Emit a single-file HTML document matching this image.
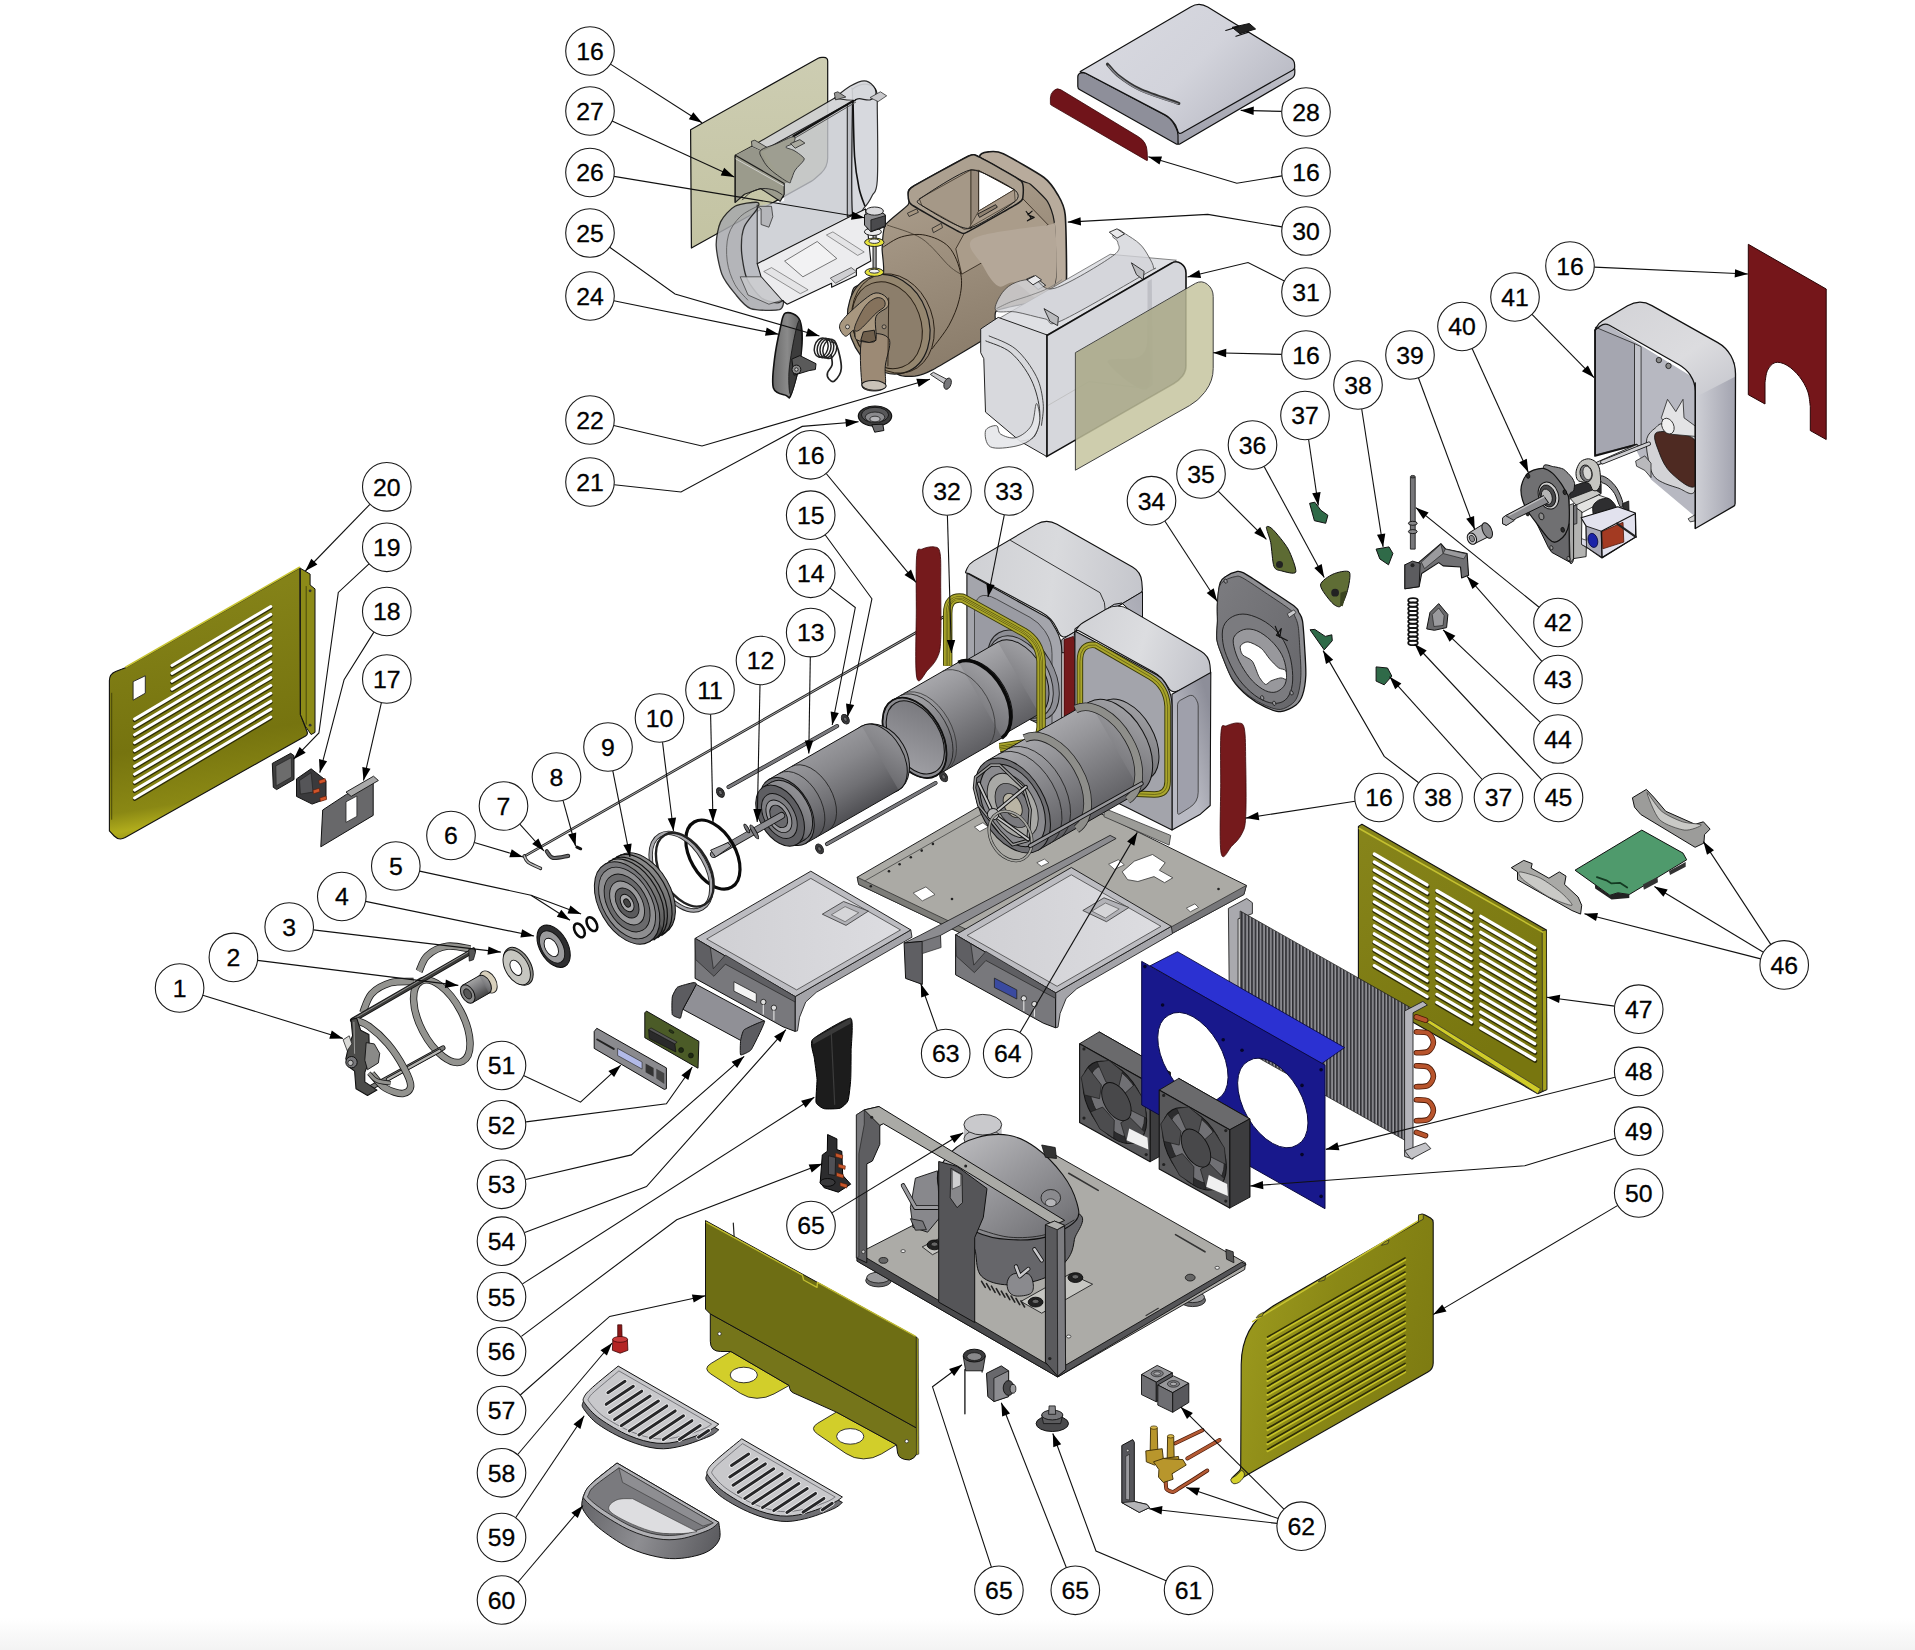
<!DOCTYPE html>
<html lang="en"><head><meta charset="utf-8"><title>Exploded view - parts diagram</title>
<style>html,body{margin:0;padding:0;background:#fff}body{width:1915px;height:1650px;overflow:hidden}svg{display:block}
text{font-family:"Liberation Sans","DejaVu Sans",sans-serif;font-size:24.8px;fill:#000;stroke:#000;stroke-width:0.3px;letter-spacing:0px;text-anchor:middle}</style></head><body>
<svg width="1915" height="1650" viewBox="0 0 1915 1650">
<rect width="1915" height="1650" fill="#fff"/>
<defs><linearGradient id="gFoot" x1="0" y1="0" x2="0" y2="1"><stop offset="0" stop-color="#ffffff"/><stop offset="1" stop-color="#f3f3f3"/></linearGradient></defs>
<rect x="0" y="1618" width="1915" height="32" fill="url(#gFoot)"/>
<g id="parts">
<defs><linearGradient id="gBeige" x1="0" y1="0" x2="0" y2="1"><stop offset="0" stop-color="#cdcdb2"/><stop offset="1" stop-color="#c3c3a2"/></linearGradient></defs>
<path d="M690.6 129.8L818.2 58.3 Q819.9 57.3 821.9 57.3L823.8 57.3 Q827.7 57.3 827.7 61.2L827.7 158.1 Q827.7 167.1 821 173.2L814.8 178.8 Q813.3 180.2 811.6 181.1L691.4 248Z" fill="url(#gBeige)" stroke="#111" stroke-width="1.2" stroke-linejoin="round" />
<polygon points="761.1,147.5 847.3,103.1 847.3,216.7 757.2,263.7 757.2,206.3 784.1,201 784.1,183.3" fill="#c6c8ce" opacity="0.8" stroke-linejoin="round" />
<polygon points="757.2,206.3 757.2,263.7 761.1,276.8 745.4,278.1 740.7,250.7 744.1,224.5" fill="#b4b6bc" opacity="0.9" stroke-linejoin="round" />
<polygon points="847.3,103.1 852.5,100.5 852.5,214.1 847.3,216.7" fill="#b8bac0" stroke="#111" stroke-width="1.1" opacity="0.9" stroke-linejoin="round" />
<path d="M852.5 100.5 C852.6 79.6 850.8 91.5 853 88.8 C855.2 86 861.7 83.9 865.5 84.1 C869.4 84.3 874 85.8 876 90.1 C877.9 94.3 877.1 94.6 877.3 109.7 C877.5 124.7 878.2 165.8 877.3 180.2 C876.4 194.5 874.2 191.3 872.1 195.8 C869.9 200.4 867.5 204.5 864.2 207.6 C861 210.6 854.4 231.9 852.5 214.1 C850.5 196.3 852.4 121.4 852.5 100.5Z" fill="#d3d5db" stroke="#1a1a1a" stroke-width="1.2" opacity="0.9" stroke-linejoin="round" />
<path d="M853 100.5 C853.3 109.9 853.6 142.1 854.6 156.7 C855.6 171.2 857.3 179.7 859 188 C860.7 196.3 864 203.2 865 206.3" fill="none" stroke="#111" stroke-width="1.6" stroke-linejoin="round" />
<polygon points="757.2,263.7 848.6,217.2 865.5,208.9 870.8,261.1 856.4,268.9 856.4,275.5 831.6,287.2 831.6,283.3 787.2,304.2 782,300.3 761.1,276.8" fill="#ececee" stroke="#111" stroke-width="1.1" stroke-linejoin="round" />
<polygon points="784.6,261.1 817.2,241.5 836.8,258.5 802.9,276.8" fill="#f2f2f3" stroke="#444" stroke-width="0.7" stroke-linejoin="round" />
<polygon points="763.7,271.5 771.5,267.6 808.1,289.8 800.3,293.7" fill="#e4e4e6" stroke="#555" stroke-width="0.6" stroke-linejoin="round" />
<polygon points="826.4,235 832.9,231.9 864.2,252 857.7,255.4" fill="#e4e4e6" stroke="#555" stroke-width="0.6" stroke-linejoin="round" />
<polygon points="830.3,278.1 851.2,267.6 856.4,271.5 835.5,283.3" fill="#cfcfd2" stroke="#333" stroke-width="0.7" stroke-linejoin="round" />
<polygon points="735.3,155.2 751.4,146.5 834.3,98.2 847,99.9 855,99.9 765.2,149.4 760.6,150.5" fill="#d0d1d3" stroke="#111" stroke-width="1.1" opacity="0.9" stroke-linejoin="round" />
<polyline points="793.4,136.2 855,99.9" fill="none" stroke="#111" stroke-width="2.2" stroke-linejoin="round" stroke-linecap="round" />
<polyline points="795.2,137.9 855.6,102.2" fill="none" stroke="#555" stroke-width="1" stroke-linejoin="round" stroke-linecap="round" />
<path d="M834.3 98.2 C837 96.1 845.4 88.9 850.4 86.1 C855.4 83.2 860.4 80.9 864.2 80.9 C868.1 80.9 871.5 83.9 873.5 86.1 C875.4 88.3 876.3 91.8 875.8 94.1 C875.2 96.4 872.7 99.1 870 99.9 C867.3 100.6 862.1 98.7 859.6 98.7 C857.1 98.7 855.8 99.7 855 99.9" fill="#d6d8dc" stroke="#111" stroke-width="1.2" opacity="0.9" stroke-linejoin="round" />
<polygon points="870,97.6 880.4,91.8 886.7,95.8 878.1,101.6" fill="#c9c9cc" stroke="#333" stroke-width="0.8" stroke-linejoin="round" />
<polygon points="834.3,93 837.8,91.8 845.8,97 835.5,99.9" fill="#9a9a98" stroke="#222" stroke-width="0.8" stroke-linejoin="round" />
<polygon points="751.4,141.3 754.8,140.2 767.5,147.7 760.6,150.5 752,146.5" fill="#a4a49a" stroke="#222" stroke-width="0.8" stroke-linejoin="round" />
<polygon points="735.3,155.2 751.4,147.1 760.6,150.5 771,170.1 788.2,182.2 784.2,183.4" fill="#96968a" stroke-linejoin="round" />
<polygon points="735.3,155.2 784.2,183.4 784.2,194.3 780.2,201.2 760.6,188.5 744.5,194.3 735.3,202.4" fill="#98988a" stroke="#111" stroke-width="1.2" opacity="0.92" stroke-linejoin="round" />
<polyline points="735.3,158.6 783.6,185.7" fill="none" stroke="#ddd" stroke-width="0.8" stroke-linejoin="round" stroke-linecap="round" />
<path d="M760.6 150.5 C758.3 153.2 761.2 156.5 762.9 159.8 C764.6 163 766.7 166.4 771 170.1 C775.2 173.9 784.9 180.6 788.2 182.2 C791.6 183.8 790 181.9 791.1 179.9 C792.3 177.9 793 173.4 795.2 170.1 C797.3 166.9 802.6 162.6 803.8 160.3 C804.9 158 803.7 157.9 802.1 156.3 C800.4 154.7 796.7 152.1 794 150.5 C791.3 149 786 148.3 785.9 147.1 C785.8 145.8 792.2 144.8 793.4 143.1 C794.7 141.3 796.2 136.6 793.4 136.7 C790.6 136.8 782.2 141.3 776.7 143.6 C771.3 145.9 762.9 147.9 760.6 150.5Z" fill="#9a9a8c" stroke="#222" stroke-width="0.9" opacity="0.9" stroke-linejoin="round" />
<polygon points="790.5,143.6 799.8,139.6 804.9,143.1 795.2,148.2" fill="#a9a99f" stroke="#222" stroke-width="0.8" stroke-linejoin="round" />
<path d="M742.2 200.1 C743.7 198.7 747.9 193.9 751.4 192 C754.8 190.1 759.1 188.8 762.9 188.5 C766.7 188.3 771.2 189.2 774.4 190.3 C777.7 191.3 781.1 194.1 782.5 194.9" fill="none" stroke="#222" stroke-width="0.9" stroke-linejoin="round" />
<path d="M757.2 202.3 C754.2 202 739.9 203.7 735 206.3 C730.1 208.9 723.1 216.7 720.6 221.9 C718.1 227.2 716 238.5 716.2 245.4 C716.4 252.4 719.4 267.7 721.9 274.2 C724.4 280.6 731.2 289.1 735 293.7 C738.8 298.3 744.7 306.5 750.7 308.6 C756.6 310.7 775 310.7 779.4 309.7 C783.7 308.6 783.6 301.7 783.3 300.8 C782.9 299.9 779.7 303.3 776.8 302.9 C773.8 302.5 765.1 301 761.1 297.7 C757.1 294.3 749.3 284.3 746.7 278.1 C744.1 271.8 741.9 257.4 741.5 250.7 C741.2 243.9 742 232.7 744.1 227.2 C746.2 221.6 755.4 212.2 757.2 208.9 C758.9 205.6 760.1 202.7 757.2 202.3Z" fill="#a7a9ad" stroke="#111" stroke-width="1.3" opacity="0.85" stroke-linejoin="round" />
<path d="M757.2 206.3 C754.4 208 745 211.9 740.2 216.7 C735.4 221.5 730.6 227.6 728.5 235 C726.3 242.4 726.1 252.8 727.2 261.1 C728.2 269.4 731.5 278.1 735 284.6 C738.5 291.1 745.9 297.7 748 300.3" fill="none" stroke="#555" stroke-width="0.8" stroke-linejoin="round" />
<polyline points="757.2,205 757.2,263.7" fill="none" stroke="#222" stroke-width="1" stroke-linejoin="round" stroke-linecap="round" />
<polygon points="757.2,206.3 771.5,206.3 772.8,216.7 768.9,227.2 761.1,224.5 761.1,208.9" fill="#b5b6ba" stroke="#333" stroke-width="0.8" stroke-linejoin="round" />
<polygon points="740.2,276.8 748,295 768.9,304.2 782,300.3 761.1,276.8" fill="#c6c7ca" stroke="#333" stroke-width="0.8" opacity="0.9" stroke-linejoin="round" />
<polyline points="735,156.1 735,202.3" fill="none" stroke="#222" stroke-width="1.1" stroke-linejoin="round" stroke-linecap="round" />
<defs><linearGradient id="gBowl" x1="0" y1="0" x2="0.3" y2="1"><stop offset="0" stop-color="#b3a695"/><stop offset="0.5" stop-color="#9f917f"/><stop offset="1" stop-color="#8b7d6b"/></linearGradient></defs>
<path d="M979.5 157.2 C979.5 151.8 986.9 152.1 989.7 151.7 C992.5 151.3 996.9 150.7 1003.3 153.8 C1009.6 156.8 1037.7 172.8 1044 177.5 C1050.3 182.3 1055.1 190.1 1057.6 194.5 C1060.1 198.8 1064.2 204.6 1065.2 214.8 C1066.2 225.1 1066.8 274 1066.4 282.7 C1066 291.4 1063.2 288.5 1061.8 289.5 C1060.4 290.5 1056.1 291.4 1054.2 291.2 C1052.3 291 1049.3 292.8 1045.7 287.8 C1042.1 282.9 1030.2 259.3 1023.6 248.8 C1017.1 238.3 994.8 208.6 989.7 197.9 C984.5 187.2 979.5 162.5 979.5 157.2Z" fill="#b8ab9c" stroke="#1a1a1a" stroke-width="1.6" stroke-linejoin="round" />
<path d="M882.8 275.6 C885.4 272 881.9 253.4 882.1 248.8 C882.3 244.2 882.9 229.1 885.3 225 C887.7 221 906.1 207.7 908.2 204.7 C910.3 201.6 907.8 193.6 908.2 191.9 C908.7 190.3 907.4 189.8 913 186.5 C918.6 183.2 963.1 158.4 969.3 155.8 C975.6 153.2 976.4 155.7 981.2 158 C986 160.3 1017.4 178.5 1021.9 180.9 C1026.5 183.3 1028.1 182.4 1030.4 184.3 C1032.8 186.2 1045.2 197.9 1047.4 201.3 C1049.6 204.7 1053.4 214.3 1054.2 221.6 C1054.9 228.9 1056.8 273.9 1055.5 281 C1054.3 288.2 1046 297 1040.6 299.7 C1035.2 302.4 1000.5 307.9 996.5 310.7 C992.4 313.5 997.8 327.5 996.5 330.2 C995.2 333 988.1 336.8 982.2 340.4 C976.3 344.1 938.2 366.9 932 370.1 C925.8 373.4 918.1 375.7 915 376.1 C911.9 376.4 902.1 376.7 898.1 374.4 C894 372 875.3 355.9 870.9 350.6 C866.6 345.3 852.1 322.4 850.5 316.7 C849 310.9 851 291.6 853.9 287.8 C856.9 284.1 880.2 279.2 882.8 275.6Z" fill="url(#gBowl)" stroke="#1a1a1a" stroke-width="1.2" stroke-linejoin="round" />
<polygon points="964.2,233.5 1022.8,198.7 1048.2,225 961.7,274.2 955.8,248.8" fill="#aa9c8a" stroke="#2a2015" stroke-width="0.8" stroke-linejoin="round" />
<path d="M973.6 238.6 C962.7 245.4 978.8 257.8 982.9 265.8 C987 273.7 992.8 283.3 998.2 286.1 C1003.6 288.9 1008.1 280.5 1015.2 282.7 C1022.2 285 1033.9 300 1040.6 299.7 C1047.3 299.4 1053.1 293.5 1055.5 281 C1057.9 268.6 1056.2 234.4 1055 225 C1053.8 215.7 1061.8 222.8 1048.2 225 C1034.7 227.3 984.5 231.8 973.6 238.6Z" fill="#b4a798" stroke-linejoin="round" />
<path d="M883.1 247.1 C886.2 245.4 894.4 238.9 901.5 236.9 C908.5 234.9 917.3 233.5 925.2 235.2 C933.1 236.9 943 240.6 949 247.1 C954.9 253.6 959.2 265.5 960.8 274.2 C962.5 283 961.1 291.2 959.2 299.7 C957.2 308.2 953.5 316.9 949 325.2 C944.4 333.4 934.8 344.9 932 348.9" fill="none" stroke="#2a2015" stroke-width="1" stroke-linejoin="round" />
<path d="M887 225 C892.8 227.3 911.5 231.8 921.8 238.6 C932.1 245.4 942.5 259.8 949 265.8 C955.5 271.7 958.9 272.8 960.8 274.2" fill="none" stroke="#3a3025" stroke-width="0.7" stroke-linejoin="round" />
<path d="M908.2 192.8 C908.3 191.4 908.4 189.3 913 186.5 C917.6 183.7 964.3 158 969.3 155.8 C974.3 153.6 975.6 155.3 979.5 157.2 C983.4 159 1017.8 177.9 1021.1 180.9 C1024.3 184 1023 196.2 1022.8 197.9 C1022.6 199.5 1022.7 200.4 1018.5 203 C1014.4 205.5 972.1 229.7 967.6 231.8 C963.2 234 963.4 233.9 959.2 231.8 C955 229.8 915.5 207.6 911.6 204.7 C907.8 201.7 908.1 194.1 908.2 192.8Z" fill="#aca090" stroke="#1a1a1a" stroke-width="1.5" stroke-linejoin="round" />
<polygon points="919.3,198.7 971,169.9 971,228.4 964.2,229.3 921.8,205.5" fill="#a59887" stroke="#3a3025" stroke-width="0.8" stroke-linejoin="round" />
<polygon points="971,169.9 978.7,170.4 978.7,211.1 971,228.4" fill="#97897a" stroke="#3a3025" stroke-width="0.8" stroke-linejoin="round" />
<polygon points="978.7,170.4 1014.3,189.7 978.7,211.1" fill="#fff" stroke="#2a2015" stroke-width="1" stroke-linejoin="round" />
<polygon points="978.7,211.1 1014.3,189.7 1015.2,201.3 969.3,227.6" fill="#aa9b8a" stroke="#3a3025" stroke-width="0.7" stroke-linejoin="round" />
<path d="M920.1 198.7 C925 195.2 961.6 170.8 971 169.9 C980.4 169 1009.9 186.6 1014.3 189.7 C1018.7 192.9 1019.8 197.4 1015.2 201.3 C1010.5 205.1 977 228 967.6 228.4 C958.3 228.8 926.6 208.5 921.8 205.5 C917.1 202.5 915.2 202.3 920.1 198.7Z" fill="none" stroke="#1a1a1a" stroke-width="1" stroke-linejoin="round" />
<polygon points="977.8,214 995.6,204.7 997.3,207.2 979.5,217.4" fill="#8f8171" stroke="#1a1a1a" stroke-width="0.9" stroke-linejoin="round" />
<ellipse cx="888.7" cy="324.3" rx="39.9" ry="50.9" transform="rotate(-20 888.7 324.3)" fill="#94866f" stroke="#1a1a1a" stroke-width="1.2"/>
<ellipse cx="887" cy="325.2" rx="33.9" ry="44.5" transform="rotate(-20 887 325.2)" fill="#8c7e6b" stroke="#2a2015" stroke-width="1"/>
<ellipse cx="893" cy="323.5" rx="39.9" ry="50.9" transform="rotate(-20 893 323.5)" fill="none" stroke="#2a2015" stroke-width="0.9"/>
<path d="M861.6 340.4 C859.2 348.3 860.9 372.9 861.6 381.2 C862.3 389.4 862.8 388.1 865.8 389.6 C868.8 391.2 876.1 391.3 879.4 390.5 C882.6 389.6 884.3 388.6 885.3 384.5 C886.3 380.4 884.6 373.2 885.3 365.9 C886 358.5 891.1 345.8 889.6 340.4 C888 335.1 880.7 333.6 876 333.6 C871.3 333.6 864 332.5 861.6 340.4Z" fill="#9c8a75" stroke="#1a1a1a" stroke-width="1" stroke-linejoin="round" />
<ellipse cx="874" cy="385.4" rx="12.2" ry="4.8" transform="rotate(3 874 385.4)" fill="#c9c2b8" stroke="#1a1a1a" stroke-width="1"/>
<path d="M839.5 326.8 C839.5 323.6 841.4 321.2 845.5 316.7 C849.6 312.1 859 303.7 864.1 299.7 C869.2 295.7 872.3 293.3 876 292.9 C879.7 292.5 884.2 294.9 886.2 297.2 C888.2 299.4 889.6 303.2 887.9 306.5 C886.2 309.7 878 311.3 876 316.7 C874 322 877.1 334.5 876 338.7 C874.9 343 872.5 342 869.2 342.1 C866 342.3 859 341.6 856.5 339.6 C853.9 337.6 855.8 330.8 853.9 330.2 C852.1 329.7 847.9 336.7 845.5 336.2 C843.1 335.6 839.5 330.1 839.5 326.8Z" fill="#a8977f" stroke="#1a1a1a" stroke-width="1" stroke-linejoin="round" />
<path d="M865 306.5 C868.5 301.7 872.9 299.1 876 298 C879.1 296.9 882.2 298.3 883.6 299.7 C885.1 301.1 885.8 304.2 884.5 306.5 C883.2 308.7 880.2 309.3 876 313.3 C871.8 317.2 862.6 328 859 330.2 C855.5 332.5 853.8 330.8 854.8 326.8 C855.8 322.9 861.4 311.3 865 306.5Z" fill="#85725c" stroke="#1a1a1a" stroke-width="0.9" stroke-linejoin="round" />
<polygon points="863.3,331.9 874.3,330.2 876,340.4 869.2,342.5 860.7,340.4" fill="#6f5f4c" stroke="#111" stroke-width="0.9" stroke-linejoin="round" />
<ellipse cx="847.5" cy="326.8" rx="2" ry="2" fill="#d9d2c8" stroke="#222" stroke-width="0.8"/>
<ellipse cx="884.1" cy="326.8" rx="2" ry="2" fill="#a59580" stroke="#222" stroke-width="0.8"/>
<polyline points="888.7,298 887.9,365.9" fill="none" stroke="#2a2015" stroke-width="0.9" stroke-linejoin="round" stroke-linecap="round" />
<polygon points="907.4,213.2 916.7,208.9 918.4,212.3 909.1,216.5" fill="#a59580" stroke="#222" stroke-width="0.8" stroke-linejoin="round" />
<polygon points="932,228.4 941.3,223.3 942.5,227.6 933.4,232.7" fill="#a59580" stroke="#222" stroke-width="0.8" stroke-linejoin="round" />
<polyline points="1026.2,211.5 1031.3,218.2 1027.4,220.8 1034.2,217.4 1027.9,214.8 1032.1,211.1" fill="none" stroke="#111" stroke-width="1.2" stroke-linejoin="round" stroke-linecap="round" />
<polygon points="1026.2,279.3 1033.8,275.9 1045.7,285.3 1038.1,289.5 1035.5,287 1030.4,282.7" fill="#c9c9c9" stroke="#222" stroke-width="0.9" stroke-linejoin="round" />
<polyline points="874.6,231.8 874.6,270.8" fill="none" stroke="#222" stroke-width="4.2" stroke-linejoin="round" stroke-linecap="round" />
<polyline points="874.6,231.8 874.6,270.8" fill="none" stroke="#aaa" stroke-width="2" stroke-linejoin="round" stroke-linecap="round" />
<ellipse cx="874.3" cy="272.2" rx="9.3" ry="4.1" fill="#e6e23c" stroke="#222" stroke-width="1"/>
<ellipse cx="874.3" cy="271.2" rx="5.1" ry="2" fill="#f2f2f2" stroke="#222" stroke-width="0.9"/>
<ellipse cx="874.3" cy="242.3" rx="9.7" ry="4.2" fill="#e6e23c" stroke="#222" stroke-width="1"/>
<ellipse cx="874.3" cy="241.2" rx="5.4" ry="2.2" fill="#f2f2f2" stroke="#222" stroke-width="0.9"/>
<ellipse cx="872.9" cy="231.8" rx="8.5" ry="3.7" fill="#e9e9ea" stroke="#222" stroke-width="1"/>
<polygon points="864.5,214.8 877.7,209.8 885.3,214.8 885.3,226.7 870.9,231.8 864.5,225" fill="#8c8c8f" stroke="#111" stroke-width="1" stroke-linejoin="round" />
<ellipse cx="874.6" cy="211.1" rx="8.8" ry="4.1" fill="#d9d9dc" stroke="#222" stroke-width="1"/>
<polygon points="870.9,219.9 885.3,215.7 885.3,225.9 870.9,231.5" fill="#4a4a4d" stroke="#111" stroke-width="0.8" stroke-linejoin="round" />
<polygon points="930.3,374.4 933.4,372.3 947.3,379.5 945.6,384.5" fill="#c9c9cc" stroke="#222" stroke-width="0.9" stroke-linejoin="round" />
<ellipse cx="947.6" cy="383.7" rx="3.4" ry="5.8" transform="rotate(20 947.6 383.7)" fill="#77777a" stroke="#222" stroke-width="0.9"/>
<defs><linearGradient id="gLid" x1="0" y1="0" x2="1" y2="0.6"><stop offset="0" stop-color="#d9dae1"/><stop offset="0.6" stop-color="#d2d3db"/><stop offset="1" stop-color="#b9bac4"/></linearGradient><linearGradient id="gLidS" x1="0" y1="0" x2="0" y2="1"><stop offset="0" stop-color="#c3c4cd"/><stop offset="1" stop-color="#9c9da8"/></linearGradient></defs>
<path d="M1176.5 130L1288.6 66.2 Q1294.8 62.7 1294.8 69.7L1294.8 72.8 Q1294.8 76.8 1291.3 78.8L1179.8 143.9 Q1178 144.9 1177.8 142.9Z" fill="url(#gLidS)" stroke="#111" stroke-width="1.2" stroke-linejoin="round" />
<path d="M1077.8 76.8 Q1077.8 73.6 1080.9 73L1082.1 72.8 Q1084 72.4 1085.8 73.3L1164.3 114.8 Q1171 118.3 1174.5 124.9L1176.2 128.1 Q1178 131.6 1178 135.6L1178 142.9 Q1178 144.9 1176.3 143.9L1079.5 89.5 Q1077.8 88.5 1077.8 86.5Z" fill="#8e8f9a" stroke="#111" stroke-width="1.2" stroke-linejoin="round" />
<path d="M1081.5 72.4 Q1078.9 72.4 1081.1 71.1L1190.6 6.9 Q1199.2 1.9 1207.7 7.1L1290.8 58.1 Q1294.4 60.3 1294.6 64.6L1294.7 66.9 Q1294.8 68.9 1293 69.9L1182 132.8 Q1178.5 134.7 1177.7 130.8L1177.5 130 Q1176.5 125.3 1173.2 121.8L1171.3 119.7 Q1168.6 116.7 1165.1 114.9L1085.8 73.3 Q1084 72.4 1082 72.4Z" fill="url(#gLid)" stroke="#111" stroke-width="1.2" stroke-linejoin="round" />
<path d="M1107.5 64.2 C1109.2 66.1 1112.4 71 1117.7 75.2 C1123.1 79.4 1129.5 84.6 1139.7 89.3 C1149.8 94 1172.3 101 1178.8 103.4" fill="none" stroke="#333" stroke-width="3.2" stroke-linejoin="round" stroke-linecap="round"/>
<path d="M1108.3 65.8 C1110 67.6 1113.3 72.4 1118.5 76.4 C1123.7 80.5 1129.7 85.5 1139.7 90.1 C1149.6 94.6 1171.6 101.6 1178 103.9" fill="none" stroke="#8a8b93" stroke-width="1.2" stroke-linejoin="round" stroke-linecap="round"/>
<polygon points="1232.1,27.4 1249.3,23.5 1255.6,29 1239.9,33.7" fill="#222" stroke="#111" stroke-width="1" stroke-linejoin="round" />
<polyline points="1225.8,30.5 1238.4,26.6" fill="none" stroke="#111" stroke-width="1.2" stroke-linejoin="round" stroke-linecap="round" />
<polyline points="1236,36.3 1248.5,32.1" fill="none" stroke="#111" stroke-width="1.2" stroke-linejoin="round" stroke-linecap="round" />
<path d="M1050.4 98 Q1050.4 94 1053.2 91.2L1053.7 90.7 Q1056.9 87.4 1060.9 89.8L1138.5 136.8 Q1146.7 141.8 1147.1 151.3L1147.5 159.9 Q1147.5 160.9 1146.6 160.4L1051.2 105.1 Q1050.4 104.6 1050.4 103.6Z" fill="#70141a" stroke="#3a0508" stroke-width="0.8" stroke-linejoin="round" />
<polygon points="980.7,329 1046.9,334.9 1176.4,260.2 1110.2,254.3" fill="#dfe0e4" stroke="#555" stroke-width="0.7" stroke-linejoin="round" />
<path d="M995.6 310.3 C993.4 307.1 999 297.2 1002.4 292.5 C1005.8 287.8 1010.6 284.4 1016 282.3 C1021.4 280.2 1028.2 278.8 1034.7 279.8 C1041.2 280.7 1042 292.2 1055 288.2 C1068 284.3 1102.3 263.6 1112.7 256 C1123.2 248.4 1117.8 245.7 1117.8 242.4 C1117.8 239.2 1112.7 238.6 1112.7 236.5 C1112.7 234.4 1115.7 230.1 1117.8 229.7 C1119.9 229.3 1121.8 231.5 1125.5 233.9 C1129.1 236.3 1136.1 240.4 1139.9 244.1 C1143.7 247.8 1146.1 252 1148.4 256 C1150.6 260 1153.7 265.1 1153.5 267.9 C1153.2 270.7 1161.9 264.2 1146.7 273 C1131.4 281.7 1078.8 312.8 1061.8 320.5 C1044.8 328.1 1052.5 320.2 1044.8 318.8 C1037.2 317.4 1024.2 313.4 1016 312 C1007.8 310.6 997.9 313.6 995.6 310.3Z" fill="#d3d4d9" stroke="#333" stroke-width="0.9" opacity="0.78" stroke-linejoin="round" />
<path d="M996.5 308.6 C998.9 307.5 1005.1 304.1 1010.9 301.8 C1016.7 299.6 1025.1 297.3 1031.3 295 C1037.5 292.8 1043.2 290.8 1048.2 288.2 C1053.3 285.7 1059.6 281.2 1061.8 279.8" fill="none" stroke="#777" stroke-width="0.8" stroke-linejoin="round" />
<polygon points="1109.3,232.2 1117,228.8 1124.6,233.9 1117,238.2" fill="#e9e9eb" stroke="#222" stroke-width="0.9" stroke-linejoin="round" />
<polygon points="1027,279.8 1035.5,275.5 1041.5,279.8 1033,284.8" fill="#e9e9eb" stroke="#222" stroke-width="0.9" stroke-linejoin="round" />
<polygon points="1131.4,262.8 1144.1,271.3 1143.3,279.8 1136.5,274.7" fill="#b9babd" stroke="#222" stroke-width="0.9" stroke-linejoin="round" />
<polygon points="1044,308.6 1058.4,317.1 1057.6,325.6 1049.9,321.3" fill="#b9babd" stroke="#222" stroke-width="0.9" stroke-linejoin="round" />
<path d="M1046.5 335.8L1171.3 263.2 Q1176.4 260.2 1181.2 263.6L1181.2 263.6 Q1186 267 1186 272.9L1186 365.5 Q1186 371.4 1182.5 376.1L1182.5 376.1 Q1178.9 380.7 1173.8 383.6L1046.5 456.6Z" fill="#d6d7dc" stroke="#111" stroke-width="1.6" stroke-linejoin="round" />
<polygon points="1147.5,281.5 1151.8,278.9 1152.6,385 1147.5,388.4" fill="#bfc0c6" stroke-linejoin="round" />
<path d="M1147.5 318.8 C1147.4 311.7 1148.5 339.4 1146.7 345.9 C1144.8 352.4 1143 355.1 1136.5 357.8 C1130 360.5 1105.8 357 1107.6 362.1 C1109.5 367.2 1140.9 395.6 1147.5 388.4 C1154.2 381.2 1147.7 325.9 1147.5 318.8Z" fill="#b5b6bd" stroke-linejoin="round" />
<polyline points="1048.2,405.3 1089,381.6 1146.7,388.4" fill="none" stroke="#bbb" stroke-width="0.8" stroke-linejoin="round" stroke-linecap="round" />
<polygon points="980.7,329 998.2,317.4 1046.9,334.9 1046.9,456.6 1020.2,441.3 985.5,412.1 983.8,358.7 980.7,352.7" fill="#d8d9dd" stroke="#222" stroke-width="1" stroke-linejoin="round" />
<path d="M985.5 340.8 C989.7 342.8 1003.3 346.2 1010.9 352.7 C1018.5 359.2 1026.5 370 1031.3 379.9 C1036.1 389.8 1039.2 402.8 1039.8 412.1 C1040.3 421.5 1037.9 431 1034.7 435.9 C1031.4 440.7 1022.6 440.4 1020.2 441.3" fill="none" stroke="#333" stroke-width="1" stroke-linejoin="round" />
<path d="M988.8 335.8 C993.4 338 1008.1 342.5 1016 349.3 C1023.9 356.1 1031.8 367.4 1036.4 376.5 C1040.9 385.5 1042.3 395.4 1043.2 403.6 C1044 411.8 1041.7 422 1041.5 425.7" fill="none" stroke="#333" stroke-width="0.9" stroke-linejoin="round" />
<path d="M985.5 430.8 C986.4 427.3 993.9 425.1 996.5 425.7 C999 426.3 997.5 432.2 1000.7 434.2 C1004 436.2 1010.9 439 1016 437.6 C1021.1 436.2 1027.9 431.4 1031.3 425.7 C1034.7 420 1034.9 404.5 1036.4 403.6 C1037.8 402.8 1040.3 414.9 1039.8 420.6 C1039.2 426.3 1036.9 433.3 1033 437.6 C1029 441.8 1023.1 444.5 1016 446.1 C1008.9 447.6 995.6 449.5 990.5 446.9 C985.5 444.4 984.5 434.3 985.5 430.8Z" fill="#e6e7ea" stroke="#333" stroke-width="0.9" opacity="0.9" stroke-linejoin="round" />
<polyline points="1046.9,334.9 1046.9,456.6" fill="none" stroke="#111" stroke-width="1.4" stroke-linejoin="round" stroke-linecap="round" />
<path d="M1075.4 352.7L1195.4 283.4 Q1201.8 279.8 1207.5 284.4L1207.5 284.4 Q1213.2 289.1 1213.2 296.4L1213.2 368.4 Q1213.2 380.7 1205.8 390.7L1204.4 392.6 Q1198.4 400.6 1189.7 405.5L1075.4 470.2Z" fill="#c6c5a0" stroke="#222" stroke-width="1" opacity="0.86" stroke-linejoin="round" />
<path d="M1075.4 352.7L1186 288.9L1186 365.5 Q1186 371.4 1182.5 376.1L1182.5 376.1 Q1178.9 380.7 1173.8 383.6L1075.4 440.1Z" fill="#8a8972" opacity="0.38" stroke-linejoin="round" />
<defs><linearGradient id="gHandle" x1="0" y1="0" x2="1" y2="0"><stop offset="0" stop-color="#6a6a6a"/><stop offset="0.5" stop-color="#8a8a8a"/><stop offset="1" stop-color="#5a5a5a"/></linearGradient></defs>
<path d="M785.5 313 C788.7 311.8 797.3 313.6 799.9 320.5 C802.5 327.4 802.5 342.2 801 354.5 C799.6 366.8 793.7 387.4 791.2 394.2 C788.7 401 789 396.4 786.1 395.4 C783.1 394.3 775.3 393.9 773.4 387.9 C771.5 381.8 773.4 369.1 774.5 359.1 C775.7 349.1 778.5 335.7 780.3 328 C782.1 320.3 782.2 314.3 785.5 313Z" fill="url(#gHandle)" stroke="#111" stroke-width="1.6" stroke-linejoin="round" />
<path d="M799.9 320.5 C801 323.2 802.5 342.2 801 354.5 C799.6 366.8 793.3 391.1 791.2 394.2 C789.2 397.3 788.5 382.2 788.9 372.9 C789.4 363.6 792.3 347.1 794.1 338.4 C795.9 329.6 798.7 317.8 799.9 320.5Z" fill="#3c3c3c" stroke="#111" stroke-width="0.8" stroke-linejoin="round" />
<polygon points="791.8,359.1 799.9,355.6 816,363.7 815.4,369.5 809.1,370.6 794.1,375.2" fill="#5a5a5a" stroke="#111" stroke-width="1" stroke-linejoin="round" />
<ellipse cx="796.4" cy="369.5" rx="4.4" ry="4.4" fill="#8c8c8c" stroke="#111" stroke-width="1"/>
<ellipse cx="796.4" cy="369.5" rx="1.7" ry="1.7" fill="#ccc" stroke="#111" stroke-width="0.8"/>
<ellipse cx="821.2" cy="347.6" rx="6.7" ry="9.8" transform="rotate(15 821.2 347.6)" fill="none" stroke="#222" stroke-width="1.5"/>
<ellipse cx="824.1" cy="348" rx="6.7" ry="9.8" transform="rotate(15 824.1 348)" fill="none" stroke="#222" stroke-width="1.5"/>
<ellipse cx="826.9" cy="348.4" rx="6.7" ry="9.8" transform="rotate(15 826.9 348.4)" fill="none" stroke="#222" stroke-width="1.5"/>
<ellipse cx="829.8" cy="348.9" rx="6.7" ry="9.8" transform="rotate(15 829.8 348.9)" fill="none" stroke="#222" stroke-width="1.5"/>
<path d="M831 341.8 C831.9 342.4 835 340.9 836.7 345.3 C838.5 349.7 841.7 362.4 841.3 368.3 C840.9 374.3 836.5 379.2 834.4 381 C832.3 382.7 829.8 380 828.7 378.7 C827.5 377.3 826.9 375.2 827.5 372.9 C828.1 370.6 831.5 367.9 832.1 364.8 C832.7 361.8 831.2 356.2 831 354.5" fill="none" stroke="#222" stroke-width="1.7" stroke-linejoin="round" />
<ellipse cx="875" cy="416.1" rx="16.7" ry="10.1" fill="#3c3c3c" stroke="#111" stroke-width="1.2"/>
<ellipse cx="875" cy="414.9" rx="13.6" ry="7.6" fill="#58585a" stroke="#111" stroke-width="0.9"/>
<ellipse cx="875" cy="417.2" rx="9.8" ry="5.2" fill="#8a8a8d" stroke="#222" stroke-width="0.9"/>
<ellipse cx="875" cy="419" rx="5.2" ry="2.8" fill="#b5b5b8" stroke="#222" stroke-width="0.8"/>
<polygon points="871.8,424.7 882.8,424.2 883.9,430.5 874.7,432.2" fill="#6c6c6e" stroke="#111" stroke-width="1" stroke-linejoin="round" />
<path d="M1748.3 394.7 L1748.3 244.3 L1826.2 289 L1826.2 439.5 L1810.3 430.6 L1810.3 406.5 C1809.9 403.9 1809.5 396 1807.6 391 C1805.8 386.1 1802.8 380.9 1799.4 376.6 C1796 372.3 1791.1 367.6 1787 365.3 C1783 362.9 1778.3 361.7 1775.1 362.6 C1771.8 363.5 1769.1 367.1 1767.5 370.4 C1765.8 373.8 1765.4 380.7 1765 382.8 L1765 404 Z" fill="#75161a" stroke="#2a0305" stroke-width="1" stroke-linejoin="round" />
<defs><linearGradient id="gCovR" x1="0" y1="0" x2="1" y2="0"><stop offset="0" stop-color="#cfd0d6"/><stop offset="1" stop-color="#a3a4b0"/></linearGradient><linearGradient id="gCovT" x1="0" y1="0" x2="1" y2="1"><stop offset="0" stop-color="#d2d2d6"/><stop offset="0.6" stop-color="#dcdcdf"/><stop offset="1" stop-color="#c4c5cc"/></linearGradient></defs>
<polygon points="1595.4,327.2 1603.6,322.6 1695.3,378.7 1695.3,516.7 1651,479.6 1634.5,446.7 1595.4,454.9" fill="#b7b8c1" stroke-linejoin="round" />
<polygon points="1595.4,327.2 1634.5,343.6 1634.5,444.6 1595.4,454.9" fill="#a5a6b0" stroke="#222" stroke-width="0.8" stroke-linejoin="round" />
<polygon points="1634.5,343.6 1641.1,346.7 1641.1,446.7 1634.5,444.6" fill="#c3c4cb" stroke="#222" stroke-width="0.8" stroke-linejoin="round" />
<path d="M1646.9 438.4 C1648.1 433.6 1652.1 430.5 1655.2 428.1 C1658.2 425.7 1658.8 422.6 1665.5 424 C1672.2 425.4 1690.4 425.4 1695.3 436.4 C1700.3 447.4 1698.3 481.4 1695.3 489.9 C1692.4 498.5 1684.5 489.9 1677.8 487.9 C1671.1 485.8 1660.1 482.7 1655.2 477.6 C1650.2 472.4 1649.3 463.5 1647.9 457 C1646.6 450.4 1645.7 443.2 1646.9 438.4Z" fill="#d3d3d6" stroke="#222" stroke-width="0.9" stroke-linejoin="round" />
<path d="M1657.2 432.2 C1663.2 430.2 1689 431.6 1695.3 440.5 C1701.7 449.4 1699.3 480.3 1695.3 485.8 C1691.4 491.3 1677.6 478.9 1671.6 473.5 C1665.6 468 1661.7 459.7 1659.3 452.8 C1656.9 446 1651.2 434.3 1657.2 432.2Z" fill="#4e2a22" stroke="#111" stroke-width="0.8" stroke-linejoin="round" />
<polygon points="1661.3,417.8 1667.5,399.3 1675.8,411.6 1683,399.3 1684,417.8 1695.3,426.1 1695.3,436.4 1671.6,434.3" fill="#e3e3e5" stroke="#222" stroke-width="0.8" stroke-linejoin="round" />
<ellipse cx="1667.9" cy="426.1" rx="5.8" ry="8.2" transform="rotate(-25 1667.9 426.1)" fill="#f0f0f0" stroke="#222" stroke-width="0.8"/>
<polygon points="1635.6,461.1 1644.8,455.9 1651,463.2 1651,477.6 1644.8,470.4 1636.6,466.2" fill="#b9b9bc" stroke="#222" stroke-width="0.8" stroke-linejoin="round" />
<polygon points="1688.1,518.8 1695.3,514.7 1695.3,520.8 1690.2,521.9" fill="#ccc" stroke="#222" stroke-width="0.8" stroke-linejoin="round" />
<path d="M1695.3 384.8L1706.7 364.2L1735.1 362.2L1735.1 502.4 Q1735.1 505.4 1732.5 506.9L1695.3 528.5Z" fill="url(#gCovR)" stroke-linejoin="round" />
<path d="M1595.3 330.2 Q1594.6 331.3 1595.1 330.1L1596.5 327.2 Q1598.5 323 1602.4 320.7L1627.6 305.8 Q1639.7 298.7 1651.9 305.6L1717.8 342.6 Q1726.2 347.3 1730.9 355.8L1732.5 358.8 Q1735.5 364.2 1735.5 370.4L1735.5 376.6L1695.3 397.2L1695.3 390 Q1695.3 382.8 1691.4 376.8L1690.5 375.4 Q1686.1 368.8 1679.1 364.8L1609.4 325.3 Q1604.7 322.6 1600.3 325.9L1597 328.4 Q1596 329.2 1595.3 330.2Z" fill="url(#gCovT)" stroke-linejoin="round" />
<path d="M1595.3 330.2 Q1594.6 331.3 1595.1 330.1L1596.5 327.2 Q1598.5 323 1602.4 320.7L1627.6 305.8 Q1639.7 298.7 1651.9 305.6L1717.8 342.6 Q1726.2 347.3 1730.9 355.8L1730.9 355.8 Q1735.5 364.2 1735.5 373.9L1735.1 503.4 Q1735.1 505.4 1733.4 506.4L1695.3 528.5L1695.3 516.7L1695.3 391.2 Q1695.3 382.8 1690.7 375.8L1690.5 375.4 Q1686.1 368.8 1679.1 364.8L1609.4 325.3 Q1604.7 322.6 1600.3 325.9L1597 328.4 Q1596 329.2 1595.3 330.2Z" fill="none" stroke="#111" stroke-width="1.3" stroke-linejoin="round" />
<polyline points="1595,330.2 1595,455.9 1636.6,444.6" fill="none" stroke="#111" stroke-width="1.8" stroke-linejoin="round" stroke-linecap="round" />
<polyline points="1695.3,382.8 1695.3,528.5" fill="none" stroke="#111" stroke-width="1.2" stroke-linejoin="round" stroke-linecap="round" />
<ellipse cx="1658.9" cy="360.1" rx="2.7" ry="2.7" fill="#888" stroke="#111" stroke-width="0.8"/>
<ellipse cx="1668.5" cy="365.9" rx="2.7" ry="2.7" fill="#888" stroke="#111" stroke-width="0.8"/>
<polyline points="1597.5,463.6 1636.6,446.3" fill="none" stroke="#222" stroke-width="4" stroke-linejoin="round" stroke-linecap="round" />
<polyline points="1597.5,463.6 1636.6,446.3" fill="none" stroke="#c9c9cc" stroke-width="2.2" stroke-linejoin="round" stroke-linecap="round" />
<path d="M1601.1 475.9 C1602.4 475.5 1606 477.2 1608.6 479.3 C1611.3 481.4 1614.6 484.6 1617 488.5 C1619.4 492.4 1622.3 499.6 1622.8 502.7 C1623.4 505.7 1621.7 508.4 1620.3 506.8 C1618.9 505.3 1616.7 497.1 1614.5 493.5 C1612.3 489.9 1609.2 487.1 1607 485.1 C1604.7 483.2 1602.1 483.3 1601.1 481.8 C1600.1 480.2 1599.9 476.3 1601.1 475.9Z" fill="#8e8e90" stroke="#111" stroke-width="1" stroke-linejoin="round" />
<polygon points="1570.2,486.8 1593.6,479.3 1601.1,483.4 1601.1,493.5 1577.7,503.5 1570.2,498.5" fill="#2c2c2e" stroke="#111" stroke-width="0.9" stroke-linejoin="round" />
<polygon points="1570.2,498.5 1594.4,489.3 1601.1,493.5 1576.9,506" fill="#c9c9c6" stroke="#111" stroke-width="0.8" stroke-linejoin="round" />
<polygon points="1571.9,506.8 1598.6,495.1 1608.6,498.5 1581.9,512.7" fill="#e3e3e1" stroke="#111" stroke-width="0.8" stroke-linejoin="round" />
<path d="M1592.8 506.8 C1593.2 504.2 1596.5 501.3 1598.6 500.2 C1600.7 499 1606.4 497.8 1608.6 498.5 C1610.9 499.2 1614.2 503.2 1615.3 505.2 C1616.4 507.2 1618.1 511.5 1617 513.5 C1615.9 515.5 1609.9 519.3 1607 520.2 C1604.1 521.1 1597.2 522 1595.3 520.2 C1593.4 518.4 1592.3 509.5 1592.8 506.8Z" fill="#2e2e30" stroke="#111" stroke-width="0.9" stroke-linejoin="round" />
<polygon points="1622.8,503.5 1628.7,501 1629.1,513.5 1622.8,513.5" fill="#333" stroke="#111" stroke-width="0.8" stroke-linejoin="round" />
<path d="M1576.9 468.4 C1577.6 466.3 1579.3 462.7 1581.1 461.3 C1582.8 459.9 1586.4 458.7 1588.6 458.8 C1590.8 458.9 1594 460.3 1595.7 461.9 C1597.3 463.5 1598.9 466 1599.6 469.2 C1600.3 472.5 1600.8 480.3 1600.5 483.4 C1600.1 486.6 1598.5 489.1 1597.4 490.1 C1596.2 491.1 1594 491.1 1592.8 490.1 C1591.5 489.1 1591.1 484.8 1589 483.4 C1586.9 482.1 1580.5 482.2 1578.6 480.9 C1576.6 479.7 1576.3 477 1576.1 475.1 C1575.8 473.2 1576.1 470.5 1576.9 468.4Z" fill="#c4c4c0" stroke="#111" stroke-width="1" stroke-linejoin="round" />
<ellipse cx="1586.1" cy="473.4" rx="6" ry="8.5" transform="rotate(-12 1586.1 473.4)" fill="#77777a" stroke="#111" stroke-width="0.9"/>
<ellipse cx="1587.3" cy="473" rx="4.2" ry="6.9" transform="rotate(-12 1587.3 473)" fill="#d6d6d4" stroke="#222" stroke-width="0.7"/>
<polyline points="1602.4,462.1 1648.7,443.8" fill="none" stroke="#111" stroke-width="4.4" stroke-linejoin="round" stroke-linecap="round" />
<polyline points="1602.4,462.1 1648.7,443.8" fill="none" stroke="#cfcfd2" stroke-width="2.8" stroke-linejoin="round" stroke-linecap="round" />
<path d="M1543.5 468.4 C1542.3 461.6 1551.5 466.7 1553.5 466.7 C1555.5 466.8 1561.7 468.2 1563.5 469.2 C1565.4 470.3 1570.8 476.2 1571.9 477.6 C1573 479 1574.4 482.1 1574.6 483.4 C1574.7 484.8 1574.1 489.8 1573.6 491 C1573 492.1 1569.8 491.9 1569.4 495.1 C1568.9 498.4 1568.5 520.8 1569 523.6 C1569.4 526.3 1573.1 518.8 1573.6 522.3 C1574 525.8 1573.9 554.6 1573.6 558.6 C1573.2 562.7 1571 565.2 1570.2 562.8 C1569.4 560.4 1567.9 543.9 1565.2 534.4 C1562.5 525 1544.6 475.2 1543.5 468.4Z" fill="#88888a" stroke="#111" stroke-width="1" stroke-linejoin="round" />
<polygon points="1569,505.2 1573.6,503.5 1573.6,558.6 1570.2,562.8 1569,523.6" fill="#a9a9a8" stroke="#111" stroke-width="0.8" stroke-linejoin="round" />
<polygon points="1573.6,506 1581.9,511.9 1581.5,544.4 1586.3,547.4 1586.1,556.6 1573.6,558.6" fill="#b3b3b1" stroke="#111" stroke-width="0.9" stroke-linejoin="round" />
<polygon points="1573.6,506 1576.9,504.8 1576.9,523.6 1573.6,524.4" fill="#77777a" stroke="#111" stroke-width="0.7" stroke-linejoin="round" />
<polygon points="1581.1,517.7 1617.8,506.8 1635.4,513.1 1635.8,536.9 1602,558 1586.3,547.1 1586.1,526.1" fill="#e2e2ee" stroke="#111" stroke-width="1.1" stroke-linejoin="round" />
<polygon points="1586.1,526.1 1601.3,531.2 1602,557.4 1586.5,547.1" fill="#a9a9b6" stroke="#111" stroke-width="0.9" stroke-linejoin="round" />
<ellipse cx="1592.9" cy="540.4" rx="4.7" ry="7.2" transform="rotate(-15 1592.9 540.4)" fill="#1a22a8" stroke="#0a0a40" stroke-width="0.8"/>
<polygon points="1602,531.5 1623,522.3 1623.8,542.1 1602.8,548.8" fill="#a33a22" stroke="#4a1408" stroke-width="0.8" stroke-linejoin="round" />
<polygon points="1601.3,531.2 1635.4,513.5 1635.8,536.9 1602,557.4" fill="none" stroke="#111" stroke-width="1.2" stroke-linejoin="round" />
<polyline points="1617,523.6 1635.8,536.9" fill="none" stroke="#222" stroke-width="2.2" stroke-linejoin="round" stroke-linecap="round" />
<polygon points="1581.5,538.6 1586.3,540.3 1586.5,547.1 1581.5,544.4" fill="#d9d9e6" stroke="#111" stroke-width="0.7" stroke-linejoin="round" />
<polygon points="1536.8,523.6 1548.5,538.6 1554.3,542.1 1559.3,540.3 1565.2,534.4 1569,523.6 1569.4,562 1551.8,552.4 1548.5,547.8" fill="#67676a" stroke="#111" stroke-width="1" stroke-linejoin="round" />
<ellipse cx="1551.4" cy="547.8" rx="1.5" ry="2.2" transform="rotate(-15 1551.4 547.8)" fill="#9a9a9a" stroke="#111" stroke-width="0.7"/>
<ellipse cx="1568.5" cy="558.6" rx="1.5" ry="2.2" transform="rotate(-15 1568.5 558.6)" fill="#9a9a9a" stroke="#111" stroke-width="0.7"/>
<path d="M1520.9 490.1 C1520.9 487.7 1521.8 483.9 1522.6 481.8 C1523.4 479.7 1525.3 476 1526.8 474.4 C1528.2 472.9 1531.2 470.9 1533.4 470.1 C1535.7 469.3 1540.9 468 1543.5 468.4 C1546 468.9 1550.3 471.4 1552.7 473.4 C1555 475.4 1559.1 480.8 1561 483.4 C1562.9 486.1 1565.8 491.5 1566.9 493.5 C1567.9 495.5 1568.4 494.5 1568.7 498.5 C1569 502.5 1569.4 518.8 1569 523.6 C1568.5 528.3 1566.5 532.2 1565.2 534.4 C1563.9 536.6 1560.8 539.2 1559.3 540.3 C1557.9 541.3 1555.8 542.3 1554.3 542.1 C1552.9 541.9 1550.8 541.1 1548.5 538.6 C1546.1 536.1 1539.6 527.2 1536.8 523.6 C1534 519.9 1529.5 514.1 1527.6 511 C1525.7 507.9 1523.5 502.9 1522.6 500.2 C1521.7 497.4 1520.9 492.6 1520.9 490.1Z" fill="#707072" stroke="#111" stroke-width="1.2" stroke-linejoin="round" />
<ellipse cx="1548.5" cy="495.6" rx="9.9" ry="13.8" transform="rotate(-18 1548.5 495.6)" fill="#cdcdcd" stroke="#111" stroke-width="1"/>
<ellipse cx="1547.7" cy="496" rx="7.7" ry="11.3" transform="rotate(-18 1547.7 496)" fill="#4a4a4c" stroke="#111" stroke-width="0.9"/>
<ellipse cx="1546.8" cy="496.8" rx="5.2" ry="7.9" transform="rotate(-18 1546.8 496.8)" fill="#b5b5b5" stroke="#111" stroke-width="0.8"/>
<ellipse cx="1528" cy="475.9" rx="1.8" ry="2.5" transform="rotate(-15 1528 475.9)" fill="#2a2a2a" stroke="#000" stroke-width="0.6"/>
<ellipse cx="1564.8" cy="492.2" rx="1.8" ry="2.5" transform="rotate(-15 1564.8 492.2)" fill="#2a2a2a" stroke="#000" stroke-width="0.6"/>
<ellipse cx="1562.7" cy="529.8" rx="1.8" ry="2.5" transform="rotate(-15 1562.7 529.8)" fill="#2a2a2a" stroke="#000" stroke-width="0.6"/>
<ellipse cx="1527.6" cy="513.5" rx="1.8" ry="2.5" transform="rotate(-15 1527.6 513.5)" fill="#2a2a2a" stroke="#000" stroke-width="0.6"/>
<ellipse cx="1541.4" cy="516.4" rx="2.5" ry="3.5" transform="rotate(-15 1541.4 516.4)" fill="#8a8a8a" stroke="#111" stroke-width="0.8"/>
<polygon points="1502.5,518.1 1505.5,515.6 1543.5,495.6 1548.5,502.7 1516.7,518.1 1506.3,525.4 1502.5,523.6" fill="#8d8d90" stroke="#111" stroke-width="1" stroke-linejoin="round" />
<polygon points="1502.5,518.1 1505.5,515.6 1514.2,520.6 1506.3,525.4 1502.5,523.6" fill="#a9a9ac" stroke="#111" stroke-width="0.8" stroke-linejoin="round" />
<polyline points="1509.2,515.2 1544.3,496.8" fill="none" stroke="#c4c4c6" stroke-width="1.2" stroke-linejoin="round" stroke-linecap="round" />
<defs><linearGradient id="gPl34" x1="0" y1="0" x2="1" y2="1"><stop offset="0" stop-color="#7c7c80"/><stop offset="1" stop-color="#66666a"/></linearGradient></defs>
<path d="M1217.5 602.4 C1217.9 596.6 1218.9 586.7 1220.2 582.7 C1221.5 578.8 1223.8 577.8 1226.2 576.2 C1228.6 574.5 1233.4 572.3 1236 571.8 C1238.6 571.3 1238.6 570.2 1243.6 572.9 C1248.7 575.6 1262.1 584.7 1269.8 589.8 C1277.5 594.9 1290.6 603.4 1294.9 606.7 C1299.2 610.1 1297.6 610.1 1298.7 612.2 C1299.9 614.3 1301.6 615.5 1302.5 620.9 C1303.4 626.3 1304.2 640 1304.7 648.2 C1305.2 656.4 1306.1 668.4 1305.8 675.5 C1305.5 682.5 1304 690.7 1302.5 695.1 C1301.1 699.5 1299.3 702.4 1296 704.9 C1292.7 707.4 1285.3 711.3 1280.7 711.7 C1276.1 712 1270.4 709.4 1265.5 707.1 C1260.5 704.8 1252.9 700.3 1248 696.2 C1243.1 692.1 1236.7 686 1232.7 679.8 C1228.8 673.6 1224.2 660.8 1221.8 654.7 C1219.4 648.7 1217.6 644.5 1216.9 639.5 C1216.3 634.4 1217.4 626.5 1217.5 620.9 C1217.5 615.3 1217 608.1 1217.5 602.4Z" fill="#8e8e92" stroke="#111" stroke-width="1.3" stroke-linejoin="round" />
<path d="M1217.5 602.4 C1217.8 597.1 1218.4 589.4 1219.6 586 C1220.9 582.6 1223.3 581.4 1225.6 580 C1227.9 578.6 1232.4 577.1 1234.9 576.7 C1237.4 576.4 1237.6 575.2 1242.5 577.8 C1247.5 580.4 1260.4 589.4 1267.6 594.2 C1274.8 599 1286.5 606.6 1290.5 610 C1294.6 613.4 1293.8 614.1 1294.9 616.5 C1296.1 619 1297.4 621.6 1298.2 626.4 C1298.9 631.1 1299.4 640.8 1299.8 648.2 C1300.2 655.5 1301.2 668.6 1300.9 675.5 C1300.7 682.3 1299.4 689.8 1298.2 694 C1297 698.2 1295.4 700.9 1292.7 703.3 C1290 705.6 1284.3 709.2 1280.2 709.5 C1276.1 709.8 1270.3 707.6 1265.5 705.5 C1260.6 703.3 1252.9 699 1248 695.1 C1243.1 691.2 1236.7 685.3 1232.7 679.3 C1228.8 673.2 1224.2 660.7 1221.8 654.7 C1219.4 648.8 1217.6 644.5 1216.9 639.5 C1216.3 634.4 1217.4 626.5 1217.5 620.9 C1217.5 615.3 1217.1 607.6 1217.5 602.4Z" fill="url(#gPl34)" stroke="#222" stroke-width="0.8" stroke-linejoin="round" />
<path d="M1223.5 626.4 C1225.1 622 1228.8 618.5 1232.7 616.5 C1236.6 614.5 1241.5 613.5 1246.9 614.4 C1252.4 615.3 1259.8 618.4 1265.5 622 C1271.1 625.6 1276.7 630.7 1280.7 636.2 C1284.7 641.6 1287.5 648.2 1289.5 654.7 C1291.5 661.3 1292.5 669.3 1292.7 675.5 C1292.9 681.6 1292.2 687.5 1290.5 691.8 C1288.9 696.2 1286.4 699.8 1282.9 701.6 C1279.5 703.5 1274.5 703.8 1269.8 702.7 C1265.1 701.6 1259.6 698.9 1254.5 695.1 C1249.5 691.3 1243.6 685.6 1239.3 679.8 C1234.9 674 1231.1 666.4 1228.4 660.2 C1225.6 654 1223.7 648.4 1222.9 642.7 C1222.1 637.1 1221.8 630.7 1223.5 626.4Z" fill="#7b7b7f" stroke="#1a1a1a" stroke-width="0.9" stroke-linejoin="round" />
<path d="M1233.8 637.3 C1235.3 633.8 1239.8 630.7 1243.6 629.6 C1247.5 628.5 1252.2 628.9 1256.7 630.7 C1261.3 632.5 1266.7 636.5 1270.9 640.5 C1275.1 644.5 1279.3 649.8 1281.8 654.7 C1284.4 659.6 1285.6 665.1 1286.2 670 C1286.7 674.9 1286.7 680.5 1285.1 684.2 C1283.5 687.8 1279.6 690.7 1276.4 691.8 C1273.1 692.9 1269.5 692.5 1265.5 690.7 C1261.5 688.9 1256.4 685.1 1252.4 680.9 C1248.4 676.7 1244.4 670.7 1241.5 665.6 C1238.5 660.5 1236.2 655.1 1234.9 650.4 C1233.6 645.6 1232.4 640.7 1233.8 637.3Z" fill="#98989c" stroke="#1a1a1a" stroke-width="0.9" stroke-linejoin="round" />
<path d="M1240.4 646 C1241.1 644.3 1245.2 641.6 1248 641.9 C1250.8 642.1 1258.2 645.9 1261.1 648.2 C1264 650.5 1267.5 656.5 1269.8 659.1 C1272.1 661.7 1276.4 666.3 1278.5 667.8 C1280.7 669.3 1284.6 669 1285.6 670.5 C1286.7 672.1 1286.8 678.3 1286.2 679.3 C1285.5 680.2 1282.8 677.6 1280.7 677.9 C1278.7 678.1 1272.9 680 1270.9 680.9 C1268.9 681.8 1267.1 685 1265.5 684.4 C1263.9 683.8 1260.7 679.6 1258.9 676.5 C1257.2 673.5 1254.5 664.2 1252.4 661.3 C1250.2 658.4 1244.1 656.8 1242.5 654.7 C1240.9 652.7 1239.6 647.7 1240.4 646Z" fill="#fff" stroke="#222" stroke-width="0.9" stroke-linejoin="round" />
<polygon points="1287.3,613.8 1294,609.8 1296,612.7 1289.2,617.6" fill="#c9c9cc" stroke="#222" stroke-width="0.7" stroke-linejoin="round" />
<polyline points="1275.3,626.4 1279.6,637.3 1281.3,628.5 1276.4,635.1 1287.3,640.5" fill="none" stroke="#111" stroke-width="1.2" stroke-linejoin="round" stroke-linecap="round" />
<ellipse cx="1225.6" cy="581.1" rx="1.5" ry="2.2" transform="rotate(-20 1225.6 581.1)" fill="#9a9a9e" stroke="#111" stroke-width="0.7"/>
<ellipse cx="1291.6" cy="692.9" rx="1.5" ry="2.2" transform="rotate(-20 1291.6 692.9)" fill="#9a9a9e" stroke="#111" stroke-width="0.7"/>
<ellipse cx="1274.2" cy="703.3" rx="1.5" ry="2.2" transform="rotate(-20 1274.2 703.3)" fill="#9a9a9e" stroke="#111" stroke-width="0.7"/>
<ellipse cx="1262.2" cy="697.8" rx="1.5" ry="2.2" transform="rotate(-20 1262.2 697.8)" fill="#9a9a9e" stroke="#111" stroke-width="0.7"/>
<path d="M1266.4 527.3 C1266.7 525.5 1270 526.5 1272.9 529.5 C1275.8 532.4 1285.1 543.4 1288.2 549.1 C1291.2 554.8 1296.7 569.1 1295.8 572 C1294.9 574.9 1284.5 571.6 1281.6 570.9 C1278.7 570.2 1275.5 570.3 1274 566.5 C1272.5 562.8 1271.7 547.8 1270.7 542.5 C1269.7 537.3 1266.1 529 1266.4 527.3Z" fill="#5d6b33" stroke="#111" stroke-width="1" stroke-linejoin="round" />
<ellipse cx="1279.5" cy="564.4" rx="3.5" ry="3.5" fill="#222"/>
<path d="M1320.5 585.1 C1320.6 581.3 1329.1 575.9 1332.9 574.2 C1336.7 572.4 1347.3 569.8 1349.3 572 C1351.2 574.2 1348.7 586 1347.5 590.5 C1346.4 595.1 1342.6 604.7 1340.5 606.3 C1338.5 607.9 1334.5 605.4 1331.8 602.5 C1329.1 599.7 1320.3 588.9 1320.5 585.1Z" fill="#5f6d35" stroke="#111" stroke-width="1" stroke-linejoin="round" />
<ellipse cx="1335.1" cy="592.7" rx="3.9" ry="3.9" fill="#222"/>
<polygon points="1340.5,592.7 1347.1,590.5 1342.7,606.3 1340.1,605.8" fill="#3a4420" stroke-linejoin="round" />
<polygon points="1309.6,503.3 1314.8,502.2 1320.9,510.3 1327.9,515.3 1325.7,523.3 1314.4,520.7" fill="#2f6a48" stroke="#111" stroke-width="1" stroke-linejoin="round" />
<polygon points="1376.1,549.1 1389,546.9 1392.9,553.5 1388.5,564.8 1379.8,558.9" fill="#2f6a48" stroke="#111" stroke-width="1" stroke-linejoin="round" />
<polygon points="1310,629.8 1314.8,629.4 1325.3,636.4 1331.8,634.8 1332.3,640.7 1324.2,649.9" fill="#2f6a48" stroke="#111" stroke-width="1" stroke-linejoin="round" />
<polygon points="1376.1,666.9 1387.5,668 1391.8,676.1 1384.2,684.8 1376.1,681.1" fill="#2f6a48" stroke="#111" stroke-width="1" stroke-linejoin="round" />
<polygon points="1410.4,477.1 1415.2,477.1 1415.2,549.1 1410.4,549.1" fill="#77777a" stroke="#222" stroke-width="0.9" stroke-linejoin="round" />
<ellipse cx="1412.8" cy="476.7" rx="2.4" ry="1.3" fill="#555" stroke="#222" stroke-width="0.8"/>
<ellipse cx="1412.8" cy="523.3" rx="4.4" ry="2" fill="#88888a" stroke="#111" stroke-width="0.9"/>
<ellipse cx="1412.8" cy="531.6" rx="4.4" ry="2" fill="#88888a" stroke="#111" stroke-width="0.9"/>
<polygon points="1404.9,564.8 1419.1,562.2 1440.9,543.6 1445.7,549.1 1467.1,553.5 1468.6,575.3 1461.6,577.9 1460.5,567 1443.1,565.9 1438.7,562.6 1421.7,573.5 1419.1,586.6 1404.9,588.8" fill="#707073" stroke="#111" stroke-width="1.1" stroke-linejoin="round" />
<polygon points="1404.9,564.8 1412.5,561.1 1420.2,563.3 1419.1,586.6 1404.9,588.8" fill="#5c5c5f" stroke="#111" stroke-width="0.9" stroke-linejoin="round" />
<polygon points="1421.3,562.2 1440.9,544.3 1443.1,553.5 1424.5,568.7" fill="#9a9a9d" stroke="#222" stroke-width="0.7" stroke-linejoin="round" />
<polygon points="1443.1,553.5 1445.3,549.1 1466.7,553.9 1463.8,558.9" fill="#9a9a9d" stroke="#222" stroke-width="0.7" stroke-linejoin="round" />
<ellipse cx="1412.5" cy="565.2" rx="2" ry="2" fill="#222"/>
<ellipse cx="1413" cy="600.4" rx="4.8" ry="2.2" fill="none" stroke="#111" stroke-width="1.8"/>
<ellipse cx="1413" cy="604.6" rx="4.8" ry="2.2" fill="none" stroke="#111" stroke-width="1.8"/>
<ellipse cx="1413" cy="608.9" rx="4.8" ry="2.2" fill="none" stroke="#111" stroke-width="1.8"/>
<ellipse cx="1413" cy="613.1" rx="4.8" ry="2.2" fill="none" stroke="#111" stroke-width="1.8"/>
<ellipse cx="1413" cy="617.4" rx="4.8" ry="2.2" fill="none" stroke="#111" stroke-width="1.8"/>
<ellipse cx="1413" cy="621.6" rx="4.8" ry="2.2" fill="none" stroke="#111" stroke-width="1.8"/>
<ellipse cx="1413" cy="625.9" rx="4.8" ry="2.2" fill="none" stroke="#111" stroke-width="1.8"/>
<ellipse cx="1413" cy="630.1" rx="4.8" ry="2.2" fill="none" stroke="#111" stroke-width="1.8"/>
<ellipse cx="1413" cy="634.4" rx="4.8" ry="2.2" fill="none" stroke="#111" stroke-width="1.8"/>
<ellipse cx="1413" cy="638.7" rx="4.8" ry="2.2" fill="none" stroke="#111" stroke-width="1.8"/>
<ellipse cx="1413" cy="642.9" rx="4.8" ry="2.2" fill="none" stroke="#111" stroke-width="1.8"/>
<polygon points="1430,612.4 1438.7,603.6 1447.9,614.5 1446.6,627.6 1434.4,630.3 1426.7,628.9" fill="#6a6a6c" stroke="#111" stroke-width="1" stroke-linejoin="round" />
<polygon points="1432.2,614.5 1438.7,608 1444.2,615.6 1443.1,625.5 1433.9,626.5" fill="#9a9a9d" stroke="#222" stroke-width="0.7" stroke-linejoin="round" />
<polygon points="1469.3,532.7 1483.5,524 1490,536 1474.7,543.6" fill="#b5b5b8" stroke="#111" stroke-width="1" stroke-linejoin="round" />
<ellipse cx="1487.2" cy="530.5" rx="4.4" ry="8.3" transform="rotate(-25 1487.2 530.5)" fill="#8a8a8d" stroke="#111" stroke-width="1"/>
<ellipse cx="1471.9" cy="538.6" rx="4.4" ry="5.9" transform="rotate(-25 1471.9 538.6)" fill="#cfcfd2" stroke="#111" stroke-width="1"/>
<ellipse cx="1471.9" cy="538.6" rx="2.4" ry="3.5" transform="rotate(-25 1471.9 538.6)" fill="#88888b" stroke="#222" stroke-width="0.8"/>
<polygon points="857.2,877.2 1028.3,777.9 1246.4,885.4 1243.9,894.5 1073.7,986.9 858.7,884.5" fill="#abaaa5" stroke="#222" stroke-width="1" stroke-linejoin="round" />
<polygon points="857.2,877.2 858.7,884.5 1073.7,986.9 1073.7,980.8" fill="#7d7d79" stroke="#222" stroke-width="0.7" stroke-linejoin="round" />
<polygon points="1073.7,980.8 1073.7,986.9 1243.9,894.5 1246.4,885.4" fill="#77777a" stroke="#222" stroke-width="0.7" stroke-linejoin="round" />
<polyline points="864.8,880.9 1013.2,796.1" fill="none" stroke="#5a5a58" stroke-width="1" stroke-linejoin="round" stroke-linecap="round" />
<polygon points="1104,808.2 1170.7,835.4 1169.1,845.1 1104,816.7" fill="#9c9c98" stroke="#333" stroke-width="0.8" stroke-linejoin="round" />
<polygon points="913.2,893 925.9,886.9 935,894.5 922.3,900.9" fill="#fff" stroke="#333" stroke-width="0.7" stroke-linejoin="round" />
<polygon points="974.4,827 982.9,822.7 988.3,827 979.8,831.5" fill="#fff" stroke="#333" stroke-width="0.7" stroke-linejoin="round" />
<polygon points="1036.8,862.7 1044.4,859.1 1048.9,862.7 1041.3,866.3" fill="#fff" stroke="#333" stroke-width="0.7" stroke-linejoin="round" />
<polygon points="1108.6,864.2 1118.3,859.7 1124.3,864.8 1114.6,869.4" fill="#fff" stroke="#333" stroke-width="0.7" stroke-linejoin="round" />
<polygon points="1186.4,908.1 1194.9,903.9 1198.5,907.5 1190.3,911.8" fill="#fff" stroke="#333" stroke-width="0.7" stroke-linejoin="round" />
<polygon points="1122.2,871.8 1134.3,861.2 1152.5,854.5 1165.2,862.7 1159.4,870.3 1172.8,877.8 1164.6,882.7 1154,876.6 1137.9,881.5 1127.6,879.7" fill="#fff" stroke="#333" stroke-width="0.8" stroke-linejoin="round" />
<ellipse cx="889" cy="871.2" rx="1.3" ry="1.3" fill="#222"/>
<ellipse cx="899.6" cy="864.2" rx="1.3" ry="1.3" fill="#222"/>
<ellipse cx="910.8" cy="857.2" rx="1.3" ry="1.3" fill="#222"/>
<ellipse cx="921.7" cy="850.6" rx="1.3" ry="1.3" fill="#222"/>
<ellipse cx="932.9" cy="843.9" rx="1.3" ry="1.3" fill="#222"/>
<ellipse cx="870.8" cy="886.3" rx="1.3" ry="1.3" fill="#222"/>
<ellipse cx="952" cy="899" rx="1.3" ry="1.3" fill="#222"/>
<ellipse cx="1218.5" cy="889" rx="1.3" ry="1.3" fill="#222"/>
<polyline points="524.2,856.4 949.5,613.5" fill="none" stroke="#222" stroke-width="2.6" stroke-linejoin="round" stroke-linecap="round" />
<polyline points="524.2,856.4 949.5,613.5" fill="none" stroke="#aaa" stroke-width="1" stroke-linejoin="round" stroke-linecap="round" />
<path d="M916.7 555.6 C917.7 545.6 919.3 550.5 922.2 549.1 C925.1 547.6 931.2 546.2 934.2 546.9 C937.2 547.6 939 546.7 940.1 553.5 C941.2 560.2 940.6 572.9 940.7 587.3 C940.8 601.6 941.3 628 940.7 639.6 C940.2 651.3 939.6 652 937.5 657.1 C935.3 662.2 931.1 666.8 927.6 670.2 C924.2 673.5 918.6 687.3 916.7 677.2 C914.8 667 916.3 629.3 916.3 609.1 C916.3 588.8 915.7 565.6 916.7 555.6Z" fill="#751a1c" stroke="#3a0508" stroke-width="0.8" stroke-linejoin="round" />
<defs><linearGradient id="lg1" gradientUnits="userSpaceOnUse" x1="964.7" y1="565.5" x2="1141.5" y2="587.3"><stop offset="0" stop-color="#cfd0d4"/><stop offset="0.5" stop-color="#d9dadd"/><stop offset="1" stop-color="#c5c6cc"/></linearGradient></defs>
<path d="M966.6 573.1 Q965.2 573.1 965.7 571.8L967.1 568.4 Q969.1 563.7 973.5 561.1L1036.2 524.4 Q1046.5 518.3 1057 524.3L1132.5 567.1 Q1141 572 1141.8 581.8L1142.4 589.6 Q1142.5 591.6 1140.8 592.7L1068.7 635.5 Q1061.8 639.6 1058.5 632.3L1056.9 628.7 Q1052 617.8 1041.4 612.2L969.3 573.8 Q968 573.1 966.6 573.1Z" fill="url(#lg1)" stroke="#111" stroke-width="1.1" stroke-linejoin="round" />
<polyline points="1010.5,540.4 1100,592.7 1104.4,602.5 1105.5,613.5" fill="none" stroke="#222" stroke-width="0.9" stroke-linejoin="round" stroke-linecap="round" />
<defs><linearGradient id="lg2" gradientUnits="userSpaceOnUse" x1="1061.8" y1="630.9" x2="1142.5" y2="598.2"><stop offset="0" stop-color="#c9cad0"/><stop offset="1" stop-color="#a9aab4"/></linearGradient></defs>
<polygon points="1061.8,639.6 1142.5,591.6 1142.5,622.2 1121.8,603 1114.2,604.3 1074.9,628.7 1074.9,652.7 1061.8,652.7" fill="url(#lg2)" stroke="#111" stroke-width="1" stroke-linejoin="round" />
<path d="M966.9 575.1 Q966.9 573.1 968.7 574.1L1046.3 617 Q1049.8 618.9 1051.8 622.4L1055.8 629.3 Q1061.8 639.6 1061.8 651.6L1061.8 735.6L966.9 687.6Z" fill="#a4a5ac" stroke="#111" stroke-width="1.1" stroke-linejoin="round" />
<path d="M974.5 612.3 Q974.5 587.3 996.5 599.2L1030.1 617.4 Q1038.9 622.2 1044.5 630.5L1045.5 632 Q1052 641.8 1052 653.6L1052 731.3L974.5 687.6Z" fill="#9a9ba3" stroke="#333" stroke-width="0.8" stroke-linejoin="round" />
<polygon points="1064,639.6 1073.4,636.4 1075.6,642.9 1075.6,714.9 1064,716" fill="#751a1c" stroke="#3a0508" stroke-width="0.8" stroke-linejoin="round" />
<ellipse cx="1023.3" cy="675.3" rx="49.1" ry="30.4" transform="rotate(60.1 1023.3 675.3)" fill="#8d8e95" stroke="#222" stroke-width="0.9"/>
<ellipse cx="1020.5" cy="677" rx="44.7" ry="27.7" transform="rotate(60.1 1020.5 677)" fill="#9d9ea5" stroke="#222" stroke-width="0.9"/>
<defs><linearGradient id="lg3" gradientUnits="userSpaceOnUse" x1="959.2" y1="664.4" x2="1000.5" y2="736.3"><stop offset="0" stop-color="#a7a7ab"/><stop offset="0.25" stop-color="#96969a"/><stop offset="0.6" stop-color="#7c7c80"/><stop offset="1" stop-color="#5e5e62"/></linearGradient></defs>
<ellipse cx="1018.6" cy="678.1" rx="41.5" ry="25.7" transform="rotate(60.1 1018.6 678.1)" fill="url(#lg3)" stroke="#111" stroke-width="1"/>
<polygon points="959.2,664.4 997.9,642.1 1039.2,714 1000.5,736.3" fill="url(#lg3)" stroke-linejoin="round" />
<polyline points="959.2,664.4 997.9,642.1" fill="none" stroke="#111" stroke-width="1" stroke-linejoin="round" stroke-linecap="round" />
<polyline points="1000.5,736.3 1039.2,714" fill="none" stroke="#111" stroke-width="1" stroke-linejoin="round" stroke-linecap="round" />
<ellipse cx="979.8" cy="700.3" rx="41.5" ry="25.7" transform="rotate(60.1 979.8 700.3)" fill="url(#lg3)" stroke="#111" stroke-width="1"/>
<path d="M947.7 665.8 L947.7 613.5 Q947.7 596 962.5 598.2 L1023.6 632 Q1040 641.8 1041.1 661.5 L1041.1 726.9 Q1041.1 740 1028 743.3 L999.6 747.6" fill="none" stroke="#3a3a08" stroke-width="9.4" stroke-linejoin="round" stroke-linecap="butt"/>
<path d="M947.7 665.8 L947.7 613.5 Q947.7 596 962.5 598.2 L1023.6 632 Q1040 641.8 1041.1 661.5 L1041.1 726.9 Q1041.1 740 1028 743.3 L999.6 747.6" fill="none" stroke="#a8a42a" stroke-width="7.6" stroke-linejoin="round" />
<path d="M947.7 665.8 L947.7 613.5 Q947.7 596 962.5 598.2 L1023.6 632 Q1040 641.8 1041.1 661.5 L1041.1 726.9 Q1041.1 740 1028 743.3 L999.6 747.6" fill="none" stroke="#55520f" stroke-width="3.6" stroke-linejoin="round" />
<path d="M947.7 665.8 L947.7 613.5 Q947.7 596 962.5 598.2 L1023.6 632 Q1040 641.8 1041.1 661.5 L1041.1 726.9 Q1041.1 740 1028 743.3 L999.6 747.6" fill="none" stroke="#b4b030" stroke-width="2.4" stroke-linejoin="round" />
<path d="M947.7 665.8 L947.7 613.5 Q947.7 596 962.5 598.2 L1023.6 632 Q1040 641.8 1041.1 661.5 L1041.1 726.9 Q1041.1 740 1028 743.3 L999.6 747.6" fill="none" stroke="#55520f" stroke-width="0.7" stroke-linejoin="round" />
<defs><linearGradient id="lg4" gradientUnits="userSpaceOnUse" x1="892.8" y1="700" x2="936.3" y2="775.7"><stop offset="0" stop-color="#a7a7ab"/><stop offset="0.25" stop-color="#96969a"/><stop offset="0.6" stop-color="#7c7c80"/><stop offset="1" stop-color="#5e5e62"/></linearGradient></defs>
<ellipse cx="980.4" cy="700" rx="43.6" ry="27.1" transform="rotate(60.1 980.4 700)" fill="url(#lg4)" stroke="#111" stroke-width="1"/>
<polygon points="892.8,700 958.6,662.2 1002.1,737.8 936.3,775.7" fill="url(#lg4)" stroke-linejoin="round" />
<polyline points="892.8,700 958.6,662.2" fill="none" stroke="#111" stroke-width="1" stroke-linejoin="round" stroke-linecap="round" />
<polyline points="936.3,775.7 1002.1,737.8" fill="none" stroke="#111" stroke-width="1" stroke-linejoin="round" stroke-linecap="round" />
<ellipse cx="914.5" cy="737.8" rx="43.6" ry="27.1" transform="rotate(60.1 914.5 737.8)" fill="#8c8c91" stroke="#111" stroke-width="1"/>
<defs><linearGradient id="lg5" gradientUnits="userSpaceOnUse" x1="892.7" y1="707.3" x2="942.9" y2="772.7"><stop offset="0" stop-color="#77777c"/><stop offset="0.5" stop-color="#8e8e93"/><stop offset="1" stop-color="#a5a5aa"/></linearGradient></defs>
<ellipse cx="915.3" cy="737.4" rx="39.7" ry="24.6" transform="rotate(60.1 915.3 737.4)" fill="url(#lg5)" stroke="#111" stroke-width="1.1"/>
<ellipse cx="914.5" cy="737.8" rx="43.6" ry="27.1" transform="rotate(60.1 914.5 737.8)" fill="none" stroke="#111" stroke-width="1.8"/>
<path d="M900.3 695.5 A43.9 27.2 60.1 0 1 944 771.5" fill="none" stroke="#222" stroke-width="0.9"/>
<path d="M904.1 693.3 A43.9 27.2 60.1 0 1 947.7 769.3" fill="none" stroke="#333" stroke-width="0.8"/>
<path d="M958.2 662.2 A43.9 27.2 60.1 0 1 1001.8 738.2" fill="none" stroke="#0a0a0a" stroke-width="3.4"/>
<path d="M941.9 671.5 A43.9 27.2 60.1 0 1 985.6 747.6" fill="none" stroke="#333" stroke-width="0.8"/>
<defs><linearGradient id="lg6" gradientUnits="userSpaceOnUse" x1="1074.9" y1="622.2" x2="1210.2" y2="665.8"><stop offset="0" stop-color="#d0d1d5"/><stop offset="0.5" stop-color="#dcdde0"/><stop offset="1" stop-color="#c2c3ca"/></linearGradient></defs>
<path d="M1074.9 633.8 Q1073.4 636.4 1074.6 633.6L1075.8 630.9 Q1078.2 625.5 1083.3 622.5L1105.4 609.6 Q1117.5 602.5 1129.5 609.6L1201 651.3 Q1209.1 656 1210 665.3L1210.6 672.6 Q1210.8 674.5 1209.1 675.4L1179.1 690.6 Q1172 694.2 1168.1 687.2L1167.1 685.5 Q1162.2 676.7 1153.4 671.9L1078.8 630.8 Q1077.1 629.8 1076.1 631.6Z" fill="url(#lg6)" stroke="#111" stroke-width="1.1" stroke-linejoin="round" />
<defs><linearGradient id="lg7" gradientUnits="userSpaceOnUse" x1="1172" y1="718.2" x2="1210.2" y2="707.3"><stop offset="0" stop-color="#b9bac3"/><stop offset="1" stop-color="#8d8e99"/></linearGradient></defs>
<polygon points="1172,694.2 1210.8,672.4 1210.2,805.5 1200.4,814.2 1172,829.9" fill="url(#lg7)" stroke="#111" stroke-width="1.1" stroke-linejoin="round" />
<path d="M1177.5 704.8 Q1177.5 701.8 1180.1 700.4L1188 696.2 Q1192.7 693.7 1195.5 698.3L1196.6 700.3 Q1198.2 702.9 1198.2 705.9L1198.2 792.2 Q1198.2 802.2 1189.7 807.5L1180 813.7 Q1177.5 815.3 1177.5 812.3Z" fill="#9fa0ab" stroke="#333" stroke-width="0.8" stroke-linejoin="round" />
<path d="M1074.9 632.9 Q1074.9 630.9 1076.7 631.9L1156.9 675 Q1162.2 677.8 1165.1 683L1167.1 686.5 Q1172 695.3 1172 705.3L1172 829.9L1074.9 781.5Z" fill="#a3a4ab" stroke="#111" stroke-width="1.1" stroke-linejoin="round" />
<path d="M1079.9 710.5 L1079.9 661.5 Q1079.9 642.9 1095.6 645.1 L1150.2 676.7 Q1166.5 686.5 1167.6 706.2 L1167.6 781.5 Q1167.6 794.5 1154.5 794.5 L1130.5 793.5" fill="none" stroke="#3a3a08" stroke-width="6.5" stroke-linejoin="round" />
<path d="M1079.9 710.5 L1079.9 661.5 Q1079.9 642.9 1095.6 645.1 L1150.2 676.7 Q1166.5 686.5 1167.6 706.2 L1167.6 781.5 Q1167.6 794.5 1154.5 794.5 L1130.5 793.5" fill="none" stroke="#aaa62c" stroke-width="4.6" stroke-linejoin="round" />
<path d="M1079.9 710.5 L1079.9 661.5 Q1079.9 642.9 1095.6 645.1 L1150.2 676.7 Q1166.5 686.5 1167.6 706.2 L1167.6 781.5 Q1167.6 794.5 1154.5 794.5 L1130.5 793.5" fill="none" stroke="#55520f" stroke-width="0.7" stroke-linejoin="round" />
<defs><linearGradient id="lg8" gradientUnits="userSpaceOnUse" x1="1088.8" y1="710.2" x2="1133.4" y2="787.7"><stop offset="0" stop-color="#a7a7ab"/><stop offset="0.25" stop-color="#96969a"/><stop offset="0.6" stop-color="#7c7c80"/><stop offset="1" stop-color="#5e5e62"/></linearGradient></defs>
<ellipse cx="1126.2" cy="740.3" rx="44.7" ry="27.7" transform="rotate(60.1 1126.2 740.3)" fill="url(#lg8)" stroke="#111" stroke-width="1"/>
<polygon points="1088.8,710.2 1104,701.5 1148.5,779 1133.4,787.7" fill="url(#lg8)" stroke-linejoin="round" />
<polyline points="1088.8,710.2 1104,701.5" fill="none" stroke="#111" stroke-width="1" stroke-linejoin="round" stroke-linecap="round" />
<polyline points="1133.4,787.7 1148.5,779" fill="none" stroke="#111" stroke-width="1" stroke-linejoin="round" stroke-linecap="round" />
<ellipse cx="1111.1" cy="749" rx="44.7" ry="27.7" transform="rotate(60.1 1111.1 749)" fill="url(#lg8)" stroke="#111" stroke-width="1"/>
<defs><linearGradient id="lg9" gradientUnits="userSpaceOnUse" x1="987.1" y1="760.8" x2="1038.4" y2="850.1"><stop offset="0" stop-color="#a7a7ab"/><stop offset="0.25" stop-color="#96969a"/><stop offset="0.6" stop-color="#7c7c80"/><stop offset="1" stop-color="#5e5e62"/></linearGradient></defs>
<ellipse cx="1114.9" cy="746.8" rx="51.5" ry="31.9" transform="rotate(60.1 1114.9 746.8)" fill="url(#lg9)" stroke="#111" stroke-width="1"/>
<polygon points="987.1,760.8 1089.2,702.1 1140.5,791.4 1038.4,850.1" fill="url(#lg9)" stroke-linejoin="round" />
<polyline points="987.1,760.8 1089.2,702.1" fill="none" stroke="#111" stroke-width="1" stroke-linejoin="round" stroke-linecap="round" />
<polyline points="1038.4,850.1 1140.5,791.4" fill="none" stroke="#111" stroke-width="1" stroke-linejoin="round" stroke-linecap="round" />
<ellipse cx="1012.7" cy="805.5" rx="51.5" ry="31.9" transform="rotate(60.1 1012.7 805.5)" fill="#6e6e72" stroke="#111" stroke-width="1"/>
<path d="M1024.5 738.3 A52.4 32.5 60.1 0 1 1076.6 829.1" fill="none" stroke="#222" stroke-width="8.6"/>
<path d="M1024.5 738.3 A52.4 32.5 60.1 0 1 1076.6 829.1" fill="none" stroke="#8e8e8a" stroke-width="7"/>
<path d="M1075.6 709 A52.4 32.5 60.1 0 1 1127.7 799.8" fill="none" stroke="#222" stroke-width="8.6"/>
<path d="M1075.6 709 A52.4 32.5 60.1 0 1 1127.7 799.8" fill="none" stroke="#8e8e8a" stroke-width="7"/>
<path d="M998.3 754.1 A51.7 32.1 60.1 0 1 1049.8 843.8" fill="none" stroke="#222" stroke-width="0.9"/>
<path d="M1007.8 748.7 A51.7 32.1 60.1 0 1 1059.3 838.3" fill="none" stroke="#222" stroke-width="0.9"/>
<ellipse cx="1012.7" cy="805.5" rx="44.7" ry="27.7" transform="rotate(60.1 1012.7 805.5)" fill="#8a8a8e" stroke="#111" stroke-width="1"/>
<ellipse cx="1012.7" cy="805.5" rx="34.9" ry="21.6" transform="rotate(60.1 1012.7 805.5)" fill="#a9a9a6" stroke="#222" stroke-width="0.9"/>
<ellipse cx="1012.7" cy="805.5" rx="24" ry="14.9" transform="rotate(60.1 1012.7 805.5)" fill="#7a7a7e" stroke="#222" stroke-width="0.9"/>
<ellipse cx="1012.7" cy="805.5" rx="13.1" ry="8.1" transform="rotate(60.1 1012.7 805.5)" fill="#b9b4a4" stroke="#222" stroke-width="0.9"/>
<polygon points="975.6,777.1 990.9,765.1 999.6,765.1 1023.6,788 1030.2,809.8 1028,840.4 1012.7,844.7 999.6,831.6 978.9,805.5 974.5,788" fill="none" stroke="#111" stroke-width="3.4" stroke-linejoin="round" />
<polygon points="975.6,777.1 990.9,765.1 999.6,765.1 1023.6,788 1030.2,809.8 1028,840.4 1012.7,844.7 999.6,831.6 978.9,805.5 974.5,788" fill="none" stroke="#9a9a9a" stroke-width="1.6" stroke-linejoin="round" />
<polyline points="993.1,814.2 1025.8,786.9" fill="none" stroke="#111" stroke-width="4" stroke-linejoin="round" stroke-linecap="round" />
<polyline points="993.1,814.2 1025.8,786.9" fill="none" stroke="#c4c4c4" stroke-width="2" stroke-linejoin="round" stroke-linecap="round" />
<polyline points="993.1,814.2 1028,839.3" fill="none" stroke="#111" stroke-width="4" stroke-linejoin="round" stroke-linecap="round" />
<polyline points="993.1,814.2 1028,839.3" fill="none" stroke="#c4c4c4" stroke-width="2" stroke-linejoin="round" stroke-linecap="round" />
<polyline points="993.1,814.2 978.9,783.6" fill="none" stroke="#111" stroke-width="4" stroke-linejoin="round" stroke-linecap="round" />
<polyline points="993.1,814.2 978.9,783.6" fill="none" stroke="#c4c4c4" stroke-width="2" stroke-linejoin="round" stroke-linecap="round" />
<ellipse cx="993.1" cy="814.2" rx="5.7" ry="5.7" fill="#b5b5b5" stroke="#111" stroke-width="1"/>
<ellipse cx="1010.5" cy="836" rx="19.6" ry="26.2" transform="rotate(-30 1010.5 836)" fill="none" stroke="#222" stroke-width="3"/>
<ellipse cx="1010.5" cy="836" rx="19.6" ry="26.2" transform="rotate(-30 1010.5 836)" fill="none" stroke="#a5a5a0" stroke-width="1.8"/>
<polyline points="1030.2,845.8 1141.5,783.6" fill="none" stroke="#111" stroke-width="4.5" stroke-linejoin="round" stroke-linecap="round" />
<polyline points="1030.2,845.8 1141.5,783.6" fill="none" stroke="#98989c" stroke-width="2.6" stroke-linejoin="round" stroke-linecap="round" />
<path d="M1221.1 731.3 C1222.1 721.6 1223.6 727.2 1226.5 725.8 C1229.5 724.4 1235.6 722.4 1238.5 723 C1241.5 723.5 1243.2 722.6 1244.4 729.1 C1245.6 735.6 1245.5 747.3 1245.7 761.8 C1246 776.4 1246.4 804.4 1245.7 816.4 C1245.1 828.4 1244.1 828.9 1241.8 833.8 C1239.5 838.7 1235.5 842.6 1232 845.8 C1228.5 849 1223 863.4 1221.1 853 C1219.2 842.7 1220.7 803.9 1220.7 783.6 C1220.7 763.3 1220.1 740.9 1221.1 731.3Z" fill="#751a1c" stroke="#3a0508" stroke-width="0.8" stroke-linejoin="round" />
<polygon points="904.1,943 919.9,935.4 1069.2,857.2 1110.1,835.4 1116.1,838.5 1073.7,862.1 940.5,935.4 940.5,944.5 922.3,941.4" fill="#8c8c90" stroke="#222" stroke-width="0.9" stroke-linejoin="round" />
<polygon points="904.1,943 922.3,941.4 922.3,984.4 905.6,978.4" fill="#5f5f63" stroke="#111" stroke-width="1" stroke-linejoin="round" />
<polygon points="922.3,941.4 940.5,935.4 941.1,947.5 922.3,953.6" fill="#77777b" stroke="#222" stroke-width="0.7" stroke-linejoin="round" />
<polygon points="1055.6,992.9 1171.3,926.3 1172.5,933.6 1076.8,988.7 1066.2,998.4 1060.1,1013.5 1058,1027.1 1055.6,1027.8" fill="#a4a4a9" stroke="#222" stroke-width="0.9" stroke-linejoin="round" />
<polygon points="955.6,934.8 1071.3,867.5 1171.3,926.3 1055.6,992.9" fill="#bcbcc1" stroke="#222" stroke-width="1" stroke-linejoin="round" />
<defs><linearGradient id="lg10" gradientUnits="userSpaceOnUse" x1="970.8" y1="937.8" x2="1152.5" y2="931.7"><stop offset="0" stop-color="#d0d0d4"/><stop offset="1" stop-color="#dcdce0"/></linearGradient></defs>
<polygon points="967.1,935.4 1071.3,874.8 1161,926.3 1057.1,986.3" fill="url(#lg10)" stroke="#444" stroke-width="0.8" stroke-linejoin="round" />
<polygon points="1082.8,910.5 1104,897.8 1128.9,907.5 1106.4,921.7" fill="#b2b2b7" stroke="#333" stroke-width="0.8" stroke-linejoin="round" />
<polygon points="1091.9,911.1 1105.5,903 1119.2,909 1105.5,918.1" fill="#d5d5d8" stroke="#444" stroke-width="0.6" stroke-linejoin="round" />
<polygon points="955.6,934.8 1055.6,992.9 1055.6,1027.8 1043.4,1023.2 955.6,974.8" fill="#78787c" stroke="#111" stroke-width="1" stroke-linejoin="round" />
<polygon points="955.6,934.8 970.8,943.9 973.8,965.1 985.9,951.4 1055.6,992.9 1055.6,998.4 985.9,960.5 974.4,972.6 956.2,956" fill="#5f5f63" stroke="#222" stroke-width="0.7" stroke-linejoin="round" />
<polygon points="994.4,978.1 1016.8,989.9 1016.8,999 994.4,987.5" fill="#3a4aa0" stroke="#222" stroke-width="0.8" stroke-linejoin="round" />
<ellipse cx="1023.8" cy="998.4" rx="2.7" ry="2.7" fill="#ddd" stroke="#111" stroke-width="0.8"/>
<polyline points="1023.8,1001.4 1023.8,1010.5" fill="none" stroke="#ddd" stroke-width="1.2" stroke-linejoin="round" stroke-linecap="round" />
<ellipse cx="1034.4" cy="1004.1" rx="2.7" ry="2.7" fill="#ddd" stroke="#111" stroke-width="0.8"/>
<polyline points="1034.4,1007.2 1034.4,1016.2" fill="none" stroke="#ddd" stroke-width="1.2" stroke-linejoin="round" stroke-linecap="round" />
<polygon points="795.1,996.6 910.8,929.9 912,937.2 816.3,992.3 805.7,1002 799.6,1017.2 797.5,1030.8 795.1,1031.4" fill="#a4a4a9" stroke="#222" stroke-width="0.9" stroke-linejoin="round" />
<polygon points="695.1,938.4 810.8,871.2 910.8,929.9 795.1,996.6" fill="#bcbcc1" stroke="#222" stroke-width="1" stroke-linejoin="round" />
<defs><linearGradient id="lg11" gradientUnits="userSpaceOnUse" x1="710.3" y1="941.4" x2="892" y2="935.4"><stop offset="0" stop-color="#d0d0d4"/><stop offset="1" stop-color="#dcdce0"/></linearGradient></defs>
<polygon points="706.7,939 810.8,878.4 900.5,929.9 796.6,989.9" fill="url(#lg11)" stroke="#444" stroke-width="0.8" stroke-linejoin="round" />
<polygon points="822.3,914.2 843.6,901.5 868.4,911.1 846,925.4" fill="#b2b2b7" stroke="#333" stroke-width="0.8" stroke-linejoin="round" />
<polygon points="831.4,914.8 845.1,906.6 858.7,912.7 845.1,921.7" fill="#d5d5d8" stroke="#444" stroke-width="0.6" stroke-linejoin="round" />
<polygon points="695.1,938.4 795.1,996.6 795.1,1031.4 783,1026.8 695.1,978.4" fill="#78787c" stroke="#111" stroke-width="1" stroke-linejoin="round" />
<polygon points="695.1,938.4 710.3,947.5 713.3,968.7 725.4,955.1 795.1,996.6 795.1,1002 725.4,964.2 713.9,976.3 695.7,959.6" fill="#5f5f63" stroke="#222" stroke-width="0.7" stroke-linejoin="round" />
<polygon points="733.9,981.7 756.3,993.5 756.3,1002.6 733.9,991.1" fill="#f4f4f4" stroke="#222" stroke-width="0.8" stroke-linejoin="round" />
<ellipse cx="763.3" cy="1002" rx="2.7" ry="2.7" fill="#ddd" stroke="#111" stroke-width="0.8"/>
<polyline points="763.3,1005 763.3,1014.1" fill="none" stroke="#ddd" stroke-width="1.2" stroke-linejoin="round" stroke-linecap="round" />
<ellipse cx="773.9" cy="1007.8" rx="2.7" ry="2.7" fill="#ddd" stroke="#111" stroke-width="0.8"/>
<polyline points="773.9,1010.8 773.9,1019.9" fill="none" stroke="#ddd" stroke-width="1.2" stroke-linejoin="round" stroke-linecap="round" />
<polyline points="728.5,787.1 837.1,726" fill="none" stroke="#111" stroke-width="4" stroke-linejoin="round" stroke-linecap="round" />
<polyline points="728.5,787.1 837.1,726" fill="none" stroke="#7a7a7e" stroke-width="2.8" stroke-linejoin="round" stroke-linecap="round" />
<polyline points="826.9,844.1 935.6,783" fill="none" stroke="#111" stroke-width="4" stroke-linejoin="round" stroke-linecap="round" />
<polyline points="826.9,844.1 935.6,783" fill="none" stroke="#7a7a7e" stroke-width="2.8" stroke-linejoin="round" stroke-linecap="round" />
<ellipse cx="720.4" cy="792.5" rx="3.5" ry="5.2" transform="rotate(-30 720.4 792.5)" fill="#3a3a3c" stroke="#111" stroke-width="0.9"/>
<ellipse cx="720.4" cy="792.5" rx="1.6" ry="2.4" transform="rotate(-30 720.4 792.5)" fill="#6a6a6c" stroke="#111" stroke-width="0.6"/>
<ellipse cx="845.3" cy="719.2" rx="3.5" ry="5.2" transform="rotate(-30 845.3 719.2)" fill="#3a3a3c" stroke="#111" stroke-width="0.9"/>
<ellipse cx="845.3" cy="719.2" rx="1.6" ry="2.4" transform="rotate(-30 845.3 719.2)" fill="#6a6a6c" stroke="#111" stroke-width="0.6"/>
<ellipse cx="819.5" cy="848.9" rx="3.5" ry="5.2" transform="rotate(-30 819.5 848.9)" fill="#3a3a3c" stroke="#111" stroke-width="0.9"/>
<ellipse cx="819.5" cy="848.9" rx="1.6" ry="2.4" transform="rotate(-30 819.5 848.9)" fill="#6a6a6c" stroke="#111" stroke-width="0.6"/>
<ellipse cx="943.7" cy="776.9" rx="3.5" ry="5.2" transform="rotate(-30 943.7 776.9)" fill="#3a3a3c" stroke="#111" stroke-width="0.9"/>
<ellipse cx="943.7" cy="776.9" rx="1.6" ry="2.4" transform="rotate(-30 943.7 776.9)" fill="#6a6a6c" stroke="#111" stroke-width="0.6"/>
<defs><linearGradient id="lg12" gradientUnits="userSpaceOnUse" x1="861.8" y1="726.1" x2="898.6" y2="790.1"><stop offset="0" stop-color="#97979b"/><stop offset="0.3" stop-color="#88888c"/><stop offset="0.65" stop-color="#707074"/><stop offset="1" stop-color="#505054"/></linearGradient></defs>
<ellipse cx="879.2" cy="758.7" rx="36.9" ry="27.7" transform="rotate(60 879.2 758.7)" fill="url(#lg12)" stroke="#111" stroke-width="1"/>
<defs><linearGradient id="lg13" gradientUnits="userSpaceOnUse" x1="768.8" y1="779.5" x2="805.6" y2="843.5"><stop offset="0" stop-color="#97979b"/><stop offset="0.3" stop-color="#88888c"/><stop offset="0.65" stop-color="#707074"/><stop offset="1" stop-color="#505054"/></linearGradient></defs>
<ellipse cx="880.2" cy="758.1" rx="36.9" ry="22.9" transform="rotate(60.1 880.2 758.1)" fill="url(#lg13)" stroke="#111" stroke-width="1"/>
<polygon points="768.8,779.5 861.8,726.1 898.6,790.1 805.6,843.5" fill="url(#lg13)" stroke-linejoin="round" />
<polyline points="768.8,779.5 861.8,726.1" fill="none" stroke="#111" stroke-width="1" stroke-linejoin="round" stroke-linecap="round" />
<polyline points="805.6,843.5 898.6,790.1" fill="none" stroke="#111" stroke-width="1" stroke-linejoin="round" stroke-linecap="round" />
<ellipse cx="787.2" cy="811.5" rx="36.9" ry="22.9" transform="rotate(60.1 787.2 811.5)" fill="#6c6c70" stroke="#111" stroke-width="1"/>
<defs><linearGradient id="lg14" gradientUnits="userSpaceOnUse" x1="763.6" y1="786.8" x2="796.7" y2="844.4"><stop offset="0" stop-color="#97979b"/><stop offset="0.3" stop-color="#88888c"/><stop offset="0.65" stop-color="#707074"/><stop offset="1" stop-color="#505054"/></linearGradient></defs>
<ellipse cx="788.3" cy="810.9" rx="33.2" ry="20.6" transform="rotate(60.1 788.3 810.9)" fill="url(#lg14)" stroke="#111" stroke-width="1"/>
<polygon points="763.6,786.8 771.8,782 804.9,839.7 796.7,844.4" fill="url(#lg14)" stroke-linejoin="round" />
<polyline points="763.6,786.8 771.8,782" fill="none" stroke="#111" stroke-width="1" stroke-linejoin="round" stroke-linecap="round" />
<polyline points="796.7,844.4 804.9,839.7" fill="none" stroke="#111" stroke-width="1" stroke-linejoin="round" stroke-linecap="round" />
<ellipse cx="780.1" cy="815.6" rx="33.2" ry="20.6" transform="rotate(60.1 780.1 815.6)" fill="#5e5e62" stroke="#111" stroke-width="1"/>
<ellipse cx="779.4" cy="816" rx="24.4" ry="15.1" transform="rotate(60.1 779.4 816)" fill="#7c7c80" stroke="#111" stroke-width="0.9"/>
<ellipse cx="778.9" cy="816.3" rx="17.7" ry="11" transform="rotate(60.1 778.9 816.3)" fill="#9a9a9e" stroke="#111" stroke-width="0.9"/>
<ellipse cx="778.7" cy="816.4" rx="12.2" ry="7.6" transform="rotate(60.1 778.7 816.4)" fill="#6a6a6e" stroke="#111" stroke-width="0.9"/>
<path d="M779.4 773.4 A36.9 22.9 60.1 0 1 816.2 837.5" fill="none" stroke="#222" stroke-width="0.9"/>
<path d="M791.1 766.7 A36.9 22.9 60.1 0 1 827.9 830.7" fill="none" stroke="#222" stroke-width="0.9"/>
<polyline points="781.5,815.6 713.6,854.3" fill="none" stroke="#111" stroke-width="7.2" stroke-linejoin="round" stroke-linecap="round" />
<polyline points="781.5,815.6 713.6,854.3" fill="none" stroke="#8d8d91" stroke-width="5.6" stroke-linejoin="round" stroke-linecap="round" />
<polygon points="710.6,850.2 727.8,842.7 731.2,846.1 715.6,857" fill="#a5a5a8" stroke="#111" stroke-width="0.9" stroke-linejoin="round" />
<ellipse cx="754.3" cy="831.9" rx="1.9" ry="7.9" transform="rotate(-30 754.3 831.9)" fill="#77777b" stroke="#111" stroke-width="0.9"/>
<ellipse cx="746.8" cy="828.5" rx="1.6" ry="4.9" transform="rotate(-30 746.8 828.5)" fill="#77777b" stroke="#111" stroke-width="0.9"/>
<ellipse cx="712.9" cy="854.6" rx="37.6" ry="22.6" transform="rotate(60.1 712.9 854.6)" fill="none" stroke="#0a0a0a" stroke-width="3.2"/>
<ellipse cx="681" cy="871.7" rx="42.2" ry="25.3" transform="rotate(60.1 681 871.7)" fill="none" stroke="#222" stroke-width="4.4"/>
<ellipse cx="681" cy="871.7" rx="42.2" ry="25.3" transform="rotate(60.1 681 871.7)" fill="none" stroke="#a9a9ad" stroke-width="2.6"/>
<ellipse cx="684.8" cy="869.7" rx="40.1" ry="24.1" transform="rotate(60.1 684.8 869.7)" fill="none" stroke="#222" stroke-width="2.4"/>
<defs><linearGradient id="lg15" gradientUnits="userSpaceOnUse" x1="604.8" y1="864.3" x2="649.3" y2="941.7"><stop offset="0" stop-color="#9a9a9a"/><stop offset="0.5" stop-color="#6e6e6e"/><stop offset="1" stop-color="#3e3e3e"/></linearGradient></defs>
<ellipse cx="642.7" cy="894" rx="44.7" ry="27.7" transform="rotate(60.1 642.7 894)" fill="url(#lg15)" stroke="#111" stroke-width="1"/>
<polygon points="604.8,864.3 620.5,855.3 665,932.8 649.3,941.7" fill="url(#lg15)" stroke-linejoin="round" />
<polyline points="604.8,864.3 620.5,855.3" fill="none" stroke="#111" stroke-width="1" stroke-linejoin="round" stroke-linecap="round" />
<polyline points="649.3,941.7 665,932.8" fill="none" stroke="#111" stroke-width="1" stroke-linejoin="round" stroke-linecap="round" />
<ellipse cx="627.1" cy="903" rx="44.7" ry="27.7" transform="rotate(60.1 627.1 903)" fill="#77777a" stroke="#111" stroke-width="1"/>
<path d="M608.4 861.4 A45.4 28.2 60.1 0 1 653.6 940.2" fill="none" stroke="#111" stroke-width="1.2"/>
<path d="M612.3 859.2 A45.4 28.2 60.1 0 1 657.5 937.9" fill="none" stroke="#111" stroke-width="1.2"/>
<path d="M616.2 856.9 A45.4 28.2 60.1 0 1 661.4 935.7" fill="none" stroke="#111" stroke-width="1.2"/>
<ellipse cx="627.1" cy="903" rx="38.9" ry="24.1" transform="rotate(60.1 627.1 903)" fill="#8e8e90" stroke="#111" stroke-width="0.9"/>
<ellipse cx="627.1" cy="903" rx="31.4" ry="19.4" transform="rotate(60.1 627.1 903)" fill="#6a6a6c" stroke="#111" stroke-width="0.9"/>
<ellipse cx="627.1" cy="903" rx="23.8" ry="14.8" transform="rotate(60.1 627.1 903)" fill="#9a9a9c" stroke="#111" stroke-width="0.9"/>
<ellipse cx="627.1" cy="903" rx="16.3" ry="10.1" transform="rotate(60.1 627.1 903)" fill="#5a5a5c" stroke="#111" stroke-width="0.9"/>
<ellipse cx="627.1" cy="903" rx="9.5" ry="5.9" transform="rotate(60.1 627.1 903)" fill="#a9a9ab" stroke="#111" stroke-width="0.9"/>
<ellipse cx="627.1" cy="903" rx="4.5" ry="2.8" transform="rotate(60.1 627.1 903)" fill="#444" stroke="#111" stroke-width="0.9"/>
<ellipse cx="579.4" cy="930.4" rx="7.5" ry="4.5" transform="rotate(60.1 579.4 930.4)" fill="none" stroke="#0a0a0a" stroke-width="2.6"/>
<ellipse cx="591.9" cy="924.1" rx="7.5" ry="4.5" transform="rotate(60.1 591.9 924.1)" fill="none" stroke="#0a0a0a" stroke-width="2.6"/>
<ellipse cx="553.6" cy="946.2" rx="23.1" ry="13.9" transform="rotate(60.1 553.6 946.2)" fill="#2e2e30" stroke="#0a0a0a" stroke-width="1"/>
<ellipse cx="552.1" cy="946.9" rx="17.6" ry="10.5" transform="rotate(60.1 552.1 946.9)" fill="#9a9a9c" stroke="#111" stroke-width="0.9"/>
<ellipse cx="551.3" cy="947.4" rx="10" ry="6" transform="rotate(60.1 551.3 947.4)" fill="#fff" stroke="#111" stroke-width="0.9"/>
<ellipse cx="518.4" cy="966.3" rx="20.6" ry="12.3" transform="rotate(60.1 518.4 966.3)" fill="#8d8d88" stroke="#111" stroke-width="1"/>
<ellipse cx="516.7" cy="967.3" rx="19.1" ry="11.4" transform="rotate(60.1 516.7 967.3)" fill="#c6c6c0" stroke="#111" stroke-width="0.9"/>
<ellipse cx="515.9" cy="967.8" rx="8.3" ry="5" transform="rotate(60.1 515.9 967.8)" fill="#fff" stroke="#111" stroke-width="0.9"/>
<ellipse cx="488.4" cy="982" rx="12" ry="7.5" transform="rotate(60.1 488.4 982)" fill="#d8d0bc" stroke="#222" stroke-width="0.9"/>
<defs><linearGradient id="lg16" gradientUnits="userSpaceOnUse" x1="462.7" y1="985.2" x2="472.7" y2="1002.6"><stop offset="0" stop-color="#a5a5a5"/><stop offset="0.5" stop-color="#77777a"/><stop offset="1" stop-color="#444"/></linearGradient></defs>
<ellipse cx="484.1" cy="984.5" rx="10" ry="6.2" transform="rotate(60.1 484.1 984.5)" fill="url(#lg16)" stroke="#111" stroke-width="1"/>
<polygon points="462.7,985.2 479.1,975.8 489.1,993.2 472.7,1002.6" fill="url(#lg16)" stroke-linejoin="round" />
<polyline points="462.7,985.2 479.1,975.8" fill="none" stroke="#111" stroke-width="1" stroke-linejoin="round" stroke-linecap="round" />
<polyline points="472.7,1002.6 489.1,993.2" fill="none" stroke="#111" stroke-width="1" stroke-linejoin="round" stroke-linecap="round" />
<ellipse cx="467.7" cy="993.9" rx="10" ry="6.2" transform="rotate(60.1 467.7 993.9)" fill="#8a8a8a" stroke="#111" stroke-width="1"/>
<ellipse cx="467.7" cy="993.9" rx="5.5" ry="3.4" transform="rotate(60.1 467.7 993.9)" fill="#555" stroke="#111" stroke-width="0.8"/>
<path d="M524.2 855.9 C524.8 856.9 525.2 860 528 862.1 C530.7 864.2 538.4 867.4 540.5 868.4" fill="none" stroke="#222" stroke-width="3.4" stroke-linejoin="round" stroke-linecap="round"/>
<path d="M524.2 855.9 C524.8 856.9 525.2 860 528 862.1 C530.7 864.2 538.4 867.4 540.5 868.4" fill="none" stroke="#bbb" stroke-width="1.6" stroke-linejoin="round" stroke-linecap="round"/>
<path d="M546.8 851.3 C547.8 852.4 549.5 857.1 553.1 857.9 C556.6 858.6 565.6 856.2 568.1 855.9" fill="none" stroke="#222" stroke-width="4.2" stroke-linejoin="round" stroke-linecap="round"/>
<path d="M546.8 851.3 C547.8 852.4 549.5 857.1 553.1 857.9 C556.6 858.6 565.6 856.2 568.1 855.9" fill="none" stroke="#6a6a6c" stroke-width="2.2" stroke-linejoin="round" stroke-linecap="round"/>
<polyline points="576.9,847.1 580.7,848.8" fill="none" stroke="#111" stroke-width="3" stroke-linejoin="round" stroke-linecap="round" />
<defs><linearGradient id="lg17" gradientUnits="userSpaceOnUse" x1="187" y1="598.2" x2="225.8" y2="830.9"><stop offset="0" stop-color="#848218"/><stop offset="0.6" stop-color="#76740f"/><stop offset="0.85" stop-color="#8a8814"/><stop offset="0.93" stop-color="#b0ac1c"/><stop offset="1" stop-color="#8f8c14"/></linearGradient></defs>
<path d="M109.4 687.4L109.4 680.6 Q109.4 673.8 115.7 671.4L122.1 669.1 Q124.9 668 127.5 666.5L299.8 567.7L300.4 714.5L307.1 731.7 Q308.2 734.5 305.6 736L125.2 837.6 Q119.1 841 114.2 836L109.4 830.9Z" fill="url(#lg17)" stroke="#111" stroke-width="1.1" stroke-linejoin="round" />
<polygon points="300.4,568.3 310.1,574.1 310.1,585 315,588.9 315,732.4 311.1,734.5 305.3,726.2 300.4,714.5" fill="#8d8b18" stroke="#111" stroke-width="1" stroke-linejoin="round" />
<polyline points="306.2,586.5 306.2,724.2" fill="none" stroke="#3a3a08" stroke-width="0.8" stroke-linejoin="round" stroke-linecap="round" />
<polyline points="125.9,667 299.5,567.3" fill="none" stroke="#c8c432" stroke-width="1.6" stroke-linejoin="round" stroke-linecap="round" />
<polyline points="111.7,693.2 111.7,819.3" fill="none" stroke="#3a3a08" stroke-width="0.8" stroke-linejoin="round" stroke-linecap="round" />
<ellipse cx="310.1" cy="590.8" rx="1.4" ry="1.4" fill="#333"/>
<ellipse cx="310.1" cy="725.2" rx="1.4" ry="1.4" fill="#333"/>
<polyline points="172,666.7 270.8,607.7" fill="none" stroke="#2c2c06" stroke-width="3.6" stroke-linejoin="round" stroke-linecap="round" />
<polyline points="172,665.5 270.8,606.5" fill="none" stroke="#fff" stroke-width="3" stroke-linejoin="round" stroke-linecap="round" />
<polyline points="172,674.6 270.8,615.6" fill="none" stroke="#2c2c06" stroke-width="3.6" stroke-linejoin="round" stroke-linecap="round" />
<polyline points="172,673.4 270.8,614.4" fill="none" stroke="#fff" stroke-width="3" stroke-linejoin="round" stroke-linecap="round" />
<polyline points="172,682.5 270.8,623.5" fill="none" stroke="#2c2c06" stroke-width="3.6" stroke-linejoin="round" stroke-linecap="round" />
<polyline points="172,681.3 270.8,622.3" fill="none" stroke="#fff" stroke-width="3" stroke-linejoin="round" stroke-linecap="round" />
<polyline points="172,690.4 270.8,631.4" fill="none" stroke="#2c2c06" stroke-width="3.6" stroke-linejoin="round" stroke-linecap="round" />
<polyline points="172,689.2 270.8,630.2" fill="none" stroke="#fff" stroke-width="3" stroke-linejoin="round" stroke-linecap="round" />
<polyline points="134.6,720.3 270.8,639.3" fill="none" stroke="#2c2c06" stroke-width="3.6" stroke-linejoin="round" stroke-linecap="round" />
<polyline points="134.6,719.1 270.8,638.1" fill="none" stroke="#fff" stroke-width="3" stroke-linejoin="round" stroke-linecap="round" />
<polyline points="134.6,728.2 270.8,647.2" fill="none" stroke="#2c2c06" stroke-width="3.6" stroke-linejoin="round" stroke-linecap="round" />
<polyline points="134.6,727 270.8,646" fill="none" stroke="#fff" stroke-width="3" stroke-linejoin="round" stroke-linecap="round" />
<polyline points="134.6,736 270.8,655.1" fill="none" stroke="#2c2c06" stroke-width="3.6" stroke-linejoin="round" stroke-linecap="round" />
<polyline points="134.6,734.8 270.8,653.9" fill="none" stroke="#fff" stroke-width="3" stroke-linejoin="round" stroke-linecap="round" />
<polyline points="134.6,743.9 270.8,663" fill="none" stroke="#2c2c06" stroke-width="3.6" stroke-linejoin="round" stroke-linecap="round" />
<polyline points="134.6,742.7 270.8,661.8" fill="none" stroke="#fff" stroke-width="3" stroke-linejoin="round" stroke-linecap="round" />
<polyline points="134.6,751.8 270.8,670.9" fill="none" stroke="#2c2c06" stroke-width="3.6" stroke-linejoin="round" stroke-linecap="round" />
<polyline points="134.6,750.6 270.8,669.7" fill="none" stroke="#fff" stroke-width="3" stroke-linejoin="round" stroke-linecap="round" />
<polyline points="134.6,759.7 270.8,678.8" fill="none" stroke="#2c2c06" stroke-width="3.6" stroke-linejoin="round" stroke-linecap="round" />
<polyline points="134.6,758.5 270.8,677.6" fill="none" stroke="#fff" stroke-width="3" stroke-linejoin="round" stroke-linecap="round" />
<polyline points="134.6,767.6 270.8,686.7" fill="none" stroke="#2c2c06" stroke-width="3.6" stroke-linejoin="round" stroke-linecap="round" />
<polyline points="134.6,766.4 270.8,685.5" fill="none" stroke="#fff" stroke-width="3" stroke-linejoin="round" stroke-linecap="round" />
<polyline points="134.6,775.5 270.8,694.5" fill="none" stroke="#2c2c06" stroke-width="3.6" stroke-linejoin="round" stroke-linecap="round" />
<polyline points="134.6,774.3 270.8,693.3" fill="none" stroke="#fff" stroke-width="3" stroke-linejoin="round" stroke-linecap="round" />
<polyline points="134.6,783.4 270.8,702.4" fill="none" stroke="#2c2c06" stroke-width="3.6" stroke-linejoin="round" stroke-linecap="round" />
<polyline points="134.6,782.2 270.8,701.2" fill="none" stroke="#fff" stroke-width="3" stroke-linejoin="round" stroke-linecap="round" />
<polyline points="134.6,791.3 270.8,710.3" fill="none" stroke="#2c2c06" stroke-width="3.6" stroke-linejoin="round" stroke-linecap="round" />
<polyline points="134.6,790.1 270.8,709.1" fill="none" stroke="#fff" stroke-width="3" stroke-linejoin="round" stroke-linecap="round" />
<polyline points="134.6,799.2 270.8,718.2" fill="none" stroke="#2c2c06" stroke-width="3.6" stroke-linejoin="round" stroke-linecap="round" />
<polyline points="134.6,798 270.8,717" fill="none" stroke="#fff" stroke-width="3" stroke-linejoin="round" stroke-linecap="round" />
<polygon points="133.1,681.6 145.3,675.8 145.3,693.2 133.1,700.2" fill="#fff" stroke="#222" stroke-width="0.9" stroke-linejoin="round" />
<polygon points="272.3,763.4 290.7,753.3 294,755.7 294,779.5 276.6,789.6 273.3,787.3" fill="#3e3e3e" stroke="#111" stroke-width="1" stroke-linejoin="round" />
<polygon points="275.8,765.9 291.3,757.6 291.7,777 276.2,785.9" fill="#6c6c6c" stroke="#222" stroke-width="0.7" stroke-linejoin="round" />
<polygon points="296.5,778.9 311.1,768.8 326,780.5 326,798.9 312.1,804.1 296.5,796.4" fill="#3a3a3c" stroke="#111" stroke-width="1" stroke-linejoin="round" />
<polygon points="299.5,780.5 311.1,772.7 313,792.1 300.4,794.1" fill="#555558" stroke="#222" stroke-width="0.7" stroke-linejoin="round" />
<polygon points="318.8,780.5 325.1,778.5 325.6,782 319.4,784" fill="#d2552a" stroke="#5a1a08" stroke-width="0.6" stroke-linejoin="round" />
<polygon points="313,790.2 319.2,788.2 319.8,791.7 313.6,793.7" fill="#d2552a" stroke="#5a1a08" stroke-width="0.6" stroke-linejoin="round" />
<polygon points="319.8,797.9 326,796 326.6,799.5 320.4,801.4" fill="#d2552a" stroke="#5a1a08" stroke-width="0.6" stroke-linejoin="round" />
<polygon points="322.7,810 346.4,794.4 373.2,781.5 373.2,815.4 320.8,846.8" fill="#68686a" stroke="#111" stroke-width="1" stroke-linejoin="round" />
<polygon points="346,792.1 373.5,776.2 378.4,780.5 351.2,796.4" fill="#a9a9a9" stroke="#111" stroke-width="0.9" stroke-linejoin="round" />
<polygon points="346,801.8 356.9,796 356.9,816.4 346,822.4" fill="#fff" stroke="#222" stroke-width="0.8" stroke-linejoin="round" />
<path d="M419.1 971.3 C420.5 968.7 422.5 959.9 427.3 955.7 C432 951.5 440.4 947.2 447.6 946.2 C454.9 945.1 466.9 948.7 470.7 949.1" fill="none" stroke="#1a1a1a" stroke-width="7.4" stroke-linejoin="round" stroke-linecap="butt"/>
<path d="M419.1 971.3 C420.5 968.7 422.5 959.9 427.3 955.7 C432 951.5 440.4 947.2 447.6 946.2 C454.9 945.1 466.9 948.7 470.7 949.1" fill="none" stroke="#93938f" stroke-width="5.8" stroke-linejoin="round" stroke-linecap="butt"/>
<path d="M362.8 1012.7 C364.2 1009.5 367 998.7 371.6 993.7 C376.2 988.7 383.6 984.9 390.6 982.8 C397.6 980.8 409.8 981.7 413.7 981.5" fill="none" stroke="#1a1a1a" stroke-width="7.4" stroke-linejoin="round" stroke-linecap="butt"/>
<path d="M362.8 1012.7 C364.2 1009.5 367 998.7 371.6 993.7 C376.2 988.7 383.6 984.9 390.6 982.8 C397.6 980.8 409.8 981.7 413.7 981.5" fill="none" stroke="#93938f" stroke-width="5.8" stroke-linejoin="round" stroke-linecap="butt"/>
<ellipse cx="441.8" cy="1021.2" rx="45.1" ry="21.5" transform="rotate(62.5 441.8 1021.2)" fill="none" stroke="#1a1a1a" stroke-width="7.4"/>
<ellipse cx="441.8" cy="1021.2" rx="45.1" ry="21.5" transform="rotate(62.5 441.8 1021.2)" fill="none" stroke="#93938f" stroke-width="5.8"/>
<polyline points="352.6,1020.2 473.4,950.5" fill="none" stroke="#111" stroke-width="5.2" stroke-linejoin="round" stroke-linecap="round" />
<polyline points="352.6,1020.2 473.4,950.5" fill="none" stroke="#3c3c3a" stroke-width="3.6" stroke-linejoin="round" stroke-linecap="round" />
<polyline points="353.9,1018.8 472.7,949.6" fill="none" stroke="#9a9a98" stroke-width="0.9" stroke-linejoin="round" stroke-linecap="round" />
<polyline points="366.2,1090.1 442.9,1048" fill="none" stroke="#111" stroke-width="5.2" stroke-linejoin="round" stroke-linecap="round" />
<polyline points="366.2,1090.1 442.9,1048" fill="none" stroke="#7a7a78" stroke-width="3.6" stroke-linejoin="round" stroke-linecap="round" />
<polyline points="387.9,1079.2 439.5,1050.7" fill="none" stroke="#111" stroke-width="4" stroke-linejoin="round" stroke-linecap="round" />
<polyline points="387.9,1079.2 439.5,1050.7" fill="none" stroke="#b5b5b2" stroke-width="2.4" stroke-linejoin="round" stroke-linecap="round" />
<polygon points="468.7,949.6 474.1,947.5 475.5,952.3 473.4,959.7 469.3,961.1" fill="#555" stroke="#111" stroke-width="0.8" stroke-linejoin="round" />
<path d="M355.6 1020.2 C357.8 1021.2 363.5 1022.3 368.9 1026.3 C374.3 1030.2 382 1036.9 387.9 1043.9 C393.8 1050.9 400.4 1061.3 404.2 1068.4 C408 1075.4 410.9 1081.8 410.7 1086 C410.5 1090.2 407.1 1093.1 402.8 1093.5 C398.6 1093.8 390.4 1091.3 385.2 1088 C380 1084.8 373.9 1076.2 371.6 1073.8" fill="none" stroke="#1a1a1a" stroke-width="7.4" stroke-linejoin="round" stroke-linecap="butt"/>
<path d="M355.6 1020.2 C357.8 1021.2 363.5 1022.3 368.9 1026.3 C374.3 1030.2 382 1036.9 387.9 1043.9 C393.8 1050.9 400.4 1061.3 404.2 1068.4 C408 1075.4 410.9 1081.8 410.7 1086 C410.5 1090.2 407.1 1093.1 402.8 1093.5 C398.6 1093.8 390.4 1091.3 385.2 1088 C380 1084.8 373.9 1076.2 371.6 1073.8" fill="none" stroke="#93938f" stroke-width="5.8" stroke-linejoin="round" stroke-linecap="butt"/>
<path d="M368.9 1073.1 C370.2 1074.4 373.4 1078.9 377 1080.6 C380.6 1082.3 388.3 1082.8 390.6 1083.3" fill="none" stroke="#1a1a1a" stroke-width="4.6" stroke-linejoin="round" stroke-linecap="butt"/>
<path d="M368.9 1073.1 C370.2 1074.4 373.4 1078.9 377 1080.6 C380.6 1082.3 388.3 1082.8 390.6 1083.3" fill="none" stroke="#93938f" stroke-width="3" stroke-linejoin="round" stroke-linecap="butt"/>
<polygon points="351,1019.5 356.7,1018.1 360.7,1030.3 368.9,1034.4 369.6,1060.2 364.8,1072.4 364.8,1081.9 377,1090.1 367.5,1095.5 356,1088.7 354.6,1071.1 349.2,1067 345.8,1058.9 349.2,1043.9 352.6,1035.8" fill="#4c4c4a" stroke="#111" stroke-width="1.1" stroke-linejoin="round" />
<polygon points="366.2,1042.6 374.3,1043.9 379.7,1053.4 378.4,1062.9 367.5,1069.7 364.8,1060.2" fill="#8a8a88" stroke="#111" stroke-width="0.9" stroke-linejoin="round" />
<polygon points="343.1,1039.8 349.2,1035.8 351.9,1043.9 347.2,1050.7" fill="#d9d9d6" stroke="#222" stroke-width="0.8" stroke-linejoin="round" />
<ellipse cx="351.5" cy="1062.2" rx="5.7" ry="5.7" fill="#77777a" stroke="#111" stroke-width="1"/>
<ellipse cx="350.5" cy="1062.9" rx="2.7" ry="2.7" fill="#bcbcbc" stroke="#111" stroke-width="0.8"/>
<polyline points="353.9,1022.2 354.6,1053.4" fill="none" stroke="#9a9a98" stroke-width="1" stroke-linejoin="round" stroke-linecap="round" />
<defs><linearGradient id="lg18" gradientUnits="userSpaceOnUse" x1="1358.8" y1="842.7" x2="1486.2" y2="1051.5"><stop offset="0" stop-color="#86841a"/><stop offset="1" stop-color="#78760f"/></linearGradient></defs>
<polygon points="1358.4,826.4 1361.9,824.3 1546.4,930 1546.8,1089.6 1537.8,1093.7 1358.4,991" fill="url(#lg18)" stroke="#111" stroke-width="1.1" stroke-linejoin="round" />
<polygon points="1542.2,930.8 1546.4,930 1546.8,1089.6 1542.6,1091.2" fill="#a6a21e" stroke="#222" stroke-width="0.7" stroke-linejoin="round" />
<polyline points="1359.2,828.5 1542.6,932.1" fill="none" stroke="#c4c030" stroke-width="1.5" stroke-linejoin="round" stroke-linecap="round" />
<polygon points="1426.7,1022.3 1429.8,1020.2 1540.5,1088.7 1537.8,1093.7" fill="#d0cc28" stroke="#333" stroke-width="0.7" stroke-linejoin="round" />
<polyline points="1374.3,855.1 1427.7,886.4" fill="none" stroke="#2c2c06" stroke-width="3.9" stroke-linejoin="round" stroke-linecap="round" />
<polyline points="1374.3,854 1427.1,884.9" fill="none" stroke="#fff" stroke-width="3.3" stroke-linejoin="round" stroke-linecap="round" />
<polyline points="1436.9,891.8 1471.8,912.2" fill="none" stroke="#2c2c06" stroke-width="3.9" stroke-linejoin="round" stroke-linecap="round" />
<polyline points="1436.9,890.7 1471.2,910.7" fill="none" stroke="#fff" stroke-width="3.3" stroke-linejoin="round" stroke-linecap="round" />
<polyline points="1480.8,917.4 1535.3,949.3" fill="none" stroke="#2c2c06" stroke-width="3.9" stroke-linejoin="round" stroke-linecap="round" />
<polyline points="1480.8,916.3 1534.7,947.8" fill="none" stroke="#fff" stroke-width="3.3" stroke-linejoin="round" stroke-linecap="round" />
<polyline points="1374.3,863.1 1427.7,894.4" fill="none" stroke="#2c2c06" stroke-width="3.9" stroke-linejoin="round" stroke-linecap="round" />
<polyline points="1374.3,862 1427.1,892.9" fill="none" stroke="#fff" stroke-width="3.3" stroke-linejoin="round" stroke-linecap="round" />
<polyline points="1436.9,899.7 1471.8,920.2" fill="none" stroke="#2c2c06" stroke-width="3.9" stroke-linejoin="round" stroke-linecap="round" />
<polyline points="1436.9,898.6 1471.2,918.7" fill="none" stroke="#fff" stroke-width="3.3" stroke-linejoin="round" stroke-linecap="round" />
<polyline points="1480.8,925.4 1535.3,957.3" fill="none" stroke="#2c2c06" stroke-width="3.9" stroke-linejoin="round" stroke-linecap="round" />
<polyline points="1480.8,924.3 1534.7,955.8" fill="none" stroke="#fff" stroke-width="3.3" stroke-linejoin="round" stroke-linecap="round" />
<polyline points="1374.3,871.1 1427.7,902.4" fill="none" stroke="#2c2c06" stroke-width="3.9" stroke-linejoin="round" stroke-linecap="round" />
<polyline points="1374.3,870 1427.1,900.9" fill="none" stroke="#fff" stroke-width="3.3" stroke-linejoin="round" stroke-linecap="round" />
<polyline points="1436.9,907.7 1471.8,928.2" fill="none" stroke="#2c2c06" stroke-width="3.9" stroke-linejoin="round" stroke-linecap="round" />
<polyline points="1436.9,906.6 1471.2,926.7" fill="none" stroke="#fff" stroke-width="3.3" stroke-linejoin="round" stroke-linecap="round" />
<polyline points="1480.8,933.4 1535.3,965.3" fill="none" stroke="#2c2c06" stroke-width="3.9" stroke-linejoin="round" stroke-linecap="round" />
<polyline points="1480.8,932.3 1534.7,963.8" fill="none" stroke="#fff" stroke-width="3.3" stroke-linejoin="round" stroke-linecap="round" />
<polyline points="1374.3,879 1427.7,910.4" fill="none" stroke="#2c2c06" stroke-width="3.9" stroke-linejoin="round" stroke-linecap="round" />
<polyline points="1374.3,877.9 1427.1,908.9" fill="none" stroke="#fff" stroke-width="3.3" stroke-linejoin="round" stroke-linecap="round" />
<polyline points="1436.9,915.7 1471.8,936.1" fill="none" stroke="#2c2c06" stroke-width="3.9" stroke-linejoin="round" stroke-linecap="round" />
<polyline points="1436.9,914.6 1471.2,934.6" fill="none" stroke="#fff" stroke-width="3.3" stroke-linejoin="round" stroke-linecap="round" />
<polyline points="1480.8,941.4 1535.3,973.3" fill="none" stroke="#2c2c06" stroke-width="3.9" stroke-linejoin="round" stroke-linecap="round" />
<polyline points="1480.8,940.3 1534.7,971.8" fill="none" stroke="#fff" stroke-width="3.3" stroke-linejoin="round" stroke-linecap="round" />
<polyline points="1374.3,887 1427.7,918.3" fill="none" stroke="#2c2c06" stroke-width="3.9" stroke-linejoin="round" stroke-linecap="round" />
<polyline points="1374.3,885.9 1427.1,916.8" fill="none" stroke="#fff" stroke-width="3.3" stroke-linejoin="round" stroke-linecap="round" />
<polyline points="1436.9,923.7 1471.8,944.1" fill="none" stroke="#2c2c06" stroke-width="3.9" stroke-linejoin="round" stroke-linecap="round" />
<polyline points="1436.9,922.6 1471.2,942.6" fill="none" stroke="#fff" stroke-width="3.3" stroke-linejoin="round" stroke-linecap="round" />
<polyline points="1480.8,949.3 1535.3,981.3" fill="none" stroke="#2c2c06" stroke-width="3.9" stroke-linejoin="round" stroke-linecap="round" />
<polyline points="1480.8,948.2 1534.7,979.8" fill="none" stroke="#fff" stroke-width="3.3" stroke-linejoin="round" stroke-linecap="round" />
<polyline points="1374.3,895 1427.7,926.3" fill="none" stroke="#2c2c06" stroke-width="3.9" stroke-linejoin="round" stroke-linecap="round" />
<polyline points="1374.3,893.9 1427.1,924.8" fill="none" stroke="#fff" stroke-width="3.3" stroke-linejoin="round" stroke-linecap="round" />
<polyline points="1436.9,931.7 1471.8,952.1" fill="none" stroke="#2c2c06" stroke-width="3.9" stroke-linejoin="round" stroke-linecap="round" />
<polyline points="1436.9,930.6 1471.2,950.6" fill="none" stroke="#fff" stroke-width="3.3" stroke-linejoin="round" stroke-linecap="round" />
<polyline points="1480.8,957.3 1535.3,989.2" fill="none" stroke="#2c2c06" stroke-width="3.9" stroke-linejoin="round" stroke-linecap="round" />
<polyline points="1480.8,956.2 1534.7,987.7" fill="none" stroke="#fff" stroke-width="3.3" stroke-linejoin="round" stroke-linecap="round" />
<polyline points="1374.3,903 1427.7,934.3" fill="none" stroke="#2c2c06" stroke-width="3.9" stroke-linejoin="round" stroke-linecap="round" />
<polyline points="1374.3,901.9 1427.1,932.8" fill="none" stroke="#fff" stroke-width="3.3" stroke-linejoin="round" stroke-linecap="round" />
<polyline points="1436.9,939.6 1471.8,960.1" fill="none" stroke="#2c2c06" stroke-width="3.9" stroke-linejoin="round" stroke-linecap="round" />
<polyline points="1436.9,938.5 1471.2,958.6" fill="none" stroke="#fff" stroke-width="3.3" stroke-linejoin="round" stroke-linecap="round" />
<polyline points="1480.8,965.3 1535.3,997.2" fill="none" stroke="#2c2c06" stroke-width="3.9" stroke-linejoin="round" stroke-linecap="round" />
<polyline points="1480.8,964.2 1534.7,995.7" fill="none" stroke="#fff" stroke-width="3.3" stroke-linejoin="round" stroke-linecap="round" />
<polyline points="1374.3,911 1427.7,942.3" fill="none" stroke="#2c2c06" stroke-width="3.9" stroke-linejoin="round" stroke-linecap="round" />
<polyline points="1374.3,909.9 1427.1,940.8" fill="none" stroke="#fff" stroke-width="3.3" stroke-linejoin="round" stroke-linecap="round" />
<polyline points="1436.9,947.6 1471.8,968" fill="none" stroke="#2c2c06" stroke-width="3.9" stroke-linejoin="round" stroke-linecap="round" />
<polyline points="1436.9,946.5 1471.2,966.5" fill="none" stroke="#fff" stroke-width="3.3" stroke-linejoin="round" stroke-linecap="round" />
<polyline points="1480.8,973.3 1535.3,1005.2" fill="none" stroke="#2c2c06" stroke-width="3.9" stroke-linejoin="round" stroke-linecap="round" />
<polyline points="1480.8,972.2 1534.7,1003.7" fill="none" stroke="#fff" stroke-width="3.3" stroke-linejoin="round" stroke-linecap="round" />
<polyline points="1374.3,918.9 1427.7,950.2" fill="none" stroke="#2c2c06" stroke-width="3.9" stroke-linejoin="round" stroke-linecap="round" />
<polyline points="1374.3,917.8 1427.1,948.7" fill="none" stroke="#fff" stroke-width="3.3" stroke-linejoin="round" stroke-linecap="round" />
<polyline points="1436.9,955.6 1471.8,976" fill="none" stroke="#2c2c06" stroke-width="3.9" stroke-linejoin="round" stroke-linecap="round" />
<polyline points="1436.9,954.5 1471.2,974.5" fill="none" stroke="#fff" stroke-width="3.3" stroke-linejoin="round" stroke-linecap="round" />
<polyline points="1480.8,981.2 1535.3,1013.2" fill="none" stroke="#2c2c06" stroke-width="3.9" stroke-linejoin="round" stroke-linecap="round" />
<polyline points="1480.8,980.1 1534.7,1011.7" fill="none" stroke="#fff" stroke-width="3.3" stroke-linejoin="round" stroke-linecap="round" />
<polyline points="1374.3,926.9 1427.7,958.2" fill="none" stroke="#2c2c06" stroke-width="3.9" stroke-linejoin="round" stroke-linecap="round" />
<polyline points="1374.3,925.8 1427.1,956.7" fill="none" stroke="#fff" stroke-width="3.3" stroke-linejoin="round" stroke-linecap="round" />
<polyline points="1436.9,963.6 1471.8,984" fill="none" stroke="#2c2c06" stroke-width="3.9" stroke-linejoin="round" stroke-linecap="round" />
<polyline points="1436.9,962.5 1471.2,982.5" fill="none" stroke="#fff" stroke-width="3.3" stroke-linejoin="round" stroke-linecap="round" />
<polyline points="1480.8,989.2 1535.3,1021.2" fill="none" stroke="#2c2c06" stroke-width="3.9" stroke-linejoin="round" stroke-linecap="round" />
<polyline points="1480.8,988.1 1534.7,1019.7" fill="none" stroke="#fff" stroke-width="3.3" stroke-linejoin="round" stroke-linecap="round" />
<polyline points="1374.3,934.9 1427.7,966.2" fill="none" stroke="#2c2c06" stroke-width="3.9" stroke-linejoin="round" stroke-linecap="round" />
<polyline points="1374.3,933.8 1427.1,964.7" fill="none" stroke="#fff" stroke-width="3.3" stroke-linejoin="round" stroke-linecap="round" />
<polyline points="1436.9,971.5 1471.8,992" fill="none" stroke="#2c2c06" stroke-width="3.9" stroke-linejoin="round" stroke-linecap="round" />
<polyline points="1436.9,970.4 1471.2,990.5" fill="none" stroke="#fff" stroke-width="3.3" stroke-linejoin="round" stroke-linecap="round" />
<polyline points="1480.8,997.2 1535.3,1029.1" fill="none" stroke="#2c2c06" stroke-width="3.9" stroke-linejoin="round" stroke-linecap="round" />
<polyline points="1480.8,996.1 1534.7,1027.6" fill="none" stroke="#fff" stroke-width="3.3" stroke-linejoin="round" stroke-linecap="round" />
<polyline points="1374.3,942.9 1427.7,974.2" fill="none" stroke="#2c2c06" stroke-width="3.9" stroke-linejoin="round" stroke-linecap="round" />
<polyline points="1374.3,941.8 1427.1,972.7" fill="none" stroke="#fff" stroke-width="3.3" stroke-linejoin="round" stroke-linecap="round" />
<polyline points="1436.9,979.5 1471.8,1000" fill="none" stroke="#2c2c06" stroke-width="3.9" stroke-linejoin="round" stroke-linecap="round" />
<polyline points="1436.9,978.4 1471.2,998.5" fill="none" stroke="#fff" stroke-width="3.3" stroke-linejoin="round" stroke-linecap="round" />
<polyline points="1480.8,1005.2 1535.3,1037.1" fill="none" stroke="#2c2c06" stroke-width="3.9" stroke-linejoin="round" stroke-linecap="round" />
<polyline points="1480.8,1004.1 1534.7,1035.6" fill="none" stroke="#fff" stroke-width="3.3" stroke-linejoin="round" stroke-linecap="round" />
<polyline points="1374.3,950.8 1427.7,982.2" fill="none" stroke="#2c2c06" stroke-width="3.9" stroke-linejoin="round" stroke-linecap="round" />
<polyline points="1374.3,949.7 1427.1,980.7" fill="none" stroke="#fff" stroke-width="3.3" stroke-linejoin="round" stroke-linecap="round" />
<polyline points="1436.9,987.5 1471.8,1007.9" fill="none" stroke="#2c2c06" stroke-width="3.9" stroke-linejoin="round" stroke-linecap="round" />
<polyline points="1436.9,986.4 1471.2,1006.4" fill="none" stroke="#fff" stroke-width="3.3" stroke-linejoin="round" stroke-linecap="round" />
<polyline points="1480.8,1013.2 1535.3,1045.1" fill="none" stroke="#2c2c06" stroke-width="3.9" stroke-linejoin="round" stroke-linecap="round" />
<polyline points="1480.8,1012.1 1534.7,1043.6" fill="none" stroke="#fff" stroke-width="3.3" stroke-linejoin="round" stroke-linecap="round" />
<polyline points="1374.3,958.8 1427.7,990.1" fill="none" stroke="#2c2c06" stroke-width="3.9" stroke-linejoin="round" stroke-linecap="round" />
<polyline points="1374.3,957.7 1427.1,988.6" fill="none" stroke="#fff" stroke-width="3.3" stroke-linejoin="round" stroke-linecap="round" />
<polyline points="1436.9,995.5 1471.8,1015.9" fill="none" stroke="#2c2c06" stroke-width="3.9" stroke-linejoin="round" stroke-linecap="round" />
<polyline points="1436.9,994.4 1471.2,1014.4" fill="none" stroke="#fff" stroke-width="3.3" stroke-linejoin="round" stroke-linecap="round" />
<polyline points="1480.8,1021.1 1535.3,1053.1" fill="none" stroke="#2c2c06" stroke-width="3.9" stroke-linejoin="round" stroke-linecap="round" />
<polyline points="1480.8,1020 1534.7,1051.6" fill="none" stroke="#fff" stroke-width="3.3" stroke-linejoin="round" stroke-linecap="round" />
<polyline points="1374.3,966.8 1427.7,998.1" fill="none" stroke="#2c2c06" stroke-width="3.9" stroke-linejoin="round" stroke-linecap="round" />
<polyline points="1374.3,965.7 1427.1,996.6" fill="none" stroke="#fff" stroke-width="3.3" stroke-linejoin="round" stroke-linecap="round" />
<polyline points="1436.9,1003.5 1471.8,1023.9" fill="none" stroke="#2c2c06" stroke-width="3.9" stroke-linejoin="round" stroke-linecap="round" />
<polyline points="1436.9,1002.4 1471.2,1022.4" fill="none" stroke="#fff" stroke-width="3.3" stroke-linejoin="round" stroke-linecap="round" />
<polyline points="1480.8,1029.1 1535.3,1061" fill="none" stroke="#2c2c06" stroke-width="3.9" stroke-linejoin="round" stroke-linecap="round" />
<polyline points="1480.8,1028 1534.7,1059.5" fill="none" stroke="#fff" stroke-width="3.3" stroke-linejoin="round" stroke-linecap="round" />
<polygon points="1511.3,867.7 1523.8,860.4 1532.2,863.6 1531.1,868.1 1548.9,878.2 1559.3,871.9 1566,876.1 1564.5,884.4 1578.1,897 1581.7,905.3 1580.6,914.1 1571.9,910.5 1517.5,879.8 1517.5,871.9" fill="#a9a9a6" stroke="#111" stroke-width="1" stroke-linejoin="round" />
<path d="M1519.6 871.9 C1521.9 871.6 1535 875.4 1540.5 878.2 C1546.1 881 1557.2 889.2 1561.4 892.8 C1565.6 896.4 1573.5 904.8 1571.9 905.3 C1570.2 905.9 1555.3 900.3 1548.9 897 C1542.5 893.6 1527.7 883.6 1523.8 880.3 C1519.9 876.9 1517.4 872.2 1519.6 871.9Z" fill="#c9c9c6" stroke="#333" stroke-width="0.7" stroke-linejoin="round" />
<polygon points="1575,870.2 1641.8,830.1 1683,853.1 1686.7,859.8 1629.3,894.5 1617.8,892.8 1609.9,895.3 1594.8,884.4" fill="#4f9a6c" stroke="#111" stroke-width="1" stroke-linejoin="round" />
<polygon points="1594.8,884.4 1609.9,895.3 1617.8,892.8 1629.3,894.5 1629.3,898 1611.5,899.5 1595.2,888.6" fill="#222" stroke-linejoin="round" />
<polygon points="1642.9,884.4 1657.5,877.1 1657.9,882.3 1643.9,889.7" fill="#333" stroke-linejoin="round" />
<polygon points="1669,870.9 1685.7,861.9 1685.7,866.7 1670,875" fill="#333" stroke-linejoin="round" />
<polyline points="1596.9,877.1 1606.3,880.3 1611.5,883.4 1619.9,882.8 1627.2,887.6" fill="none" stroke="#143a22" stroke-width="1.8" stroke-linejoin="round" stroke-linecap="round" />
<polygon points="1632.4,797.8 1646.4,789.4 1653.7,797.1 1665.8,811.3 1695.1,824.3 1703.4,821.8 1710.1,829.1 1704.5,834.7 1703.9,843.1 1695.1,847.3 1640.8,814.5 1634.5,807.2" fill="#9c9c9a" stroke="#111" stroke-width="1" stroke-linejoin="round" />
<path d="M1647 792.5 C1647.3 791.4 1656.9 807.4 1661.7 811.3 C1666.4 815.2 1677.3 820 1682.6 821.8 C1687.9 823.6 1701.1 823.8 1701.4 824.9 C1701.6 826 1690.2 830.8 1684.6 830.1 C1679.1 829.4 1664.6 824.7 1659.6 819.7 C1654.6 814.7 1646.8 793.6 1647 792.5Z" fill="#c9c9c6" stroke="#333" stroke-width="0.7" stroke-linejoin="round" />
<defs><pattern id="fins" width="3.4" height="10" patternUnits="userSpaceOnUse"><rect width="3.4" height="10" fill="#7c7c81"/><rect x="0" width="1.5" height="10" fill="#2e2e32"/><rect x="2.5" width="0.6" height="10" fill="#a9a9ae"/></pattern></defs>
<polygon points="1228.4,908.4 1246.7,898.5 1252.4,902.7 1252.4,913.6 1238.1,918.9 1238.1,1038.4 1229.7,1034.5" fill="#a9a9ae" stroke="#222" stroke-width="0.9" stroke-linejoin="round" />
<polygon points="1240.2,911 1412,1008.4 1412,1144.2 1240.2,1047.6" fill="url(#fins)" stroke="#222" stroke-width="0.8" stroke-linejoin="round" />
<polygon points="1404.6,1011 1422.9,1001.4 1427.4,1005 1413,1012.8 1413,1159.1 1404.6,1156.4" fill="#b4b4ba" stroke="#222" stroke-width="0.9" stroke-linejoin="round" />
<polygon points="1404.6,1150.7 1425.5,1142.9 1430.8,1148.6 1411.2,1159.1" fill="#c4c4c8" stroke="#222" stroke-width="0.9" stroke-linejoin="round" />
<path d="M1416.4 1031.9 C1418.4 1032.1 1425.3 1031.5 1428.1 1033.2 C1431 1035 1433.4 1039.3 1433.4 1042.3 C1433.4 1045.4 1431 1049.7 1428.1 1051.5 C1425.3 1053.2 1418.4 1052.6 1416.4 1052.8" fill="none" stroke="#4a1a08" stroke-width="5.6" stroke-linejoin="round" stroke-linecap="round"/>
<path d="M1416.4 1031.9 C1418.4 1032.1 1425.3 1031.5 1428.1 1033.2 C1431 1035 1433.4 1039.3 1433.4 1042.3 C1433.4 1045.4 1431 1049.7 1428.1 1051.5 C1425.3 1053.2 1418.4 1052.6 1416.4 1052.8" fill="none" stroke="#b8542c" stroke-width="4" stroke-linejoin="round" stroke-linecap="round"/>
<path d="M1416.4 1065.8 C1418.4 1066.1 1425.3 1065.4 1428.1 1067.2 C1431 1068.9 1433.4 1073.2 1433.4 1076.3 C1433.4 1079.3 1431 1083.7 1428.1 1085.4 C1425.3 1087.2 1418.4 1086.5 1416.4 1086.7" fill="none" stroke="#4a1a08" stroke-width="5.6" stroke-linejoin="round" stroke-linecap="round"/>
<path d="M1416.4 1065.8 C1418.4 1066.1 1425.3 1065.4 1428.1 1067.2 C1431 1068.9 1433.4 1073.2 1433.4 1076.3 C1433.4 1079.3 1431 1083.7 1428.1 1085.4 C1425.3 1087.2 1418.4 1086.5 1416.4 1086.7" fill="none" stroke="#b8542c" stroke-width="4" stroke-linejoin="round" stroke-linecap="round"/>
<path d="M1416.4 1099.8 C1418.4 1100 1425.3 1099.4 1428.1 1101.1 C1431 1102.8 1433.4 1107.2 1433.4 1110.2 C1433.4 1113.3 1431 1117.6 1428.1 1119.4 C1425.3 1121.1 1418.4 1120.5 1416.4 1120.7" fill="none" stroke="#4a1a08" stroke-width="5.6" stroke-linejoin="round" stroke-linecap="round"/>
<path d="M1416.4 1099.8 C1418.4 1100 1425.3 1099.4 1428.1 1101.1 C1431 1102.8 1433.4 1107.2 1433.4 1110.2 C1433.4 1113.3 1431 1117.6 1428.1 1119.4 C1425.3 1121.1 1418.4 1120.5 1416.4 1120.7" fill="none" stroke="#b8542c" stroke-width="4" stroke-linejoin="round" stroke-linecap="round"/>
<polyline points="1416.4,1017 1425.5,1020.2" fill="none" stroke="#4a1a08" stroke-width="5.6" stroke-linejoin="round" stroke-linecap="round" />
<polyline points="1416.4,1017 1425.5,1020.2" fill="none" stroke="#b8542c" stroke-width="4" stroke-linejoin="round" stroke-linecap="round" />
<polyline points="1416.4,1132.4 1425.5,1135.6" fill="none" stroke="#4a1a08" stroke-width="5.6" stroke-linejoin="round" stroke-linecap="round" />
<polyline points="1416.4,1132.4 1425.5,1135.6" fill="none" stroke="#b8542c" stroke-width="4" stroke-linejoin="round" stroke-linecap="round" />
<polygon points="1099.2,1031.9 1170.2,1072.4 1170.2,1150.7 1099.2,1111.5" fill="#48484a" stroke="#111" stroke-width="1" stroke-linejoin="round" />
<polygon points="1079.6,1043.7 1099.2,1031.9 1170.2,1072.4 1150.1,1083.3" fill="#6a6a6c" stroke="#111" stroke-width="0.9" stroke-linejoin="round" />
<polygon points="1150.1,1083.3 1170.2,1072.4 1170.2,1150.7 1150.1,1161.7" fill="#3c3c3e" stroke="#111" stroke-width="0.9" stroke-linejoin="round" />
<polygon points="1079.6,1043.7 1150.1,1083.3 1150.1,1161.7 1079.6,1122.5" fill="#58585a" stroke="#111" stroke-width="1.1" stroke-linejoin="round" />
<ellipse cx="1114.8" cy="1102.4" rx="44.9" ry="26.1" transform="rotate(60 1114.8 1102.4)" fill="#2c2c2e" stroke="#111" stroke-width="1"/>
<ellipse cx="1116.9" cy="1101.4" rx="39.2" ry="22.5" transform="rotate(60 1116.9 1101.4)" fill="#707074" stroke="#222" stroke-width="0.8"/>
<polygon points="1129.7,1117.2 1144.6,1132.1 1139.3,1143.7 1126.7,1143.1 1120.8,1122.8" fill="#4c4c4e" stroke="#1a1a1a" stroke-width="0.7" stroke-linejoin="round" />
<polygon points="1114.3,1120.3 1113.7,1138.3 1099.9,1129 1090.6,1111.9 1102.7,1107.1" fill="#4c4c4e" stroke="#1a1a1a" stroke-width="0.7" stroke-linejoin="round" />
<polygon points="1099.6,1098.7 1084.4,1094.9 1081.2,1077.6 1088,1067.5 1101.4,1085" fill="#4c4c4e" stroke="#1a1a1a" stroke-width="0.7" stroke-linejoin="round" />
<polygon points="1106,1082.1 1097.1,1061.9 1108.9,1060.4 1122.5,1071.4 1118.7,1086.9" fill="#4c4c4e" stroke="#1a1a1a" stroke-width="0.7" stroke-linejoin="round" />
<polygon points="1124.6,1093.6 1134.3,1084.8 1144.8,1101.3 1146.4,1118.1 1130.6,1110.2" fill="#4c4c4e" stroke="#1a1a1a" stroke-width="0.7" stroke-linejoin="round" />
<ellipse cx="1116.4" cy="1101.6" rx="20.9" ry="12" transform="rotate(60 1116.4 1101.6)" fill="#48484a" stroke="#111" stroke-width="0.9"/>
<polygon points="1129.2,1128.5 1147.5,1137.7 1148.3,1149.4 1126.6,1140.3" fill="#f0f0f0" stroke-linejoin="round" />
<ellipse cx="1084" cy="1048.9" rx="1.6" ry="1.6" fill="#222"/>
<ellipse cx="1146.2" cy="1084.1" rx="1.6" ry="1.6" fill="#222"/>
<ellipse cx="1146.2" cy="1154.6" rx="1.6" ry="1.6" fill="#222"/>
<ellipse cx="1084" cy="1118.1" rx="1.6" ry="1.6" fill="#222"/>
<polygon points="1150.1,965.8 1177.5,951.7 1344.6,1047.6 1321.1,1064" fill="#2b31d2" stroke="#0a0a40" stroke-width="0.9" stroke-linejoin="round" />
<path d="M1141.7 961.4 L1325 1065.1 L1325 1208.7 L1141.7 1105Z M1168.6 1015.2 A48.6 27.9 60 1 0 1217.2 1099.3 A48.6 27.9 60 1 0 1168.6 1015.2 Z M1248.5 1060.9 A48.6 27.9 60 1 0 1297.1 1145 A48.6 27.9 60 1 0 1248.5 1060.9 Z" fill="#18188c" stroke="#0a0a40" stroke-width="1" stroke-linejoin="round" fill-rule="evenodd"/>
<ellipse cx="1162.6" cy="1005" rx="1.8" ry="1.8" fill="#05052a"/>
<ellipse cx="1223.2" cy="1039.7" rx="1.8" ry="1.8" fill="#05052a"/>
<ellipse cx="1242" cy="1050.2" rx="1.8" ry="1.8" fill="#05052a"/>
<ellipse cx="1302" cy="1085.4" rx="1.8" ry="1.8" fill="#05052a"/>
<ellipse cx="1302" cy="1154.6" rx="1.8" ry="1.8" fill="#05052a"/>
<ellipse cx="1321.1" cy="1069.8" rx="1.8" ry="1.8" fill="#05052a"/>
<ellipse cx="1321.1" cy="1196.4" rx="1.8" ry="1.8" fill="#05052a"/>
<ellipse cx="1144.9" cy="966.6" rx="1.8" ry="1.8" fill="#05052a"/>
<polygon points="1178.8,1078.4 1249.8,1118.9 1249.8,1197.2 1178.8,1158" fill="#48484a" stroke="#111" stroke-width="1" stroke-linejoin="round" />
<polygon points="1159.2,1090.1 1178.8,1078.4 1249.8,1118.9 1229.7,1129.8" fill="#6a6a6c" stroke="#111" stroke-width="0.9" stroke-linejoin="round" />
<polygon points="1229.7,1129.8 1249.8,1118.9 1249.8,1197.2 1229.7,1208.1" fill="#3c3c3e" stroke="#111" stroke-width="0.9" stroke-linejoin="round" />
<polygon points="1159.2,1090.1 1229.7,1129.8 1229.7,1208.1 1159.2,1169" fill="#58585a" stroke="#111" stroke-width="1.1" stroke-linejoin="round" />
<ellipse cx="1194.5" cy="1148.9" rx="44.9" ry="26.1" transform="rotate(60 1194.5 1148.9)" fill="#2c2c2e" stroke="#111" stroke-width="1"/>
<ellipse cx="1196.6" cy="1147.8" rx="39.2" ry="22.5" transform="rotate(60 1196.6 1147.8)" fill="#707074" stroke="#222" stroke-width="0.8"/>
<polygon points="1209.4,1163.7 1224.2,1178.6 1218.9,1190.2 1206.3,1189.6 1200.4,1169.2" fill="#4c4c4e" stroke="#1a1a1a" stroke-width="0.7" stroke-linejoin="round" />
<polygon points="1193.9,1166.8 1193.4,1184.8 1179.6,1175.5 1170.2,1158.4 1182.3,1153.6" fill="#4c4c4e" stroke="#1a1a1a" stroke-width="0.7" stroke-linejoin="round" />
<polygon points="1179.2,1145.1 1164,1141.4 1160.8,1124 1167.6,1114 1181,1131.4" fill="#4c4c4e" stroke="#1a1a1a" stroke-width="0.7" stroke-linejoin="round" />
<polygon points="1185.6,1128.6 1176.7,1108.4 1188.6,1106.9 1202.1,1117.8 1198.3,1133.4" fill="#4c4c4e" stroke="#1a1a1a" stroke-width="0.7" stroke-linejoin="round" />
<polygon points="1204.2,1140.1 1214,1131.3 1224.4,1147.8 1226.1,1164.6 1210.3,1156.7" fill="#4c4c4e" stroke="#1a1a1a" stroke-width="0.7" stroke-linejoin="round" />
<ellipse cx="1196" cy="1148.1" rx="20.9" ry="12" transform="rotate(60 1196 1148.1)" fill="#48484a" stroke="#111" stroke-width="0.9"/>
<polygon points="1208.8,1175 1227.1,1184.1 1227.9,1195.9 1206.2,1186.7" fill="#f0f0f0" stroke-linejoin="round" />
<ellipse cx="1163.7" cy="1095.4" rx="1.6" ry="1.6" fill="#222"/>
<ellipse cx="1225.8" cy="1130.6" rx="1.6" ry="1.6" fill="#222"/>
<ellipse cx="1225.8" cy="1201.1" rx="1.6" ry="1.6" fill="#222"/>
<ellipse cx="1163.7" cy="1164.5" rx="1.6" ry="1.6" fill="#222"/>
<ellipse cx="878.5" cy="1280.5" rx="12.8" ry="6.4" fill="#6a6a6c" stroke="#222" stroke-width="0.9"/>
<ellipse cx="878.5" cy="1277.6" rx="11.8" ry="5.4" fill="#9a9a9c" stroke="#222" stroke-width="0.9"/>
<ellipse cx="1192.7" cy="1300.2" rx="12.8" ry="6.4" fill="#6a6a6c" stroke="#222" stroke-width="0.9"/>
<ellipse cx="1192.7" cy="1297.2" rx="11.8" ry="5.4" fill="#9a9a9c" stroke="#222" stroke-width="0.9"/>
<polygon points="861.4,1251.8 1052.8,1153.6 1245.5,1262.8 1244.7,1269.5 1057.7,1377 858.9,1262.1" fill="#acaba7" stroke="#222" stroke-width="1" stroke-linejoin="round" />
<polygon points="1057.2,1370.1 1241.8,1262.1 1246.2,1264.6 1057.7,1377" fill="#555558" stroke="#111" stroke-width="0.9" stroke-linejoin="round" />
<polygon points="856.9,1252.3 1057.2,1370.1 1057.7,1377 856.9,1261.1" fill="#4a4a4c" stroke="#111" stroke-width="0.9" stroke-linejoin="round" />
<polyline points="1068.7,1173.3 1098.2,1190.4" fill="none" stroke="#333" stroke-width="1.6" stroke-linejoin="round" stroke-linecap="round" />
<polyline points="1175.5,1234.6 1205,1251.8" fill="none" stroke="#333" stroke-width="1.6" stroke-linejoin="round" stroke-linecap="round" />
<polyline points="1146.1,1315.6 1158.3,1308.3" fill="none" stroke="#333" stroke-width="1.2" stroke-linejoin="round" stroke-linecap="round" />
<polygon points="1225.8,1249.3 1233.2,1251.8 1233.9,1262.8 1226.6,1259.2" fill="#555" stroke="#111" stroke-width="0.8" stroke-linejoin="round" />
<ellipse cx="903.1" cy="1251.1" rx="2.2" ry="1.5" fill="#eee" stroke="#222" stroke-width="0.7"/>
<ellipse cx="1068.7" cy="1336.5" rx="2.2" ry="1.5" fill="#eee" stroke="#222" stroke-width="0.7"/>
<ellipse cx="1217.2" cy="1267.8" rx="2.2" ry="1.5" fill="#eee" stroke="#222" stroke-width="0.7"/>
<ellipse cx="1190.2" cy="1277.6" rx="4.9" ry="3.4" fill="#666" stroke="#111" stroke-width="0.8"/>
<ellipse cx="883.4" cy="1260.4" rx="4.4" ry="2.9" fill="#666" stroke="#111" stroke-width="0.8"/>
<polygon points="856.4,1114.9 864.3,1109.9 879,1106.5 884.7,1122.2 879.8,1125.4 879.8,1144.3 872.4,1161 866.8,1163.9 866.8,1262.8 856.4,1257.9" fill="#5e5e61" stroke="#111" stroke-width="1" stroke-linejoin="round" />
<polygon points="856.4,1114.9 864.3,1109.9 864.3,1124.2 858.9,1153.6 858.9,1256.7 856.4,1257.9" fill="#7a7a7d" stroke="#222" stroke-width="0.7" stroke-linejoin="round" />
<defs><linearGradient id="lg19" gradientUnits="userSpaceOnUse" x1="959.5" y1="1141.4" x2="1057.7" y2="1276.3"><stop offset="0" stop-color="#b9b9bc"/><stop offset="0.35" stop-color="#98989c"/><stop offset="0.7" stop-color="#7a7a7e"/><stop offset="1" stop-color="#58585c"/></linearGradient></defs>
<path d="M971.8 1217.4 C988.4 1210.9 1057.8 1208.9 1074.9 1212.5 C1092 1216.2 1075.6 1231.8 1074.4 1239.5 C1073.2 1247.3 1072.3 1252.8 1067.5 1259.2 C1062.7 1265.5 1055.2 1273.3 1045.4 1277.6 C1035.6 1281.9 1019.3 1285.1 1008.6 1284.9 C998 1284.7 987.1 1281.9 981.6 1276.3 C976.1 1270.8 977.1 1261.6 975.5 1251.8 C973.8 1242 955.2 1224 971.8 1217.4Z" fill="#66666a" stroke="#111" stroke-width="1" stroke-linejoin="round" />
<polygon points="1020.9,1301.4 1070,1273.9 1092.6,1284.2 1041.7,1313.2" fill="#c6c6c2" stroke="#222" stroke-width="0.9" stroke-linejoin="round" />
<polygon points="922.2,1246.9 947.3,1234.6 957.1,1242 932.5,1254.7" fill="#c6c6c2" stroke="#222" stroke-width="0.9" stroke-linejoin="round" />
<ellipse cx="1035.6" cy="1302.1" rx="7.4" ry="4.9" fill="#222" stroke="#000" stroke-width="0.8"/>
<ellipse cx="1035.6" cy="1301.4" rx="3.4" ry="2.2" fill="#666" stroke="#000" stroke-width="0.6"/>
<ellipse cx="1075.4" cy="1277.6" rx="7.4" ry="4.9" fill="#222" stroke="#000" stroke-width="0.8"/>
<ellipse cx="1075.4" cy="1276.8" rx="3.4" ry="2.2" fill="#666" stroke="#000" stroke-width="0.6"/>
<ellipse cx="934.5" cy="1244.9" rx="7.4" ry="4.9" fill="#222" stroke="#000" stroke-width="0.8"/>
<ellipse cx="934.5" cy="1244.2" rx="3.4" ry="2.2" fill="#666" stroke="#000" stroke-width="0.6"/>
<polyline points="981.6,1281.3 985.3,1287.4" fill="none" stroke="#222" stroke-width="1.6" stroke-linejoin="round" stroke-linecap="round" />
<polyline points="986.5,1283.7 990.2,1289.8" fill="none" stroke="#222" stroke-width="1.6" stroke-linejoin="round" stroke-linecap="round" />
<polyline points="991.4,1286.2 995.1,1292.3" fill="none" stroke="#222" stroke-width="1.6" stroke-linejoin="round" stroke-linecap="round" />
<polyline points="996.3,1288.6 1000,1294.8" fill="none" stroke="#222" stroke-width="1.6" stroke-linejoin="round" stroke-linecap="round" />
<polyline points="1001.3,1291.1 1004.9,1297.2" fill="none" stroke="#222" stroke-width="1.6" stroke-linejoin="round" stroke-linecap="round" />
<polyline points="1006.2,1293.5 1009.8,1299.7" fill="none" stroke="#222" stroke-width="1.6" stroke-linejoin="round" stroke-linecap="round" />
<polyline points="1011.1,1296 1014.8,1302.1" fill="none" stroke="#222" stroke-width="1.6" stroke-linejoin="round" stroke-linecap="round" />
<polyline points="1016,1298.4 1019.7,1304.6" fill="none" stroke="#222" stroke-width="1.6" stroke-linejoin="round" stroke-linecap="round" />
<polyline points="1020.9,1300.9 1024.6,1307" fill="none" stroke="#222" stroke-width="1.6" stroke-linejoin="round" stroke-linecap="round" />
<polygon points="915.4,1178.2 937.4,1170.8 939.9,1217.4 927.6,1232.2 912.9,1227.3 910.4,1207.6" fill="#88888c" stroke="#111" stroke-width="0.9" stroke-linejoin="round" />
<polyline points="903.1,1185.5 915.4,1207.6 937.4,1207.6" fill="none" stroke="#111" stroke-width="4.6" stroke-linejoin="round" stroke-linecap="round" />
<polyline points="903.1,1185.5 915.4,1207.6 937.4,1207.6" fill="none" stroke="#9a9a9e" stroke-width="3" stroke-linejoin="round" stroke-linecap="round" />
<polygon points="910.4,1218.7 922.7,1221.1 926.4,1229.7 915.4,1230.2" fill="#77777a" stroke="#111" stroke-width="0.8" stroke-linejoin="round" />
<polygon points="963.9,1125.4 1001.7,1125.4 1001.7,1138.9 963.9,1138.9" fill="#bdbdc0" stroke-linejoin="round" />
<ellipse cx="982.8" cy="1138.9" rx="18.9" ry="9.8" fill="#bdbdc0" stroke="#222" stroke-width="0.8"/>
<ellipse cx="982.8" cy="1124.7" rx="18.9" ry="10.3" fill="#c9c9cc" stroke="#222" stroke-width="0.9"/>
<path d="M937.4 1178.2 C937.4 1167.9 945.6 1157.9 952.2 1151.2 C958.7 1144.4 967.3 1140.3 976.7 1137.7 C986.1 1135 998.8 1133.6 1008.6 1135.2 C1018.4 1136.9 1026.6 1140.9 1035.6 1147.5 C1044.6 1154 1055.7 1165.3 1062.6 1174.5 C1069.5 1183.7 1074.7 1194.9 1076.8 1202.7 C1079 1210.5 1080.6 1215.4 1075.4 1221.1 C1070.1 1226.8 1056.6 1234 1045.4 1237.1 C1034.3 1240.1 1020.1 1240.3 1008.6 1239.5 C997.2 1238.7 986.1 1236.7 976.7 1232.2 C967.3 1227.7 958.7 1221.5 952.2 1212.5 C945.6 1203.5 937.4 1188.4 937.4 1178.2Z" fill="url(#lg19)" stroke="#111" stroke-width="1.1" stroke-linejoin="round" />
<path d="M973 1227.3 C979 1228.9 996.5 1235.8 1008.6 1237.1 C1020.7 1238.3 1034.5 1237.5 1045.4 1234.6 C1056.4 1231.8 1069.6 1222.3 1074.4 1219.9" fill="none" stroke="#222" stroke-width="0.9" stroke-linejoin="round" />
<ellipse cx="1050.8" cy="1197.8" rx="9.8" ry="8.3" fill="#8a8a8e" stroke="#222" stroke-width="0.9"/>
<ellipse cx="1050.8" cy="1202.7" rx="5.4" ry="3.9" fill="#b5b5b8" stroke="#222" stroke-width="0.7"/>
<polygon points="1041.7,1145 1055.2,1147.5 1056.5,1158.5 1045.4,1157.3" fill="#333" stroke="#111" stroke-width="0.8" stroke-linejoin="round" />
<path d="M1007.4 1281.3 C1008.2 1278.4 1010 1275.1 1013.5 1273.9 C1017 1272.7 1025 1272.3 1028.3 1273.9 C1031.5 1275.5 1032.8 1280.4 1033.2 1283.7 C1033.6 1287 1033.6 1291.5 1030.7 1293.5 C1027.8 1295.6 1019.7 1296.4 1016 1296 C1012.3 1295.6 1010 1293.5 1008.6 1291.1 C1007.2 1288.6 1006.6 1284.1 1007.4 1281.3Z" fill="#8a8a8e" stroke="#111" stroke-width="0.9" stroke-linejoin="round" />
<polyline points="1016,1266.5 1019.7,1276.3 1028.3,1269" fill="none" stroke="#111" stroke-width="4.2" stroke-linejoin="round" stroke-linecap="round" />
<polyline points="1016,1266.5 1019.7,1276.3 1028.3,1269" fill="none" stroke="#c9c9cc" stroke-width="2.6" stroke-linejoin="round" stroke-linecap="round" />
<polyline points="1034.4,1249.3 1041.7,1260.4" fill="none" stroke="#111" stroke-width="4.2" stroke-linejoin="round" stroke-linecap="round" />
<polyline points="1034.4,1249.3 1041.7,1260.4" fill="none" stroke="#c9c9cc" stroke-width="2.6" stroke-linejoin="round" stroke-linecap="round" />
<polygon points="864.3,1109.9 879,1106.5 1064.6,1220.4 1054,1225.3 957.1,1165.9 947.3,1161 883.4,1123.7 879.8,1125.4" fill="#aaaaa6" stroke="#111" stroke-width="1" stroke-linejoin="round" />
<ellipse cx="871.7" cy="1117.3" rx="1.5" ry="1.5" fill="#222"/>
<ellipse cx="965.7" cy="1165.9" rx="1.5" ry="1.5" fill="#222"/>
<polygon points="938.7,1161.5 957.1,1166.4 987,1188.5 983.3,1217.4 974.7,1237.6 974.7,1322.5 938.7,1302.1" fill="#555558" stroke="#111" stroke-width="1" stroke-linejoin="round" />
<polygon points="950.9,1168.4 962,1174.5 962.5,1202.7 957.1,1207.6 950.2,1197.8" fill="#88888b" stroke="#111" stroke-width="0.8" stroke-linejoin="round" />
<polygon points="952.2,1169.6 960.8,1174.5 960.8,1185.5 952.2,1189.2" fill="#cfcfd0" stroke="#222" stroke-width="0.6" stroke-linejoin="round" />
<polygon points="1045.4,1224.8 1054.5,1221.1 1064.6,1225.3 1065.6,1369.6 1057.7,1376.2 1045.4,1362.2" fill="#5a5a5d" stroke="#111" stroke-width="1" stroke-linejoin="round" />
<polygon points="1057.2,1229.7 1064.6,1226 1065.6,1369.6 1057.7,1376.2" fill="#7c7c80" stroke="#111" stroke-width="0.8" stroke-linejoin="round" />
<polygon points="1045.4,1224.8 1054.5,1221.1 1064.6,1225.3 1057.2,1229.7" fill="#b0b0ad" stroke="#111" stroke-width="0.8" stroke-linejoin="round" />
<ellipse cx="1049.8" cy="1358.6" rx="1.7" ry="1.7" fill="#222"/>
<ellipse cx="863.3" cy="1251.8" rx="1.7" ry="1.7" fill="#ccc" stroke="#111" stroke-width="0.6"/>
<path d="M730.9 1351.5L711.1 1363.4 Q702.5 1368.5 710.9 1374L740.3 1393.3 Q747.9 1398.3 757 1398.3L757 1398.3 Q766.1 1398.3 774 1393.9L789.1 1385.5Z" fill="#d2ce2a" stroke="#222" stroke-width="0.9" stroke-linejoin="round" />
<ellipse cx="743.8" cy="1375" rx="13.6" ry="7.8" fill="#fff" stroke="#222" stroke-width="0.9"/>
<path d="M836.4 1412.1L817.8 1423.2 Q809.2 1428.4 817.5 1434L845.8 1453.4 Q853.8 1458.9 863.5 1458.9L863.5 1458.9 Q873.2 1458.9 881.5 1453.9L896.5 1444.8Z" fill="#d2ce2a" stroke="#222" stroke-width="0.9" stroke-linejoin="round" />
<ellipse cx="850.2" cy="1436.4" rx="13.6" ry="7.8" fill="#fff" stroke="#222" stroke-width="0.9"/>
<path d="M710.3 1313.9L916.4 1427.9L917.5 1449.2 Q917.8 1454.5 913.7 1457.9L913.7 1457.9 Q909.6 1461.3 904.6 1459.4L901.9 1458.4 Q898.2 1457 897.6 1453L896.5 1444.8L836.4 1412.1L793.1 1392.8 Q790.3 1391.5 789.7 1388.5L789.1 1385.5L730.9 1351.5L720.6 1351.5 Q710.3 1351.5 710.3 1341.2Z" fill="#75751a" stroke="#111" stroke-width="1" stroke-linejoin="round" />
<polygon points="705.5,1220.6 916.4,1337 916.4,1427.9 710.3,1313.9 705.5,1309.1" fill="#6e6e14" stroke="#111" stroke-width="1" stroke-linejoin="round" />
<polyline points="706.4,1222.3 802.4,1275.2 803.6,1280 817,1287.3 817.5,1282.4 915.2,1336.2" fill="none" stroke="#c0bc30" stroke-width="1.4" stroke-linejoin="round" stroke-linecap="round" />
<polygon points="916.4,1337 918.3,1338.7 918.8,1454.1 916.4,1455" fill="#9a981e" stroke="#222" stroke-width="0.6" stroke-linejoin="round" />
<polyline points="733.3,1223 734.1,1236.4" fill="none" stroke="#222" stroke-width="1.2" stroke-linejoin="round" stroke-linecap="round" />
<ellipse cx="719.5" cy="1333.8" rx="1.7" ry="1.7" fill="#fff" stroke="#222" stroke-width="0.7"/>
<ellipse cx="906.7" cy="1441.2" rx="1.7" ry="1.7" fill="#fff" stroke="#222" stroke-width="0.7"/>
<polygon points="617.7,1324.8 621.8,1324.8 622.1,1337 617.7,1337" fill="#8a1818" stroke="#3a0505" stroke-width="0.7" stroke-linejoin="round" />
<polygon points="612.8,1339.4 627.4,1339.4 627.9,1350.3 620.1,1353.2 612.4,1350.3" fill="#b42424" stroke="#3a0505" stroke-width="0.8" stroke-linejoin="round" />
<ellipse cx="620.1" cy="1339.4" rx="7.5" ry="2.9" fill="#c83a3a" stroke="#3a0505" stroke-width="0.7"/>
<path d="M618.2 1370.9 L718.8 1429.8 C717.2 1430.9 715.4 1433.7 709.1 1436.4 C702.8 1439.1 689.9 1444 681.2 1446.1 C672.5 1448.1 665.9 1449.4 657 1448.5 C648.1 1447.6 637.6 1444.4 627.9 1440.5 C618.2 1436.5 606.1 1429.9 598.8 1424.7 C591.5 1419.6 586.9 1413.4 584.2 1409.7 C581.6 1406 581.9 1405.5 583 1402.4 C584.2 1399.4 585.2 1396.8 591 1391.5 C596.9 1386.3 613.7 1374.3 618.2 1370.9Z" fill="#707074" stroke="#111" stroke-width="1" stroke-linejoin="round" />
<path d="M618.2 1366.1 L718.8 1424.2 C717.1 1425.3 714.6 1428 708.4 1430.8 C702.1 1433.5 689.8 1438.7 681.2 1440.7 C672.6 1442.8 665.7 1444 657 1443.2 C648.3 1442.3 638.6 1439.7 629.1 1435.6 C619.6 1431.6 607.4 1424.2 600 1418.9 C592.6 1413.6 587.6 1407.3 585 1403.6 C582.3 1400 582.9 1399.6 584.2 1396.8 C585.5 1394.1 587.1 1392.3 592.7 1387.2 C598.4 1382 613.9 1369.6 618.2 1366.1Z" fill="#c8c8cb" stroke="#111" stroke-width="1" stroke-linejoin="round" />
<path d="M618.9 1370.9 L711.5 1424.2 C710.1 1425.1 708.1 1427.1 703 1429.1 C698 1431.1 688.9 1434.7 681.2 1436.4 C673.5 1438 665.4 1439.6 657 1438.8 C648.6 1438 639.7 1435.2 630.8 1431.5 C621.9 1427.8 610.5 1421.3 603.6 1416.5 C596.8 1411.6 592 1405.6 589.6 1402.4 C587.2 1399.3 588 1399.6 589.1 1397.6 C590.1 1395.6 590.9 1394.7 595.9 1390.3 C600.8 1385.9 615.1 1374.1 618.9 1370.9Z" fill="none" stroke="#55555a" stroke-width="0.7" stroke-linejoin="round" />
<polyline points="625,1381.3 607.9,1392.7" fill="none" stroke="#f0f0f1" stroke-width="4.6" stroke-linejoin="round" stroke-linecap="round" />
<polyline points="625,1381.3 607.9,1392.7" fill="none" stroke="#262628" stroke-width="3" stroke-linejoin="round" stroke-linecap="round" />
<polyline points="633.3,1386.3 606.2,1404.3" fill="none" stroke="#f0f0f1" stroke-width="4.6" stroke-linejoin="round" stroke-linecap="round" />
<polyline points="633.3,1386.3 606.2,1404.3" fill="none" stroke="#262628" stroke-width="3" stroke-linejoin="round" stroke-linecap="round" />
<polyline points="641.7,1391.2 609.5,1412.5" fill="none" stroke="#f0f0f1" stroke-width="4.6" stroke-linejoin="round" stroke-linecap="round" />
<polyline points="641.7,1391.2 609.5,1412.5" fill="none" stroke="#262628" stroke-width="3" stroke-linejoin="round" stroke-linecap="round" />
<polyline points="650.1,1396.1 614.6,1419.6" fill="none" stroke="#f0f0f1" stroke-width="4.6" stroke-linejoin="round" stroke-linecap="round" />
<polyline points="650.1,1396.1 614.6,1419.6" fill="none" stroke="#262628" stroke-width="3" stroke-linejoin="round" stroke-linecap="round" />
<polyline points="658.4,1401 621.2,1425.7" fill="none" stroke="#f0f0f1" stroke-width="4.6" stroke-linejoin="round" stroke-linecap="round" />
<polyline points="658.4,1401 621.2,1425.7" fill="none" stroke="#262628" stroke-width="3" stroke-linejoin="round" stroke-linecap="round" />
<polyline points="666.8,1405.9 629.2,1430.9" fill="none" stroke="#f0f0f1" stroke-width="4.6" stroke-linejoin="round" stroke-linecap="round" />
<polyline points="666.8,1405.9 629.2,1430.9" fill="none" stroke="#262628" stroke-width="3" stroke-linejoin="round" stroke-linecap="round" />
<polyline points="675.2,1410.9 638.9,1434.9" fill="none" stroke="#f0f0f1" stroke-width="4.6" stroke-linejoin="round" stroke-linecap="round" />
<polyline points="675.2,1410.9 638.9,1434.9" fill="none" stroke="#262628" stroke-width="3" stroke-linejoin="round" stroke-linecap="round" />
<polyline points="683.5,1415.8 650.1,1437.9" fill="none" stroke="#f0f0f1" stroke-width="4.6" stroke-linejoin="round" stroke-linecap="round" />
<polyline points="683.5,1415.8 650.1,1437.9" fill="none" stroke="#262628" stroke-width="3" stroke-linejoin="round" stroke-linecap="round" />
<polyline points="691.9,1420.7 663.3,1439.6" fill="none" stroke="#f0f0f1" stroke-width="4.6" stroke-linejoin="round" stroke-linecap="round" />
<polyline points="691.9,1420.7 663.3,1439.6" fill="none" stroke="#262628" stroke-width="3" stroke-linejoin="round" stroke-linecap="round" />
<polyline points="700.2,1425.6 679.3,1439.5" fill="none" stroke="#f0f0f1" stroke-width="4.6" stroke-linejoin="round" stroke-linecap="round" />
<polyline points="700.2,1425.6 679.3,1439.5" fill="none" stroke="#262628" stroke-width="3" stroke-linejoin="round" stroke-linecap="round" />
<polyline points="708.6,1430.5 698.5,1437.2" fill="none" stroke="#f0f0f1" stroke-width="4.6" stroke-linejoin="round" stroke-linecap="round" />
<polyline points="708.6,1430.5 698.5,1437.2" fill="none" stroke="#262628" stroke-width="3" stroke-linejoin="round" stroke-linecap="round" />
<path d="M741.8 1443.6 L842.4 1502.5 C840.8 1503.6 839 1506.4 832.7 1509.1 C826.5 1511.8 813.5 1516.8 804.8 1518.8 C796.2 1520.8 789.5 1522.1 780.6 1521.2 C771.7 1520.3 761.2 1517.2 751.5 1513.2 C741.8 1509.3 729.7 1502.6 722.4 1497.5 C715.2 1492.3 710.5 1486.1 707.9 1482.4 C705.3 1478.7 705.5 1478.2 706.7 1475.2 C707.8 1472.1 708.8 1469.5 714.7 1464.2 C720.5 1459 737.3 1447.1 741.8 1443.6Z" fill="#707074" stroke="#111" stroke-width="1" stroke-linejoin="round" />
<path d="M741.8 1438.8 L842.4 1497 C840.7 1498.1 838.3 1500.8 832 1503.5 C825.7 1506.3 813.4 1511.4 804.8 1513.5 C796.3 1515.5 789.3 1516.7 780.6 1515.9 C771.9 1515 762.2 1512.4 752.7 1508.4 C743.2 1504.3 731 1497 723.6 1491.6 C716.3 1486.3 711.2 1480 708.6 1476.4 C706 1472.7 706.6 1472.3 707.9 1469.6 C709.2 1466.8 710.7 1465 716.4 1459.9 C722 1454.7 737.6 1442.3 741.8 1438.8Z" fill="#c8c8cb" stroke="#111" stroke-width="1" stroke-linejoin="round" />
<path d="M742.5 1443.6 L835.2 1497 C833.7 1497.8 831.7 1499.8 826.7 1501.8 C821.6 1503.8 812.5 1507.5 804.8 1509.1 C797.2 1510.7 789 1512.3 780.6 1511.5 C772.2 1510.7 763.3 1508 754.4 1504.2 C745.5 1500.5 734.1 1494.1 727.3 1489.2 C720.4 1484.4 715.6 1478.3 713.2 1475.2 C710.8 1472 711.7 1472.3 712.7 1470.3 C713.8 1468.3 714.5 1467.5 719.5 1463 C724.5 1458.6 738.7 1446.9 742.5 1443.6Z" fill="none" stroke="#55555a" stroke-width="0.7" stroke-linejoin="round" />
<polyline points="748.6,1454.1 731.5,1465.4" fill="none" stroke="#f0f0f1" stroke-width="4.6" stroke-linejoin="round" stroke-linecap="round" />
<polyline points="748.6,1454.1 731.5,1465.4" fill="none" stroke="#262628" stroke-width="3" stroke-linejoin="round" stroke-linecap="round" />
<polyline points="757,1459 729.8,1477" fill="none" stroke="#f0f0f1" stroke-width="4.6" stroke-linejoin="round" stroke-linecap="round" />
<polyline points="757,1459 729.8,1477" fill="none" stroke="#262628" stroke-width="3" stroke-linejoin="round" stroke-linecap="round" />
<polyline points="765.3,1463.9 733.1,1485.2" fill="none" stroke="#f0f0f1" stroke-width="4.6" stroke-linejoin="round" stroke-linecap="round" />
<polyline points="765.3,1463.9 733.1,1485.2" fill="none" stroke="#262628" stroke-width="3" stroke-linejoin="round" stroke-linecap="round" />
<polyline points="773.7,1468.8 738.3,1492.3" fill="none" stroke="#f0f0f1" stroke-width="4.6" stroke-linejoin="round" stroke-linecap="round" />
<polyline points="773.7,1468.8 738.3,1492.3" fill="none" stroke="#262628" stroke-width="3" stroke-linejoin="round" stroke-linecap="round" />
<polyline points="782.1,1473.7 744.8,1498.4" fill="none" stroke="#f0f0f1" stroke-width="4.6" stroke-linejoin="round" stroke-linecap="round" />
<polyline points="782.1,1473.7 744.8,1498.4" fill="none" stroke="#262628" stroke-width="3" stroke-linejoin="round" stroke-linecap="round" />
<polyline points="790.4,1478.7 752.8,1503.6" fill="none" stroke="#f0f0f1" stroke-width="4.6" stroke-linejoin="round" stroke-linecap="round" />
<polyline points="790.4,1478.7 752.8,1503.6" fill="none" stroke="#262628" stroke-width="3" stroke-linejoin="round" stroke-linecap="round" />
<polyline points="798.8,1483.6 762.6,1507.6" fill="none" stroke="#f0f0f1" stroke-width="4.6" stroke-linejoin="round" stroke-linecap="round" />
<polyline points="798.8,1483.6 762.6,1507.6" fill="none" stroke="#262628" stroke-width="3" stroke-linejoin="round" stroke-linecap="round" />
<polyline points="807.2,1488.5 773.8,1510.6" fill="none" stroke="#f0f0f1" stroke-width="4.6" stroke-linejoin="round" stroke-linecap="round" />
<polyline points="807.2,1488.5 773.8,1510.6" fill="none" stroke="#262628" stroke-width="3" stroke-linejoin="round" stroke-linecap="round" />
<polyline points="815.5,1493.4 786.9,1512.4" fill="none" stroke="#f0f0f1" stroke-width="4.6" stroke-linejoin="round" stroke-linecap="round" />
<polyline points="815.5,1493.4 786.9,1512.4" fill="none" stroke="#262628" stroke-width="3" stroke-linejoin="round" stroke-linecap="round" />
<polyline points="823.9,1498.4 803,1512.2" fill="none" stroke="#f0f0f1" stroke-width="4.6" stroke-linejoin="round" stroke-linecap="round" />
<polyline points="823.9,1498.4 803,1512.2" fill="none" stroke="#262628" stroke-width="3" stroke-linejoin="round" stroke-linecap="round" />
<polyline points="832.2,1503.3 822.2,1509.9" fill="none" stroke="#f0f0f1" stroke-width="4.6" stroke-linejoin="round" stroke-linecap="round" />
<polyline points="832.2,1503.3 822.2,1509.9" fill="none" stroke="#262628" stroke-width="3" stroke-linejoin="round" stroke-linecap="round" />
<defs><linearGradient id="lg20" gradientUnits="userSpaceOnUse" x1="584.2" y1="1503" x2="717.6" y2="1551.5"><stop offset="0" stop-color="#66666a"/><stop offset="0.45" stop-color="#8e8e92"/><stop offset="1" stop-color="#5a5a5e"/></linearGradient></defs>
<path d="M617 1463 L718.8 1522.4 C718.9 1525.3 721.3 1534.5 719.3 1539.4 C717.3 1544.3 713 1548.8 706.7 1552 C700.3 1555.2 689.5 1557.5 681.2 1558.3 C672.9 1559.1 665.9 1558.7 657 1556.8 C648.1 1555 637.6 1552 627.9 1547.2 C618.2 1542.3 606.1 1533.7 598.8 1527.8 C591.5 1521.8 587 1516 584.2 1511.5 C581.5 1507 581.3 1505.1 582.3 1500.6 C583.3 1496.2 584.5 1491.1 590.3 1484.8 C596.1 1478.6 612.5 1466.7 617 1463Z" fill="url(#lg20)" stroke="#111" stroke-width="1" stroke-linejoin="round" />
<path d="M617 1463 L718.8 1522.4 C717.1 1523.7 714.6 1527.5 708.4 1530.2 C702.1 1532.9 689.8 1537.3 681.2 1538.7 C672.6 1540.1 665.5 1540.1 657 1538.7 C648.4 1537.3 639.2 1534.4 629.8 1530.2 C620.4 1525.9 608.2 1518.3 600.7 1513.2 C593.3 1508.2 587.7 1503 585 1499.9 C582.2 1496.8 583.2 1497.2 584.2 1494.5 C585.3 1491.9 585.6 1489.4 591 1484.1 C596.5 1478.9 612.6 1466.5 617 1463Z" fill="#b0b0b4" stroke="#111" stroke-width="0.9" stroke-linejoin="round" />
<path d="M618.9 1467.9 L713.2 1522.9 C711.6 1523.7 708.8 1525.8 703.5 1527.8 C698.2 1529.7 689 1533.4 681.2 1534.5 C673.5 1535.7 665.3 1535.9 657 1534.5 C648.7 1533.2 640.3 1530.5 631.5 1526.5 C622.7 1522.6 611.4 1515.4 604.4 1510.8 C597.3 1506.1 591.7 1501.4 589.1 1498.7 C586.5 1496 587.7 1496.6 588.6 1494.5 C589.5 1492.4 589.4 1490.5 594.4 1486.1 C599.5 1481.6 614.8 1470.9 618.9 1467.9Z" fill="#7a7a7e" stroke="#222" stroke-width="0.8" stroke-linejoin="round" />
<polygon points="618.9,1467.9 713.2,1522.9 703,1526.1 622.5,1482.4" fill="#8e8e92" stroke="#333" stroke-width="0.6" stroke-linejoin="round" />
<path d="M632.7 1498.7 L697 1531.6 C694.3 1532 687.9 1533.4 681.2 1533.6 C674.5 1533.7 665.1 1534.1 657 1532.6 C648.9 1531.1 640.2 1527.6 632.7 1524.4 C625.3 1521.1 616 1516.3 612.1 1513.2 C608.2 1510.1 608.2 1508.2 609.2 1505.9 C610.2 1503.6 614.3 1500.6 618.2 1499.4 C622.1 1498.2 630.3 1498.8 632.7 1498.7Z" fill="#dddde0" stroke="#444" stroke-width="0.7" stroke-linejoin="round" />
<defs><linearGradient id="lg21" gradientUnits="userSpaceOnUse" x1="1252.7" y1="1330.9" x2="1427.3" y2="1374.5"><stop offset="0" stop-color="#98961c"/><stop offset="0.4" stop-color="#8a8816"/><stop offset="1" stop-color="#7e7c12"/></linearGradient></defs>
<path d="M1239.3 1470.8 Q1240.7 1469.5 1240.7 1467.5L1241.2 1364.4 Q1241.4 1324.4 1276 1304.3L1418.5 1221.8L1418.5 1216.8 Q1418.5 1214.8 1420.5 1214.5L1421.4 1214.3 Q1423.3 1214 1425.1 1215L1430.6 1218.1 Q1433.2 1219.6 1433.2 1222.6L1433.2 1363.1 Q1433.2 1369.1 1427.9 1372.1L1249.2 1473.7 Q1244 1476.7 1239.1 1480.1L1235.8 1482.4 Q1233.5 1484.1 1232 1481.7L1232 1481.7 Q1230.5 1479.3 1232.5 1477.3Z" fill="url(#lg21)" stroke="#111" stroke-width="1.1" stroke-linejoin="round" />
<polyline points="1252.7,1321.7 1418.1,1220.9" fill="none" stroke="#c8c432" stroke-width="1.5" stroke-linejoin="round" stroke-linecap="round" />
<polygon points="1418.5,1221.8 1418.5,1214.8 1423.3,1214 1423.3,1219.2" fill="#a6a420" stroke="#222" stroke-width="0.7" stroke-linejoin="round" />
<path d="M1233.5 1483.6 C1232.1 1483.2 1230.4 1480.7 1230.9 1479.3 C1231.4 1477.9 1234.5 1476.8 1236.4 1475.3 C1238.2 1473.9 1240.5 1470.5 1241.8 1470.5 C1243.2 1470.5 1244.8 1473.5 1244.4 1475.3 C1244.1 1477.2 1241.5 1480.5 1239.6 1481.9 C1237.8 1483.3 1235 1484.1 1233.5 1483.6Z" fill="#d4d02c" stroke="#222" stroke-width="0.8" stroke-linejoin="round" />
<polyline points="1267.6,1338.6 1405,1259.6" fill="none" stroke="#c6c228" stroke-width="2.4" stroke-linejoin="round" stroke-linecap="round" />
<polyline points="1267.6,1337 1405,1258" fill="none" stroke="#2e2e06" stroke-width="1.7" stroke-linejoin="round" stroke-linecap="round" />
<polyline points="1267.6,1345.6 1405,1266.7" fill="none" stroke="#c6c228" stroke-width="2.4" stroke-linejoin="round" stroke-linecap="round" />
<polyline points="1267.6,1344 1405,1265.1" fill="none" stroke="#2e2e06" stroke-width="1.7" stroke-linejoin="round" stroke-linecap="round" />
<polyline points="1267.6,1352.7 1405,1273.7" fill="none" stroke="#c6c228" stroke-width="2.4" stroke-linejoin="round" stroke-linecap="round" />
<polyline points="1267.6,1351.1 1405,1272.1" fill="none" stroke="#2e2e06" stroke-width="1.7" stroke-linejoin="round" stroke-linecap="round" />
<polyline points="1267.6,1359.7 1405,1280.7" fill="none" stroke="#c6c228" stroke-width="2.4" stroke-linejoin="round" stroke-linecap="round" />
<polyline points="1267.6,1358.1 1405,1279.1" fill="none" stroke="#2e2e06" stroke-width="1.7" stroke-linejoin="round" stroke-linecap="round" />
<polyline points="1267.6,1366.7 1405,1287.7" fill="none" stroke="#c6c228" stroke-width="2.4" stroke-linejoin="round" stroke-linecap="round" />
<polyline points="1267.6,1365.1 1405,1286.1" fill="none" stroke="#2e2e06" stroke-width="1.7" stroke-linejoin="round" stroke-linecap="round" />
<polyline points="1267.6,1373.7 1405,1294.8" fill="none" stroke="#c6c228" stroke-width="2.4" stroke-linejoin="round" stroke-linecap="round" />
<polyline points="1267.6,1372.1 1405,1293.2" fill="none" stroke="#2e2e06" stroke-width="1.7" stroke-linejoin="round" stroke-linecap="round" />
<polyline points="1267.6,1380.8 1405,1301.8" fill="none" stroke="#c6c228" stroke-width="2.4" stroke-linejoin="round" stroke-linecap="round" />
<polyline points="1267.6,1379.2 1405,1300.2" fill="none" stroke="#2e2e06" stroke-width="1.7" stroke-linejoin="round" stroke-linecap="round" />
<polyline points="1267.6,1387.8 1405,1308.8" fill="none" stroke="#c6c228" stroke-width="2.4" stroke-linejoin="round" stroke-linecap="round" />
<polyline points="1267.6,1386.2 1405,1307.2" fill="none" stroke="#2e2e06" stroke-width="1.7" stroke-linejoin="round" stroke-linecap="round" />
<polyline points="1267.6,1394.8 1405,1315.8" fill="none" stroke="#c6c228" stroke-width="2.4" stroke-linejoin="round" stroke-linecap="round" />
<polyline points="1267.6,1393.2 1405,1314.2" fill="none" stroke="#2e2e06" stroke-width="1.7" stroke-linejoin="round" stroke-linecap="round" />
<polyline points="1267.6,1401.8 1405,1322.9" fill="none" stroke="#c6c228" stroke-width="2.4" stroke-linejoin="round" stroke-linecap="round" />
<polyline points="1267.6,1400.2 1405,1321.3" fill="none" stroke="#2e2e06" stroke-width="1.7" stroke-linejoin="round" stroke-linecap="round" />
<polyline points="1267.6,1408.9 1405,1329.9" fill="none" stroke="#c6c228" stroke-width="2.4" stroke-linejoin="round" stroke-linecap="round" />
<polyline points="1267.6,1407.3 1405,1328.3" fill="none" stroke="#2e2e06" stroke-width="1.7" stroke-linejoin="round" stroke-linecap="round" />
<polyline points="1267.6,1415.9 1405,1336.9" fill="none" stroke="#c6c228" stroke-width="2.4" stroke-linejoin="round" stroke-linecap="round" />
<polyline points="1267.6,1414.3 1405,1335.3" fill="none" stroke="#2e2e06" stroke-width="1.7" stroke-linejoin="round" stroke-linecap="round" />
<polyline points="1267.6,1422.9 1405,1343.9" fill="none" stroke="#c6c228" stroke-width="2.4" stroke-linejoin="round" stroke-linecap="round" />
<polyline points="1267.6,1421.3 1405,1342.3" fill="none" stroke="#2e2e06" stroke-width="1.7" stroke-linejoin="round" stroke-linecap="round" />
<polyline points="1267.6,1429.9 1405,1351" fill="none" stroke="#c6c228" stroke-width="2.4" stroke-linejoin="round" stroke-linecap="round" />
<polyline points="1267.6,1428.3 1405,1349.4" fill="none" stroke="#2e2e06" stroke-width="1.7" stroke-linejoin="round" stroke-linecap="round" />
<polyline points="1267.6,1437 1405,1358" fill="none" stroke="#c6c228" stroke-width="2.4" stroke-linejoin="round" stroke-linecap="round" />
<polyline points="1267.6,1435.4 1405,1356.4" fill="none" stroke="#2e2e06" stroke-width="1.7" stroke-linejoin="round" stroke-linecap="round" />
<polyline points="1267.6,1444 1405,1365" fill="none" stroke="#c6c228" stroke-width="2.4" stroke-linejoin="round" stroke-linecap="round" />
<polyline points="1267.6,1442.4 1405,1363.4" fill="none" stroke="#2e2e06" stroke-width="1.7" stroke-linejoin="round" stroke-linecap="round" />
<polyline points="1267.6,1451 1405,1372" fill="none" stroke="#c6c228" stroke-width="2.4" stroke-linejoin="round" stroke-linecap="round" />
<polyline points="1267.6,1449.4 1405,1370.4" fill="none" stroke="#2e2e06" stroke-width="1.7" stroke-linejoin="round" stroke-linecap="round" />
<polygon points="1256,1317.8 1258.6,1314.8 1263.6,1312.1 1262.5,1316.1" fill="#9a981c" stroke="#222" stroke-width="0.6" stroke-linejoin="round" />
<polygon points="1318.2,1281.8 1320.8,1278.8 1325.8,1276.1 1324.7,1280.1" fill="#9a981c" stroke="#222" stroke-width="0.6" stroke-linejoin="round" />
<polygon points="1381.5,1245.4 1384.1,1242.3 1389.1,1239.7 1388,1243.6" fill="#9a981c" stroke="#222" stroke-width="0.6" stroke-linejoin="round" />
<polygon points="1141.5,1374.5 1157.2,1365.4 1172.4,1372.8 1156.3,1382.2" fill="#98989b" stroke="#111" stroke-width="0.9" stroke-linejoin="round" />
<polygon points="1141.5,1374.5 1156.3,1382.2 1156.3,1401.8 1141.5,1394.6" fill="#6e6e72" stroke="#111" stroke-width="0.9" stroke-linejoin="round" />
<polygon points="1156.3,1382.2 1172.4,1372.8 1172.4,1392 1156.3,1401.8" fill="#58585c" stroke="#111" stroke-width="0.9" stroke-linejoin="round" />
<ellipse cx="1157.2" cy="1373.5" rx="6.1" ry="3.3" fill="#7c7c80" stroke="#222" stroke-width="0.7"/>
<ellipse cx="1157.2" cy="1373.5" rx="3.3" ry="1.7" fill="#a9a9ac" stroke="#222" stroke-width="0.6"/>
<polygon points="1157.8,1385 1173.5,1375.9 1188.8,1383.3 1172.7,1392.7" fill="#98989b" stroke="#111" stroke-width="0.9" stroke-linejoin="round" />
<polygon points="1157.8,1385 1172.7,1392.7 1172.7,1412.3 1157.8,1405.1" fill="#6e6e72" stroke="#111" stroke-width="0.9" stroke-linejoin="round" />
<polygon points="1172.7,1392.7 1188.8,1383.3 1188.8,1402.5 1172.7,1412.3" fill="#58585c" stroke="#111" stroke-width="0.9" stroke-linejoin="round" />
<ellipse cx="1173.5" cy="1383.9" rx="6.1" ry="3.3" fill="#7c7c80" stroke="#222" stroke-width="0.7"/>
<ellipse cx="1173.5" cy="1383.9" rx="3.3" ry="1.7" fill="#a9a9ac" stroke="#222" stroke-width="0.6"/>
<path d="M1175.3 1443.3 L1202.5 1430.2" fill="none" stroke="#4a1a08" stroke-width="4" stroke-linejoin="round" stroke-linecap="round"/>
<path d="M1175.3 1443.3 L1202.5 1430.2" fill="none" stroke="#b45a34" stroke-width="2.6" stroke-linejoin="round" stroke-linecap="round"/>
<path d="M1187.3 1458.5 L1219.6 1440" fill="none" stroke="#4a1a08" stroke-width="4" stroke-linejoin="round" stroke-linecap="round"/>
<path d="M1187.3 1458.5 L1219.6 1440" fill="none" stroke="#b45a34" stroke-width="2.6" stroke-linejoin="round" stroke-linecap="round"/>
<path d="M1165.5 1478.2 C1165.6 1479.3 1165.8 1487.7 1166.5 1489.1 C1167.3 1490.5 1171.8 1492 1173.1 1491.9 C1174.4 1491.8 1176.2 1490.1 1179.6 1488 C1183.1 1485.9 1204.6 1472.3 1207.3 1470.5" fill="none" stroke="#4a1a08" stroke-width="4" stroke-linejoin="round" stroke-linecap="round"/>
<path d="M1165.5 1478.2 C1165.6 1479.3 1165.8 1487.7 1166.5 1489.1 C1167.3 1490.5 1171.8 1492 1173.1 1491.9 C1174.4 1491.8 1176.2 1490.1 1179.6 1488 C1183.1 1485.9 1204.6 1472.3 1207.3 1470.5" fill="none" stroke="#b45a34" stroke-width="2.6" stroke-linejoin="round" stroke-linecap="round"/>
<polygon points="1150.6,1428 1157.2,1428 1157.8,1450.9 1150.2,1450.9" fill="#b8962c" stroke="#3a2a05" stroke-width="0.9" stroke-linejoin="round" />
<polygon points="1167.6,1436.7 1173.7,1436.7 1174.2,1459.6 1167.2,1459.6" fill="#b8962c" stroke="#3a2a05" stroke-width="0.9" stroke-linejoin="round" />
<ellipse cx="1153.9" cy="1427.6" rx="3.5" ry="1.7" fill="#d8b848" stroke="#3a2a05" stroke-width="0.7"/>
<ellipse cx="1170.7" cy="1436.3" rx="3.3" ry="1.7" fill="#d8b848" stroke="#3a2a05" stroke-width="0.7"/>
<polygon points="1145.8,1450.9 1162.2,1448.7 1163.3,1458.5 1154.5,1465.1 1146.3,1461.8" fill="#b8962c" stroke="#3a2a05" stroke-width="0.9" stroke-linejoin="round" />
<polygon points="1163.3,1458.5 1178.5,1456.4 1179.6,1467.3 1172,1473.8 1163.3,1470.5" fill="#b8962c" stroke="#3a2a05" stroke-width="0.9" stroke-linejoin="round" />
<polygon points="1153.5,1461.8 1163.3,1458.5 1182.9,1459.6 1186.2,1465.1 1172,1473.8 1173.1,1479.3 1163.3,1482.5 1158.5,1477.1 1158.9,1469.5" fill="#b8962c" stroke="#3a2a05" stroke-width="0.9" stroke-linejoin="round" />
<polygon points="1121.8,1445.5 1132.7,1439.6 1134.3,1442.2 1134.3,1501.5 1146.9,1504.4 1149.5,1507.6 1139.3,1512.4 1121.8,1502.6" fill="#55555a" stroke="#111" stroke-width="1" stroke-linejoin="round" />
<polygon points="1125.7,1456.4 1129.5,1454.2 1129.5,1500 1125.7,1499.3" fill="#9a9a9e" stroke="#222" stroke-width="0.6" stroke-linejoin="round" />
<polygon points="1121.8,1502.6 1134.3,1501.5 1146.9,1504.4 1149.5,1507.6 1139.3,1512.4" fill="#b5b5b8" stroke="#111" stroke-width="0.8" stroke-linejoin="round" />
<ellipse cx="1127.7" cy="1450.5" rx="1.3" ry="1.3" fill="#ccc" stroke="#111" stroke-width="0.5"/>
<polyline points="964.9,1369.6 964.9,1413.8" fill="none" stroke="#222" stroke-width="1.4" stroke-linejoin="round" stroke-linecap="round" />
<polyline points="982.1,1369.6 982.1,1372.1" fill="none" stroke="#222" stroke-width="1.2" stroke-linejoin="round" stroke-linecap="round" />
<polygon points="963.2,1356.1 985.3,1356.1 982.8,1370.8 965.7,1370.8" fill="#6a6a6c" stroke="#111" stroke-width="0.9" stroke-linejoin="round" />
<ellipse cx="974.3" cy="1355.6" rx="11" ry="6.4" fill="#3a3a3c" stroke="#111" stroke-width="1"/>
<ellipse cx="974.3" cy="1356.6" rx="7.4" ry="3.9" fill="#88888b" stroke="#111" stroke-width="0.7"/>
<polygon points="986.5,1373.3 1001.3,1365.9 1008.6,1370.8 1008.6,1396.6 993.9,1401.5 987.8,1396.6" fill="#68686c" stroke="#111" stroke-width="1" stroke-linejoin="round" />
<polygon points="993.9,1378.2 1008.6,1370.8 1008.6,1396.6 993.9,1401.5" fill="#8c8c90" stroke="#111" stroke-width="0.8" stroke-linejoin="round" />
<ellipse cx="1008.6" cy="1388" rx="5.4" ry="7.4" fill="#4a4a4c" stroke="#111" stroke-width="0.9"/>
<ellipse cx="1013" cy="1388.8" rx="2.9" ry="4.4" fill="#9a9a9c" stroke="#111" stroke-width="0.8"/>
<ellipse cx="1052.3" cy="1423.6" rx="16.2" ry="7.9" fill="#4a4a4c" stroke="#111" stroke-width="1"/>
<polygon points="1041.7,1415 1062.6,1415 1060.6,1423.6 1043.5,1423.6" fill="#5c5c5e" stroke="#111" stroke-width="0.8" stroke-linejoin="round" />
<ellipse cx="1052.3" cy="1415" rx="10.6" ry="4.9" fill="#77777a" stroke="#111" stroke-width="0.9"/>
<polygon points="1049.1,1405.9 1055.2,1405.9 1055.7,1414.3 1048.6,1414.3" fill="#88888b" stroke="#111" stroke-width="0.8" stroke-linejoin="round" />
<polygon points="682.9,1009.3 696.2,984.4 764.6,1021.2 740.6,1040.4" fill="#909096" stroke="#111" stroke-width="1" stroke-linejoin="round" />
<path d="M672.3 996.9 C672.6 995 676.2 988 677.6 987.1 C679 986.2 691.8 982.8 693 982.7 C694.3 982.5 696.9 982.7 696.2 984.4 C695.6 986.2 684 1007 682.9 1009.3 C681.9 1011.5 681 1017.8 680.3 1018.2 C679.6 1018.5 672.8 1016 672.3 1014.6 C671.7 1013.2 671.9 998.7 672.3 996.9Z" fill="#5c5c60" stroke="#111" stroke-width="1" stroke-linejoin="round" />
<path d="M740.6 1040.4 C740.9 1038.7 742.6 1031 744.2 1029.7 C745.8 1028.4 764.1 1019.9 764.6 1021.2 C765.1 1022.5 752.9 1047.3 751.3 1049.6 C749.7 1051.8 741.3 1055.5 740.6 1054.9 C739.9 1054.3 740.4 1042 740.6 1040.4Z" fill="#5c5c60" stroke="#111" stroke-width="1" stroke-linejoin="round" />
<polygon points="644.8,1012.8 646.5,1011.1 698.9,1041.3 698,1068.2 644.8,1037.7" fill="#4b5b27" stroke="#111" stroke-width="1" stroke-linejoin="round" />
<polygon points="648.7,1029.7 674.9,1043.9 675.8,1051.9 649.2,1038.6" fill="#2a2a2a" stroke="#111" stroke-width="0.7" stroke-linejoin="round" />
<polygon points="648.7,1029.7 651,1027.9 677.1,1042.1 674.9,1043.9" fill="#555" stroke="#111" stroke-width="0.6" stroke-linejoin="round" />
<ellipse cx="681.1" cy="1050.1" rx="2.5" ry="2.5" fill="#1e2a10" stroke="#111" stroke-width="0.6"/>
<ellipse cx="690.9" cy="1055.5" rx="2.5" ry="2.5" fill="#1e2a10" stroke="#111" stroke-width="0.6"/>
<ellipse cx="671.4" cy="1031.5" rx="2.8" ry="1.2" transform="rotate(30 671.4 1031.5)" fill="#2a3a18" stroke="#111" stroke-width="0.6"/>
<polygon points="594.2,1031.5 596.8,1028.3 666.4,1067.9 666.4,1088.7 664.3,1089.4 594.2,1048.4" fill="#8a8a8e" stroke="#111" stroke-width="1" stroke-linejoin="round" />
<polygon points="617.6,1048.4 642.1,1062 642.1,1069.1 617.6,1055.5" fill="#b2bae8" stroke="#333" stroke-width="0.7" stroke-linejoin="round" />
<polygon points="645.6,1063.4 653.6,1067.9 653.6,1076.8 645.6,1072.3" fill="#333" stroke-linejoin="round" />
<polygon points="656.3,1068.8 664.3,1073.2 664.3,1083.9 656.3,1078.5" fill="#444" stroke-linejoin="round" />
<polyline points="597.2,1039.5 613.7,1048.9" fill="none" stroke="#222" stroke-width="2" stroke-linejoin="round" stroke-linecap="round" />
<path d="M812.5 1039.5 C815.6 1036.1 847.5 1017.2 850.7 1018.2 C853.9 1019.1 851.1 1045.9 851.1 1051 C851.1 1056.1 851 1075.3 850.7 1079.4 C850.5 1083.6 848.9 1098.3 848 1100.7 C847.2 1103.1 842 1107.5 840.1 1108.2 C838.1 1108.9 826.1 1109.2 824.1 1108.7 C822.1 1108.2 816.7 1104.9 816.1 1102.5 C815.5 1100.1 817.1 1083.1 817 1079.4 C816.8 1075.7 814.7 1061.4 814.3 1058.1 C813.9 1054.8 809.5 1042.8 812.5 1039.5Z" fill="#1c1c1c" stroke="#000" stroke-width="1" stroke-linejoin="round" />
<polygon points="812.5,1039.5 850.7,1018.2 850.7,1023.5 813.4,1044.3" fill="#3a3a3a" stroke-linejoin="round" />
<polyline points="831.2,1031.5 834.7,1104.3" fill="none" stroke="#3c3c3c" stroke-width="1.2" stroke-linejoin="round" stroke-linecap="round" />
<polygon points="827.6,1134.5 836.9,1138.9 836.9,1149.6 841.8,1151.3 842.7,1175.3 850.7,1184.2 838.3,1192.2 824.1,1187.7 820.2,1182.4 822.3,1154.9 827.3,1151.3" fill="#2c2c2e" stroke="#000" stroke-width="1" stroke-linejoin="round" />
<polygon points="828.5,1155.8 835.6,1157.5 835.1,1175.3 828.5,1174.4" fill="#505055" stroke="#111" stroke-width="0.7" stroke-linejoin="round" />
<polygon points="835.6,1153.1 842.7,1155.2 842.4,1158.8 835.6,1156.7" fill="#c8562a" stroke="#4a1a08" stroke-width="0.5" stroke-linejoin="round" />
<polygon points="838.3,1163.8 845.4,1165.9 845,1169.4 838.3,1167.3" fill="#c8562a" stroke="#4a1a08" stroke-width="0.5" stroke-linejoin="round" />
<polygon points="836.5,1172.6 843.6,1174.8 843.2,1178.3 836.5,1176.2" fill="#c8562a" stroke="#4a1a08" stroke-width="0.5" stroke-linejoin="round" />
<polygon points="840.1,1182.4 847.2,1184.5 846.8,1188.1 840.1,1186" fill="#c8562a" stroke="#4a1a08" stroke-width="0.5" stroke-linejoin="round" />
<ellipse cx="827.6" cy="1182.4" rx="7.5" ry="3.9" fill="#38383a" stroke="#000" stroke-width="0.8"/>
</g>
<g id="leaders">
<polyline points="610.5,64.1 702,122.7" fill="none" stroke="#111" stroke-width="1.1"/>
<polygon points="702,122.7 688.8,119.2 693.3,112.2" fill="#000"/>
<polyline points="612.1,121.1 734.3,177" fill="none" stroke="#111" stroke-width="1.1"/>
<polygon points="734.3,177 720.7,175.4 724.2,167.8" fill="#000"/>
<polyline points="614,176.4 864.5,217.7" fill="none" stroke="#111" stroke-width="1.1"/>
<polygon points="864.5,217.7 851,219.7 852.4,211.4" fill="#000"/>
<polyline points="609.7,247.2 675,294 819.4,336" fill="none" stroke="#111" stroke-width="1.1"/>
<polygon points="819.4,336 805.7,336.4 808.1,328.3" fill="#000"/>
<polyline points="613.8,300.8 778.6,334.3" fill="none" stroke="#111" stroke-width="1.1"/>
<polygon points="778.6,334.3 765,335.8 766.7,327.6" fill="#000"/>
<polyline points="613.7,425.5 702,446 930,379.2" fill="none" stroke="#111" stroke-width="1.1"/>
<polygon points="930,379.2 918.7,386.9 916.3,378.8" fill="#000"/>
<polyline points="614.2,484.7 681,492 802.2,426.4 858.6,421.8" fill="none" stroke="#111" stroke-width="1.1"/>
<polygon points="858.6,421.8 846,427 845.3,418.7" fill="#000"/>
<polyline points="826.2,473.5 916,582.3" fill="none" stroke="#111" stroke-width="1.1"/>
<polygon points="916,582.3 904.5,575 911,569.6" fill="#000"/>
<polyline points="825.1,534.8 871.9,598.8 847.5,717" fill="none" stroke="#111" stroke-width="1.1"/>
<polygon points="847.5,717 846,703.4 854.2,705.1" fill="#000"/>
<polyline points="830,588.1 855.3,607.5 832.2,725" fill="none" stroke="#111" stroke-width="1.1"/>
<polygon points="832.2,725 830.6,711.4 838.8,713.1" fill="#000"/>
<polyline points="810.3,656.9 808.8,753.5" fill="none" stroke="#111" stroke-width="1.1"/>
<polygon points="808.8,753.5 804.8,740.4 813.2,740.6" fill="#000"/>
<polyline points="760,684.8 757.2,822" fill="none" stroke="#111" stroke-width="1.1"/>
<polygon points="757.2,822 753.3,808.9 761.7,809.1" fill="#000"/>
<polyline points="710.6,714.3 713,822" fill="none" stroke="#111" stroke-width="1.1"/>
<polygon points="713,822 708.5,809.1 716.9,808.9" fill="#000"/>
<polyline points="662.5,742.1 673.5,831" fill="none" stroke="#111" stroke-width="1.1"/>
<polygon points="673.5,831 667.7,818.6 676.1,817.6" fill="#000"/>
<polyline points="612.8,770.8 630,857" fill="none" stroke="#111" stroke-width="1.1"/>
<polygon points="630,857 623.3,845.1 631.6,843.4" fill="#000"/>
<polyline points="563,800.4 575.6,846" fill="none" stroke="#111" stroke-width="1.1"/>
<polygon points="575.6,846 568.1,834.6 576.2,832.4" fill="#000"/>
<polyline points="519.8,824.1 544,851" fill="none" stroke="#111" stroke-width="1.1"/>
<polygon points="544,851 532.2,844.1 538.4,838.5" fill="#000"/>
<polyline points="474.3,842.5 523,857" fill="none" stroke="#111" stroke-width="1.1"/>
<polygon points="523,857 509.3,857.3 511.7,849.3" fill="#000"/>
<polyline points="419.6,871.1 531,895.2 581.1,914" fill="none" stroke="#111" stroke-width="1.1"/>
<polygon points="581.1,914 567.5,913.4 570.4,905.5" fill="#000"/>
<polyline points="531,895.2 570,920.3" fill="none" stroke="#111" stroke-width="1.1"/>
<polygon points="570,920.3 556.8,916.8 561.3,909.7" fill="#000"/>
<polyline points="365.6,901.4 534,936" fill="none" stroke="#111" stroke-width="1.1"/>
<polygon points="534,936 520.4,937.5 522.1,929.3" fill="#000"/>
<polyline points="313.3,929.9 500.9,952.1" fill="none" stroke="#111" stroke-width="1.1"/>
<polygon points="500.9,952.1 487.5,954.7 488.5,946.4" fill="#000"/>
<polyline points="257.5,960.4 458.3,985.4" fill="none" stroke="#111" stroke-width="1.1"/>
<polygon points="458.3,985.4 444.9,988 445.9,979.6" fill="#000"/>
<polyline points="202.8,995.2 343,1038.5" fill="none" stroke="#111" stroke-width="1.1"/>
<polygon points="343,1038.5 329.3,1038.7 331.8,1030.6" fill="#000"/>
<polyline points="369.9,504.3 305.3,571" fill="none" stroke="#111" stroke-width="1.1"/>
<polygon points="305.3,571 311.3,558.7 317.4,564.6" fill="#000"/>
<polyline points="369,563.8 338.3,592.4 318.9,733 293.6,759.2" fill="none" stroke="#111" stroke-width="1.1"/>
<polygon points="293.6,759.2 299.6,746.9 305.7,752.8" fill="#000"/>
<polyline points="373.9,632.1 344.1,679.6 319.8,772.7" fill="none" stroke="#111" stroke-width="1.1"/>
<polygon points="319.8,772.7 319,759.1 327.1,761.2" fill="#000"/>
<polyline points="381.4,702.7 363.5,780.5" fill="none" stroke="#111" stroke-width="1.1"/>
<polygon points="363.5,780.5 362.3,766.9 370.5,768.8" fill="#000"/>
<polyline points="1281.7,111.4 1240.7,110.4" fill="none" stroke="#111" stroke-width="1.1"/>
<polygon points="1240.7,110.4 1253.8,106.5 1253.6,114.9" fill="#000"/>
<polyline points="1282,175.9 1236.8,183.3 1148.3,156.7" fill="none" stroke="#111" stroke-width="1.1"/>
<polygon points="1148.3,156.7 1162,156.4 1159.5,164.5" fill="#000"/>
<polyline points="1282,226.9 1207.8,214.4 1067.8,222.1" fill="none" stroke="#111" stroke-width="1.1"/>
<polygon points="1067.8,222.1 1080.5,217.2 1081,225.6" fill="#000"/>
<polyline points="1284.3,281 1248,262.5 1187.5,277" fill="none" stroke="#111" stroke-width="1.1"/>
<polygon points="1187.5,277 1199.2,269.9 1201.1,278.1" fill="#000"/>
<polyline points="1281.7,354.4 1213.2,352.7" fill="none" stroke="#111" stroke-width="1.1"/>
<polygon points="1213.2,352.7 1226.3,348.8 1226.1,357.2" fill="#000"/>
<polyline points="1594.3,267.1 1747.9,274" fill="none" stroke="#111" stroke-width="1.1"/>
<polygon points="1747.9,274 1734.7,277.6 1735.1,269.2" fill="#000"/>
<polyline points="1532,314.4 1594,377.6" fill="none" stroke="#111" stroke-width="1.1"/>
<polygon points="1594,377.6 1581.9,371.3 1587.9,365.4" fill="#000"/>
<polyline points="1472.1,348.6 1528.4,472.4" fill="none" stroke="#111" stroke-width="1.1"/>
<polygon points="1528.4,472.4 1519.2,462.3 1526.8,458.8" fill="#000"/>
<polyline points="1418.4,377.8 1474.7,529.5" fill="none" stroke="#111" stroke-width="1.1"/>
<polygon points="1474.7,529.5 1466.2,518.8 1474.1,515.9" fill="#000"/>
<polyline points="1361.7,409 1383.1,546.9" fill="none" stroke="#111" stroke-width="1.1"/>
<polygon points="1383.1,546.9 1377,534.7 1385.3,533.4" fill="#000"/>
<polyline points="1308.6,439.5 1318.3,505.5" fill="none" stroke="#111" stroke-width="1.1"/>
<polygon points="1318.3,505.5 1312.2,493.3 1320.6,492" fill="#000"/>
<polyline points="1264.1,466.4 1324.2,577.5" fill="none" stroke="#111" stroke-width="1.1"/>
<polygon points="1324.2,577.5 1314.3,568.1 1321.7,564.1" fill="#000"/>
<polyline points="1218.2,491.2 1266.4,539.3" fill="none" stroke="#111" stroke-width="1.1"/>
<polygon points="1266.4,539.3 1254.2,533.1 1260.2,527.1" fill="#000"/>
<polyline points="1164.8,521 1217.3,601.5" fill="none" stroke="#111" stroke-width="1.1"/>
<polygon points="1217.3,601.5 1206.7,592.9 1213.7,588.3" fill="#000"/>
<polyline points="1004.3,514.8 988,597" fill="none" stroke="#111" stroke-width="1.1"/>
<polygon points="988,597 986.4,583.4 994.6,585.1" fill="#000"/>
<polyline points="947.4,515.3 951.4,653" fill="none" stroke="#111" stroke-width="1.1"/>
<polygon points="951.4,653 946.8,640.1 955.2,639.9" fill="#000"/>
<polyline points="1539.1,607.2 1415.8,507.6" fill="none" stroke="#111" stroke-width="1.1"/>
<polygon points="1415.8,507.6 1428.6,512.5 1423.3,519" fill="#000"/>
<polyline points="1541.9,661.3 1467.1,576.4" fill="none" stroke="#111" stroke-width="1.1"/>
<polygon points="1467.1,576.4 1478.8,583.4 1472.5,588.9" fill="#000"/>
<polyline points="1540.4,722.3 1443.1,629.8" fill="none" stroke="#111" stroke-width="1.1"/>
<polygon points="1443.1,629.8 1455.4,635.7 1449.6,641.8" fill="#000"/>
<polyline points="1541.9,779.8 1414.7,644" fill="none" stroke="#111" stroke-width="1.1"/>
<polygon points="1414.7,644 1426.7,650.6 1420.5,656.4" fill="#000"/>
<polyline points="1482.2,779.5 1389.6,676.7" fill="none" stroke="#111" stroke-width="1.1"/>
<polygon points="1389.6,676.7 1401.4,683.5 1395.2,689.2" fill="#000"/>
<polyline points="1418.7,782.7 1384.2,756.4 1323.1,650.6" fill="none" stroke="#111" stroke-width="1.1"/>
<polygon points="1323.1,650.6 1333.2,659.8 1326,664" fill="#000"/>
<polyline points="1355,801.2 1245.8,818.1" fill="none" stroke="#111" stroke-width="1.1"/>
<polygon points="1245.8,818.1 1258,812 1259.3,820.3" fill="#000"/>
<polyline points="1770.9,944.6 1703.4,841.6" fill="none" stroke="#111" stroke-width="1.1"/>
<polygon points="1703.4,841.6 1714,850.2 1707,854.8" fill="#000"/>
<polyline points="1763.4,952.3 1654.4,886.5" fill="none" stroke="#111" stroke-width="1.1"/>
<polygon points="1654.4,886.5 1667.7,889.6 1663.4,896.8" fill="#000"/>
<polyline points="1760.7,958.9 1584.4,913.7" fill="none" stroke="#111" stroke-width="1.1"/>
<polygon points="1584.4,913.7 1598,912.9 1596,921" fill="#000"/>
<polyline points="1614.6,1006.1 1546.8,997.2" fill="none" stroke="#111" stroke-width="1.1"/>
<polygon points="1546.8,997.2 1560.2,994.7 1559.1,1003" fill="#000"/>
<polyline points="1615.1,1077.3 1325.8,1149.4" fill="none" stroke="#111" stroke-width="1.1"/>
<polygon points="1325.8,1149.4 1337.4,1142.2 1339.4,1150.3" fill="#000"/>
<polyline points="1615.4,1138.3 1524.8,1165.8 1250.1,1186" fill="none" stroke="#111" stroke-width="1.1"/>
<polygon points="1250.1,1186 1262.8,1180.9 1263.4,1189.2" fill="#000"/>
<polyline points="1617.8,1205.4 1433.2,1314.6" fill="none" stroke="#111" stroke-width="1.1"/>
<polygon points="1433.2,1314.6 1442.2,1304.4 1446.5,1311.6" fill="#000"/>
<polyline points="937.4,1030.6 920.8,983.8" fill="none" stroke="#111" stroke-width="1.1"/>
<polygon points="920.8,983.8 929.1,994.7 921.2,997.5" fill="#000"/>
<polyline points="1020,1032.5 1137.3,832.4" fill="none" stroke="#111" stroke-width="1.1"/>
<polygon points="1137.3,832.4 1134.3,845.7 1127.1,841.5" fill="#000"/>
<polyline points="523.5,1075.4 580.5,1102.2 620.8,1065.2" fill="none" stroke="#111" stroke-width="1.1"/>
<polygon points="620.8,1065.2 614.1,1077.1 608.4,1070.9" fill="#000"/>
<polyline points="526.1,1121.9 666.4,1103.8 692.3,1067" fill="none" stroke="#111" stroke-width="1.1"/>
<polygon points="692.3,1067 688.3,1080 681.4,1075.2" fill="#000"/>
<polyline points="525.7,1179.5 631.4,1154.9 744.2,1056.3" fill="none" stroke="#111" stroke-width="1.1"/>
<polygon points="744.2,1056.3 737.2,1068 731.6,1061.7" fill="#000"/>
<polyline points="524.7,1232.4 646.5,1186.5 785.9,1029.7" fill="none" stroke="#111" stroke-width="1.1"/>
<polygon points="785.9,1029.7 780.4,1042.2 774.1,1036.6" fill="#000"/>
<polyline points="522.5,1283.9 814.3,1097.2" fill="none" stroke="#111" stroke-width="1.1"/>
<polygon points="814.3,1097.2 805.6,1107.7 801.1,1100.7" fill="#000"/>
<polyline points="521.4,1336.4 676.7,1219.7 822.3,1163.8" fill="none" stroke="#111" stroke-width="1.1"/>
<polygon points="822.3,1163.8 811.7,1172.4 808.7,1164.5" fill="#000"/>
<polyline points="520.3,1395 609.7,1316.4 705.5,1295.8" fill="none" stroke="#111" stroke-width="1.1"/>
<polygon points="705.5,1295.8 693.7,1302.6 691.9,1294.4" fill="#000"/>
<polyline points="517.7,1454.5 612.1,1343" fill="none" stroke="#111" stroke-width="1.1"/>
<polygon points="612.1,1343 606.9,1355.6 600.5,1350.2" fill="#000"/>
<polyline points="515.6,1517.8 584.2,1415.8" fill="none" stroke="#111" stroke-width="1.1"/>
<polygon points="584.2,1415.8 580.4,1428.9 573.5,1424.2" fill="#000"/>
<polyline points="517.7,1582.5 583,1505.5" fill="none" stroke="#111" stroke-width="1.1"/>
<polygon points="583,1505.5 577.8,1518.1 571.4,1512.7" fill="#000"/>
<polyline points="831.8,1212.9 963.2,1132.8" fill="none" stroke="#111" stroke-width="1.1"/>
<polygon points="963.2,1132.8 954.3,1143.1 949.9,1136" fill="#000"/>
<polyline points="991.4,1567.2 932.5,1386.8 962,1364.7" fill="none" stroke="#111" stroke-width="1.1"/>
<polygon points="962,1364.7 954.1,1375.9 949.1,1369.1" fill="#000"/>
<polyline points="1066.4,1567.7 1001.3,1402.8" fill="none" stroke="#111" stroke-width="1.1"/>
<polygon points="1001.3,1402.8 1010,1413.4 1002.2,1416.4" fill="#000"/>
<polyline points="1166.2,1580.8 1096,1551 1052.8,1433.5" fill="none" stroke="#111" stroke-width="1.1"/>
<polygon points="1052.8,1433.5 1061.2,1444.3 1053.3,1447.2" fill="#000"/>
<polyline points="1283.9,1509.1 1180.7,1406.9" fill="none" stroke="#111" stroke-width="1.1"/>
<polygon points="1180.7,1406.9 1192.9,1413.1 1187,1419" fill="#000"/>
<polyline points="1278.2,1518.5 1186.2,1487.6" fill="none" stroke="#111" stroke-width="1.1"/>
<polygon points="1186.2,1487.6 1199.9,1487.8 1197.2,1495.7" fill="#000"/>
<polyline points="1277.1,1523.4 1149.1,1508.8" fill="none" stroke="#111" stroke-width="1.1"/>
<polygon points="1149.1,1508.8 1162.5,1506.1 1161.5,1514.5" fill="#000"/>
</g>
<g id="labels">
<circle cx="590" cy="51" r="24.3" fill="#fff" stroke="#1a1a1a" stroke-width="1.1"/>
<circle cx="590" cy="111" r="24.3" fill="#fff" stroke="#1a1a1a" stroke-width="1.1"/>
<circle cx="590" cy="172.5" r="24.3" fill="#fff" stroke="#1a1a1a" stroke-width="1.1"/>
<circle cx="590" cy="233" r="24.3" fill="#fff" stroke="#1a1a1a" stroke-width="1.1"/>
<circle cx="590" cy="296" r="24.3" fill="#fff" stroke="#1a1a1a" stroke-width="1.1"/>
<circle cx="590" cy="420" r="24.3" fill="#fff" stroke="#1a1a1a" stroke-width="1.1"/>
<circle cx="590" cy="482" r="24.3" fill="#fff" stroke="#1a1a1a" stroke-width="1.1"/>
<circle cx="810.7" cy="454.8" r="24.3" fill="#fff" stroke="#1a1a1a" stroke-width="1.1"/>
<circle cx="810.7" cy="515.2" r="24.3" fill="#fff" stroke="#1a1a1a" stroke-width="1.1"/>
<circle cx="810.7" cy="573.3" r="24.3" fill="#fff" stroke="#1a1a1a" stroke-width="1.1"/>
<circle cx="810.7" cy="632.6" r="24.3" fill="#fff" stroke="#1a1a1a" stroke-width="1.1"/>
<circle cx="760.5" cy="660.5" r="24.3" fill="#fff" stroke="#1a1a1a" stroke-width="1.1"/>
<circle cx="710" cy="690" r="24.3" fill="#fff" stroke="#1a1a1a" stroke-width="1.1"/>
<circle cx="659.5" cy="718" r="24.3" fill="#fff" stroke="#1a1a1a" stroke-width="1.1"/>
<circle cx="608" cy="747" r="24.3" fill="#fff" stroke="#1a1a1a" stroke-width="1.1"/>
<circle cx="556.5" cy="777" r="24.3" fill="#fff" stroke="#1a1a1a" stroke-width="1.1"/>
<circle cx="503.5" cy="806" r="24.3" fill="#fff" stroke="#1a1a1a" stroke-width="1.1"/>
<circle cx="451" cy="835.5" r="24.3" fill="#fff" stroke="#1a1a1a" stroke-width="1.1"/>
<circle cx="395.8" cy="866" r="24.3" fill="#fff" stroke="#1a1a1a" stroke-width="1.1"/>
<circle cx="341.8" cy="896.5" r="24.3" fill="#fff" stroke="#1a1a1a" stroke-width="1.1"/>
<circle cx="289.2" cy="927" r="24.3" fill="#fff" stroke="#1a1a1a" stroke-width="1.1"/>
<circle cx="233.4" cy="957.4" r="24.3" fill="#fff" stroke="#1a1a1a" stroke-width="1.1"/>
<circle cx="179.6" cy="988" r="24.3" fill="#fff" stroke="#1a1a1a" stroke-width="1.1"/>
<circle cx="386.8" cy="486.8" r="24.3" fill="#fff" stroke="#1a1a1a" stroke-width="1.1"/>
<circle cx="386.8" cy="547.3" r="24.3" fill="#fff" stroke="#1a1a1a" stroke-width="1.1"/>
<circle cx="386.8" cy="611.5" r="24.3" fill="#fff" stroke="#1a1a1a" stroke-width="1.1"/>
<circle cx="386.8" cy="679" r="24.3" fill="#fff" stroke="#1a1a1a" stroke-width="1.1"/>
<circle cx="1306" cy="112" r="24.3" fill="#fff" stroke="#1a1a1a" stroke-width="1.1"/>
<circle cx="1306" cy="172" r="24.3" fill="#fff" stroke="#1a1a1a" stroke-width="1.1"/>
<circle cx="1306" cy="231" r="24.3" fill="#fff" stroke="#1a1a1a" stroke-width="1.1"/>
<circle cx="1306" cy="292" r="24.3" fill="#fff" stroke="#1a1a1a" stroke-width="1.1"/>
<circle cx="1306" cy="355" r="24.3" fill="#fff" stroke="#1a1a1a" stroke-width="1.1"/>
<circle cx="1570" cy="266" r="24.3" fill="#fff" stroke="#1a1a1a" stroke-width="1.1"/>
<circle cx="1515" cy="297" r="24.3" fill="#fff" stroke="#1a1a1a" stroke-width="1.1"/>
<circle cx="1462" cy="326.5" r="24.3" fill="#fff" stroke="#1a1a1a" stroke-width="1.1"/>
<circle cx="1410" cy="355" r="24.3" fill="#fff" stroke="#1a1a1a" stroke-width="1.1"/>
<circle cx="1358" cy="385" r="24.3" fill="#fff" stroke="#1a1a1a" stroke-width="1.1"/>
<circle cx="1305" cy="415.5" r="24.3" fill="#fff" stroke="#1a1a1a" stroke-width="1.1"/>
<circle cx="1252.5" cy="445" r="24.3" fill="#fff" stroke="#1a1a1a" stroke-width="1.1"/>
<circle cx="1201" cy="474" r="24.3" fill="#fff" stroke="#1a1a1a" stroke-width="1.1"/>
<circle cx="1151.5" cy="500.7" r="24.3" fill="#fff" stroke="#1a1a1a" stroke-width="1.1"/>
<circle cx="1009" cy="491" r="24.3" fill="#fff" stroke="#1a1a1a" stroke-width="1.1"/>
<circle cx="947" cy="491" r="24.3" fill="#fff" stroke="#1a1a1a" stroke-width="1.1"/>
<circle cx="1558" cy="622.5" r="24.3" fill="#fff" stroke="#1a1a1a" stroke-width="1.1"/>
<circle cx="1558" cy="679.5" r="24.3" fill="#fff" stroke="#1a1a1a" stroke-width="1.1"/>
<circle cx="1558" cy="739" r="24.3" fill="#fff" stroke="#1a1a1a" stroke-width="1.1"/>
<circle cx="1558.5" cy="797.5" r="24.3" fill="#fff" stroke="#1a1a1a" stroke-width="1.1"/>
<circle cx="1498.5" cy="797.5" r="24.3" fill="#fff" stroke="#1a1a1a" stroke-width="1.1"/>
<circle cx="1438" cy="797.5" r="24.3" fill="#fff" stroke="#1a1a1a" stroke-width="1.1"/>
<circle cx="1379" cy="797.5" r="24.3" fill="#fff" stroke="#1a1a1a" stroke-width="1.1"/>
<circle cx="1784.2" cy="964.9" r="24.3" fill="#fff" stroke="#1a1a1a" stroke-width="1.1"/>
<circle cx="1638.7" cy="1009.2" r="24.3" fill="#fff" stroke="#1a1a1a" stroke-width="1.1"/>
<circle cx="1638.7" cy="1071.4" r="24.3" fill="#fff" stroke="#1a1a1a" stroke-width="1.1"/>
<circle cx="1638.7" cy="1131.2" r="24.3" fill="#fff" stroke="#1a1a1a" stroke-width="1.1"/>
<circle cx="1638.7" cy="1193" r="24.3" fill="#fff" stroke="#1a1a1a" stroke-width="1.1"/>
<circle cx="945.7" cy="1053.5" r="24.3" fill="#fff" stroke="#1a1a1a" stroke-width="1.1"/>
<circle cx="1007.7" cy="1053.5" r="24.3" fill="#fff" stroke="#1a1a1a" stroke-width="1.1"/>
<circle cx="501.5" cy="1065.5" r="24.3" fill="#fff" stroke="#1a1a1a" stroke-width="1.1"/>
<circle cx="501.5" cy="1124.8" r="24.3" fill="#fff" stroke="#1a1a1a" stroke-width="1.1"/>
<circle cx="501.5" cy="1184.3" r="24.3" fill="#fff" stroke="#1a1a1a" stroke-width="1.1"/>
<circle cx="501.5" cy="1241.2" r="24.3" fill="#fff" stroke="#1a1a1a" stroke-width="1.1"/>
<circle cx="501.5" cy="1296.8" r="24.3" fill="#fff" stroke="#1a1a1a" stroke-width="1.1"/>
<circle cx="501.5" cy="1351.5" r="24.3" fill="#fff" stroke="#1a1a1a" stroke-width="1.1"/>
<circle cx="501.5" cy="1410.5" r="24.3" fill="#fff" stroke="#1a1a1a" stroke-width="1.1"/>
<circle cx="501.5" cy="1472.8" r="24.3" fill="#fff" stroke="#1a1a1a" stroke-width="1.1"/>
<circle cx="501.5" cy="1537.5" r="24.3" fill="#fff" stroke="#1a1a1a" stroke-width="1.1"/>
<circle cx="501.5" cy="1600" r="24.3" fill="#fff" stroke="#1a1a1a" stroke-width="1.1"/>
<circle cx="811" cy="1225.5" r="24.3" fill="#fff" stroke="#1a1a1a" stroke-width="1.1"/>
<circle cx="998.9" cy="1590.3" r="24.3" fill="#fff" stroke="#1a1a1a" stroke-width="1.1"/>
<circle cx="1075.3" cy="1590.3" r="24.3" fill="#fff" stroke="#1a1a1a" stroke-width="1.1"/>
<circle cx="1188.6" cy="1590.3" r="24.3" fill="#fff" stroke="#1a1a1a" stroke-width="1.1"/>
<circle cx="1301.2" cy="1526.2" r="24.3" fill="#fff" stroke="#1a1a1a" stroke-width="1.1"/>
</g>
<g id="labeltext" opacity="0.99">
<text x="590" y="59.8">16</text>
<text x="590" y="119.8">27</text>
<text x="590" y="181.3">26</text>
<text x="590" y="241.8">25</text>
<text x="590" y="304.8">24</text>
<text x="590" y="428.8">22</text>
<text x="590" y="490.8">21</text>
<text x="810.7" y="463.6">16</text>
<text x="810.7" y="524">15</text>
<text x="810.7" y="582.1">14</text>
<text x="810.7" y="641.4">13</text>
<text x="760.5" y="669.3">12</text>
<text x="710" y="698.8">11</text>
<text x="659.5" y="726.8">10</text>
<text x="608" y="755.8">9</text>
<text x="556.5" y="785.8">8</text>
<text x="503.5" y="814.8">7</text>
<text x="451" y="844.3">6</text>
<text x="395.8" y="874.8">5</text>
<text x="341.8" y="905.3">4</text>
<text x="289.2" y="935.8">3</text>
<text x="233.4" y="966.2">2</text>
<text x="179.6" y="996.8">1</text>
<text x="386.8" y="495.6">20</text>
<text x="386.8" y="556.1">19</text>
<text x="386.8" y="620.3">18</text>
<text x="386.8" y="687.8">17</text>
<text x="1306" y="120.8">28</text>
<text x="1306" y="180.8">16</text>
<text x="1306" y="239.8">30</text>
<text x="1306" y="300.8">31</text>
<text x="1306" y="363.8">16</text>
<text x="1570" y="274.8">16</text>
<text x="1515" y="305.8">41</text>
<text x="1462" y="335.3">40</text>
<text x="1410" y="363.8">39</text>
<text x="1358" y="393.8">38</text>
<text x="1305" y="424.3">37</text>
<text x="1252.5" y="453.8">36</text>
<text x="1201" y="482.8">35</text>
<text x="1151.5" y="509.5">34</text>
<text x="1009" y="499.8">33</text>
<text x="947" y="499.8">32</text>
<text x="1558" y="631.3">42</text>
<text x="1558" y="688.3">43</text>
<text x="1558" y="747.8">44</text>
<text x="1558.5" y="806.3">45</text>
<text x="1498.5" y="806.3">37</text>
<text x="1438" y="806.3">38</text>
<text x="1379" y="806.3">16</text>
<text x="1784.2" y="973.7">46</text>
<text x="1638.7" y="1018">47</text>
<text x="1638.7" y="1080.2">48</text>
<text x="1638.7" y="1140">49</text>
<text x="1638.7" y="1201.8">50</text>
<text x="945.7" y="1062.3">63</text>
<text x="1007.7" y="1062.3">64</text>
<text x="501.5" y="1074.3">51</text>
<text x="501.5" y="1133.6">52</text>
<text x="501.5" y="1193.1">53</text>
<text x="501.5" y="1250">54</text>
<text x="501.5" y="1305.6">55</text>
<text x="501.5" y="1360.3">56</text>
<text x="501.5" y="1419.3">57</text>
<text x="501.5" y="1481.6">58</text>
<text x="501.5" y="1546.3">59</text>
<text x="501.5" y="1608.8">60</text>
<text x="811" y="1234.3">65</text>
<text x="998.9" y="1599.1">65</text>
<text x="1075.3" y="1599.1">65</text>
<text x="1188.6" y="1599.1">61</text>
<text x="1301.2" y="1535">62</text>
</g>
</svg></body></html>
